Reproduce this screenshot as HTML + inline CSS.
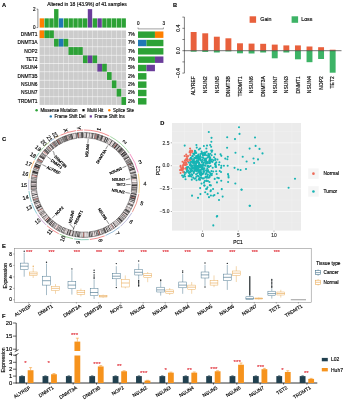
<!DOCTYPE html>
<html lang="en">
<head>
<meta charset="utf-8">
<title>Figure</title>
<style>
html,body{margin:0;padding:0;background:#fff;}
body{width:343px;height:400px;overflow:hidden;}
svg{display:block;font-family:"Liberation Sans",sans-serif;}
</style>
</head>
<body>
<svg width="343" height="400" viewBox="0 0 343 400">
<rect x="0" y="0" width="343" height="400" fill="#ffffff"/>
<text x="2.00" y="7.30" font-size="5.7" text-anchor="start" fill="#000" stroke="#000" stroke-width="0.14" font-weight="bold">A</text>
<text x="173.00" y="7.10" font-size="5.7" text-anchor="start" fill="#000" stroke="#000" stroke-width="0.14" font-weight="bold">B</text>
<text x="2.00" y="140.70" font-size="5.7" text-anchor="start" fill="#000" stroke="#000" stroke-width="0.14" font-weight="bold">C</text>
<text x="160.20" y="125.40" font-size="5.7" text-anchor="start" fill="#000" stroke="#000" stroke-width="0.14" font-weight="bold">D</text>
<text x="2.10" y="247.70" font-size="5.7" text-anchor="start" fill="#000" stroke="#000" stroke-width="0.14" font-weight="bold">E</text>
<text x="1.90" y="318.40" font-size="5.7" text-anchor="start" fill="#000" stroke="#000" stroke-width="0.14" font-weight="bold">F</text>
<g id="panelA">
<text x="87.00" y="5.80" font-size="5.0" text-anchor="middle" fill="#000" stroke="#000" stroke-width="0.14">Altered in 18 (43.9%) of 41 samples</text>
<rect x="39.65" y="18.35" width="4.37" height="9.25" fill="#FF7F00"/>
<rect x="44.46" y="18.35" width="4.37" height="9.25" fill="#2CA236"/>
<rect x="49.28" y="18.35" width="4.37" height="9.25" fill="#2CA236"/>
<rect x="54.09" y="9.10" width="4.37" height="18.50" fill="#2CA236"/>
<rect x="58.91" y="18.35" width="4.37" height="9.25" fill="#1F78B4"/>
<rect x="63.73" y="18.35" width="4.37" height="9.25" fill="#2CA236"/>
<rect x="68.54" y="18.35" width="4.37" height="9.25" fill="#2CA236"/>
<rect x="73.36" y="18.35" width="4.37" height="9.25" fill="#2CA236"/>
<rect x="78.17" y="18.35" width="4.37" height="9.25" fill="#2CA236"/>
<rect x="82.99" y="18.35" width="4.37" height="9.25" fill="#2CA236"/>
<rect x="87.80" y="9.10" width="4.37" height="18.50" fill="#6A3D9A"/>
<rect x="92.62" y="18.35" width="4.37" height="9.25" fill="#2CA236"/>
<rect x="97.43" y="18.35" width="4.37" height="9.25" fill="#6A3D9A"/>
<rect x="102.25" y="18.35" width="4.37" height="9.25" fill="#2CA236"/>
<rect x="107.06" y="18.35" width="4.37" height="9.25" fill="#2CA236"/>
<rect x="111.88" y="18.35" width="4.37" height="9.25" fill="#2CA236"/>
<rect x="116.69" y="18.35" width="4.37" height="9.25" fill="#2CA236"/>
<rect x="121.51" y="18.35" width="4.37" height="9.25" fill="#2CA236"/>
<line x1="37.90" y1="27.60" x2="37.90" y2="9.10" stroke="#000" stroke-width="0.45"/>
<line x1="36.60" y1="27.60" x2="37.90" y2="27.60" stroke="#000" stroke-width="0.45"/>
<line x1="36.60" y1="9.10" x2="37.90" y2="9.10" stroke="#000" stroke-width="0.45"/>
<text x="35.60" y="29.20" font-size="4.6" text-anchor="end" fill="#000" stroke="#000" stroke-width="0.14">0</text>
<text x="35.60" y="10.70" font-size="4.6" text-anchor="end" fill="#000" stroke="#000" stroke-width="0.14">2</text>
<rect x="39.60" y="30.45" width="4.60" height="7.80" fill="#CCCCCC"/>
<rect x="44.41" y="30.45" width="4.60" height="7.80" fill="#CCCCCC"/>
<rect x="49.23" y="30.45" width="4.60" height="7.80" fill="#CCCCCC"/>
<rect x="54.05" y="30.45" width="4.60" height="7.80" fill="#CCCCCC"/>
<rect x="58.86" y="30.45" width="4.60" height="7.80" fill="#CCCCCC"/>
<rect x="63.68" y="30.45" width="4.60" height="7.80" fill="#CCCCCC"/>
<rect x="68.49" y="30.45" width="4.60" height="7.80" fill="#CCCCCC"/>
<rect x="73.31" y="30.45" width="4.60" height="7.80" fill="#CCCCCC"/>
<rect x="78.12" y="30.45" width="4.60" height="7.80" fill="#CCCCCC"/>
<rect x="82.94" y="30.45" width="4.60" height="7.80" fill="#CCCCCC"/>
<rect x="87.75" y="30.45" width="4.60" height="7.80" fill="#CCCCCC"/>
<rect x="92.56" y="30.45" width="4.60" height="7.80" fill="#CCCCCC"/>
<rect x="97.38" y="30.45" width="4.60" height="7.80" fill="#CCCCCC"/>
<rect x="102.19" y="30.45" width="4.60" height="7.80" fill="#CCCCCC"/>
<rect x="107.01" y="30.45" width="4.60" height="7.80" fill="#CCCCCC"/>
<rect x="111.83" y="30.45" width="4.60" height="7.80" fill="#CCCCCC"/>
<rect x="116.64" y="30.45" width="4.60" height="7.80" fill="#CCCCCC"/>
<rect x="121.45" y="30.45" width="4.60" height="7.80" fill="#CCCCCC"/>
<rect x="39.60" y="30.45" width="4.60" height="7.80" fill="#FF7F00"/>
<rect x="44.41" y="30.45" width="4.60" height="7.80" fill="#2CA236"/>
<rect x="49.23" y="30.45" width="4.60" height="7.80" fill="#2CA236"/>
<text x="37.60" y="36.10" font-size="4.9" text-anchor="end" fill="#000" stroke="#000" stroke-width="0.14">DNMT1</text>
<text x="131.40" y="36.10" font-size="4.8" text-anchor="middle" fill="#000" stroke="#000" stroke-width="0.14">7%</text>
<rect x="39.60" y="38.78" width="4.60" height="7.80" fill="#CCCCCC"/>
<rect x="44.41" y="38.78" width="4.60" height="7.80" fill="#CCCCCC"/>
<rect x="49.23" y="38.78" width="4.60" height="7.80" fill="#CCCCCC"/>
<rect x="54.05" y="38.78" width="4.60" height="7.80" fill="#CCCCCC"/>
<rect x="58.86" y="38.78" width="4.60" height="7.80" fill="#CCCCCC"/>
<rect x="63.68" y="38.78" width="4.60" height="7.80" fill="#CCCCCC"/>
<rect x="68.49" y="38.78" width="4.60" height="7.80" fill="#CCCCCC"/>
<rect x="73.31" y="38.78" width="4.60" height="7.80" fill="#CCCCCC"/>
<rect x="78.12" y="38.78" width="4.60" height="7.80" fill="#CCCCCC"/>
<rect x="82.94" y="38.78" width="4.60" height="7.80" fill="#CCCCCC"/>
<rect x="87.75" y="38.78" width="4.60" height="7.80" fill="#CCCCCC"/>
<rect x="92.56" y="38.78" width="4.60" height="7.80" fill="#CCCCCC"/>
<rect x="97.38" y="38.78" width="4.60" height="7.80" fill="#CCCCCC"/>
<rect x="102.19" y="38.78" width="4.60" height="7.80" fill="#CCCCCC"/>
<rect x="107.01" y="38.78" width="4.60" height="7.80" fill="#CCCCCC"/>
<rect x="111.83" y="38.78" width="4.60" height="7.80" fill="#CCCCCC"/>
<rect x="116.64" y="38.78" width="4.60" height="7.80" fill="#CCCCCC"/>
<rect x="121.45" y="38.78" width="4.60" height="7.80" fill="#CCCCCC"/>
<rect x="54.05" y="38.78" width="4.60" height="7.80" fill="#2CA236"/>
<rect x="58.86" y="38.78" width="4.60" height="7.80" fill="#1F78B4"/>
<rect x="63.68" y="38.78" width="4.60" height="7.80" fill="#2CA236"/>
<text x="37.60" y="44.43" font-size="4.9" text-anchor="end" fill="#000" stroke="#000" stroke-width="0.14">DNMT3A</text>
<text x="131.40" y="44.43" font-size="4.8" text-anchor="middle" fill="#000" stroke="#000" stroke-width="0.14">7%</text>
<rect x="39.60" y="47.11" width="4.60" height="7.80" fill="#CCCCCC"/>
<rect x="44.41" y="47.11" width="4.60" height="7.80" fill="#CCCCCC"/>
<rect x="49.23" y="47.11" width="4.60" height="7.80" fill="#CCCCCC"/>
<rect x="54.05" y="47.11" width="4.60" height="7.80" fill="#CCCCCC"/>
<rect x="58.86" y="47.11" width="4.60" height="7.80" fill="#CCCCCC"/>
<rect x="63.68" y="47.11" width="4.60" height="7.80" fill="#CCCCCC"/>
<rect x="68.49" y="47.11" width="4.60" height="7.80" fill="#CCCCCC"/>
<rect x="73.31" y="47.11" width="4.60" height="7.80" fill="#CCCCCC"/>
<rect x="78.12" y="47.11" width="4.60" height="7.80" fill="#CCCCCC"/>
<rect x="82.94" y="47.11" width="4.60" height="7.80" fill="#CCCCCC"/>
<rect x="87.75" y="47.11" width="4.60" height="7.80" fill="#CCCCCC"/>
<rect x="92.56" y="47.11" width="4.60" height="7.80" fill="#CCCCCC"/>
<rect x="97.38" y="47.11" width="4.60" height="7.80" fill="#CCCCCC"/>
<rect x="102.19" y="47.11" width="4.60" height="7.80" fill="#CCCCCC"/>
<rect x="107.01" y="47.11" width="4.60" height="7.80" fill="#CCCCCC"/>
<rect x="111.83" y="47.11" width="4.60" height="7.80" fill="#CCCCCC"/>
<rect x="116.64" y="47.11" width="4.60" height="7.80" fill="#CCCCCC"/>
<rect x="121.45" y="47.11" width="4.60" height="7.80" fill="#CCCCCC"/>
<rect x="68.49" y="47.11" width="4.60" height="7.80" fill="#2CA236"/>
<rect x="73.31" y="47.11" width="4.60" height="7.80" fill="#2CA236"/>
<rect x="78.12" y="47.11" width="4.60" height="7.80" fill="#2CA236"/>
<text x="37.60" y="52.76" font-size="4.9" text-anchor="end" fill="#000" stroke="#000" stroke-width="0.14">NOP2</text>
<text x="131.40" y="52.76" font-size="4.8" text-anchor="middle" fill="#000" stroke="#000" stroke-width="0.14">7%</text>
<rect x="39.60" y="55.44" width="4.60" height="7.80" fill="#CCCCCC"/>
<rect x="44.41" y="55.44" width="4.60" height="7.80" fill="#CCCCCC"/>
<rect x="49.23" y="55.44" width="4.60" height="7.80" fill="#CCCCCC"/>
<rect x="54.05" y="55.44" width="4.60" height="7.80" fill="#CCCCCC"/>
<rect x="58.86" y="55.44" width="4.60" height="7.80" fill="#CCCCCC"/>
<rect x="63.68" y="55.44" width="4.60" height="7.80" fill="#CCCCCC"/>
<rect x="68.49" y="55.44" width="4.60" height="7.80" fill="#CCCCCC"/>
<rect x="73.31" y="55.44" width="4.60" height="7.80" fill="#CCCCCC"/>
<rect x="78.12" y="55.44" width="4.60" height="7.80" fill="#CCCCCC"/>
<rect x="82.94" y="55.44" width="4.60" height="7.80" fill="#CCCCCC"/>
<rect x="87.75" y="55.44" width="4.60" height="7.80" fill="#CCCCCC"/>
<rect x="92.56" y="55.44" width="4.60" height="7.80" fill="#CCCCCC"/>
<rect x="97.38" y="55.44" width="4.60" height="7.80" fill="#CCCCCC"/>
<rect x="102.19" y="55.44" width="4.60" height="7.80" fill="#CCCCCC"/>
<rect x="107.01" y="55.44" width="4.60" height="7.80" fill="#CCCCCC"/>
<rect x="111.83" y="55.44" width="4.60" height="7.80" fill="#CCCCCC"/>
<rect x="116.64" y="55.44" width="4.60" height="7.80" fill="#CCCCCC"/>
<rect x="121.45" y="55.44" width="4.60" height="7.80" fill="#CCCCCC"/>
<rect x="82.94" y="55.44" width="4.60" height="7.80" fill="#2CA236"/>
<rect x="87.75" y="55.44" width="4.60" height="7.80" fill="#6A3D9A"/>
<rect x="92.56" y="55.44" width="4.60" height="7.80" fill="#2CA236"/>
<text x="37.60" y="61.09" font-size="4.9" text-anchor="end" fill="#000" stroke="#000" stroke-width="0.14">TET2</text>
<text x="131.40" y="61.09" font-size="4.8" text-anchor="middle" fill="#000" stroke="#000" stroke-width="0.14">7%</text>
<rect x="39.60" y="63.77" width="4.60" height="7.80" fill="#CCCCCC"/>
<rect x="44.41" y="63.77" width="4.60" height="7.80" fill="#CCCCCC"/>
<rect x="49.23" y="63.77" width="4.60" height="7.80" fill="#CCCCCC"/>
<rect x="54.05" y="63.77" width="4.60" height="7.80" fill="#CCCCCC"/>
<rect x="58.86" y="63.77" width="4.60" height="7.80" fill="#CCCCCC"/>
<rect x="63.68" y="63.77" width="4.60" height="7.80" fill="#CCCCCC"/>
<rect x="68.49" y="63.77" width="4.60" height="7.80" fill="#CCCCCC"/>
<rect x="73.31" y="63.77" width="4.60" height="7.80" fill="#CCCCCC"/>
<rect x="78.12" y="63.77" width="4.60" height="7.80" fill="#CCCCCC"/>
<rect x="82.94" y="63.77" width="4.60" height="7.80" fill="#CCCCCC"/>
<rect x="87.75" y="63.77" width="4.60" height="7.80" fill="#CCCCCC"/>
<rect x="92.56" y="63.77" width="4.60" height="7.80" fill="#CCCCCC"/>
<rect x="97.38" y="63.77" width="4.60" height="7.80" fill="#CCCCCC"/>
<rect x="102.19" y="63.77" width="4.60" height="7.80" fill="#CCCCCC"/>
<rect x="107.01" y="63.77" width="4.60" height="7.80" fill="#CCCCCC"/>
<rect x="111.83" y="63.77" width="4.60" height="7.80" fill="#CCCCCC"/>
<rect x="116.64" y="63.77" width="4.60" height="7.80" fill="#CCCCCC"/>
<rect x="121.45" y="63.77" width="4.60" height="7.80" fill="#CCCCCC"/>
<rect x="97.38" y="63.77" width="4.60" height="7.80" fill="#6A3D9A"/>
<rect x="102.19" y="63.77" width="4.60" height="7.80" fill="#2CA236"/>
<text x="37.60" y="69.42" font-size="4.9" text-anchor="end" fill="#000" stroke="#000" stroke-width="0.14">NSUN4</text>
<text x="131.40" y="69.42" font-size="4.8" text-anchor="middle" fill="#000" stroke="#000" stroke-width="0.14">5%</text>
<rect x="39.60" y="72.10" width="4.60" height="7.80" fill="#CCCCCC"/>
<rect x="44.41" y="72.10" width="4.60" height="7.80" fill="#CCCCCC"/>
<rect x="49.23" y="72.10" width="4.60" height="7.80" fill="#CCCCCC"/>
<rect x="54.05" y="72.10" width="4.60" height="7.80" fill="#CCCCCC"/>
<rect x="58.86" y="72.10" width="4.60" height="7.80" fill="#CCCCCC"/>
<rect x="63.68" y="72.10" width="4.60" height="7.80" fill="#CCCCCC"/>
<rect x="68.49" y="72.10" width="4.60" height="7.80" fill="#CCCCCC"/>
<rect x="73.31" y="72.10" width="4.60" height="7.80" fill="#CCCCCC"/>
<rect x="78.12" y="72.10" width="4.60" height="7.80" fill="#CCCCCC"/>
<rect x="82.94" y="72.10" width="4.60" height="7.80" fill="#CCCCCC"/>
<rect x="87.75" y="72.10" width="4.60" height="7.80" fill="#CCCCCC"/>
<rect x="92.56" y="72.10" width="4.60" height="7.80" fill="#CCCCCC"/>
<rect x="97.38" y="72.10" width="4.60" height="7.80" fill="#CCCCCC"/>
<rect x="102.19" y="72.10" width="4.60" height="7.80" fill="#CCCCCC"/>
<rect x="107.01" y="72.10" width="4.60" height="7.80" fill="#CCCCCC"/>
<rect x="111.83" y="72.10" width="4.60" height="7.80" fill="#CCCCCC"/>
<rect x="116.64" y="72.10" width="4.60" height="7.80" fill="#CCCCCC"/>
<rect x="121.45" y="72.10" width="4.60" height="7.80" fill="#CCCCCC"/>
<rect x="107.01" y="72.10" width="4.60" height="7.80" fill="#2CA236"/>
<text x="37.60" y="77.75" font-size="4.9" text-anchor="end" fill="#000" stroke="#000" stroke-width="0.14">DNMT3B</text>
<text x="131.40" y="77.75" font-size="4.8" text-anchor="middle" fill="#000" stroke="#000" stroke-width="0.14">2%</text>
<rect x="39.60" y="80.43" width="4.60" height="7.80" fill="#CCCCCC"/>
<rect x="44.41" y="80.43" width="4.60" height="7.80" fill="#CCCCCC"/>
<rect x="49.23" y="80.43" width="4.60" height="7.80" fill="#CCCCCC"/>
<rect x="54.05" y="80.43" width="4.60" height="7.80" fill="#CCCCCC"/>
<rect x="58.86" y="80.43" width="4.60" height="7.80" fill="#CCCCCC"/>
<rect x="63.68" y="80.43" width="4.60" height="7.80" fill="#CCCCCC"/>
<rect x="68.49" y="80.43" width="4.60" height="7.80" fill="#CCCCCC"/>
<rect x="73.31" y="80.43" width="4.60" height="7.80" fill="#CCCCCC"/>
<rect x="78.12" y="80.43" width="4.60" height="7.80" fill="#CCCCCC"/>
<rect x="82.94" y="80.43" width="4.60" height="7.80" fill="#CCCCCC"/>
<rect x="87.75" y="80.43" width="4.60" height="7.80" fill="#CCCCCC"/>
<rect x="92.56" y="80.43" width="4.60" height="7.80" fill="#CCCCCC"/>
<rect x="97.38" y="80.43" width="4.60" height="7.80" fill="#CCCCCC"/>
<rect x="102.19" y="80.43" width="4.60" height="7.80" fill="#CCCCCC"/>
<rect x="107.01" y="80.43" width="4.60" height="7.80" fill="#CCCCCC"/>
<rect x="111.83" y="80.43" width="4.60" height="7.80" fill="#CCCCCC"/>
<rect x="116.64" y="80.43" width="4.60" height="7.80" fill="#CCCCCC"/>
<rect x="121.45" y="80.43" width="4.60" height="7.80" fill="#CCCCCC"/>
<rect x="111.83" y="80.43" width="4.60" height="7.80" fill="#2CA236"/>
<text x="37.60" y="86.08" font-size="4.9" text-anchor="end" fill="#000" stroke="#000" stroke-width="0.14">NSUN6</text>
<text x="131.40" y="86.08" font-size="4.8" text-anchor="middle" fill="#000" stroke="#000" stroke-width="0.14">2%</text>
<rect x="39.60" y="88.76" width="4.60" height="7.80" fill="#CCCCCC"/>
<rect x="44.41" y="88.76" width="4.60" height="7.80" fill="#CCCCCC"/>
<rect x="49.23" y="88.76" width="4.60" height="7.80" fill="#CCCCCC"/>
<rect x="54.05" y="88.76" width="4.60" height="7.80" fill="#CCCCCC"/>
<rect x="58.86" y="88.76" width="4.60" height="7.80" fill="#CCCCCC"/>
<rect x="63.68" y="88.76" width="4.60" height="7.80" fill="#CCCCCC"/>
<rect x="68.49" y="88.76" width="4.60" height="7.80" fill="#CCCCCC"/>
<rect x="73.31" y="88.76" width="4.60" height="7.80" fill="#CCCCCC"/>
<rect x="78.12" y="88.76" width="4.60" height="7.80" fill="#CCCCCC"/>
<rect x="82.94" y="88.76" width="4.60" height="7.80" fill="#CCCCCC"/>
<rect x="87.75" y="88.76" width="4.60" height="7.80" fill="#CCCCCC"/>
<rect x="92.56" y="88.76" width="4.60" height="7.80" fill="#CCCCCC"/>
<rect x="97.38" y="88.76" width="4.60" height="7.80" fill="#CCCCCC"/>
<rect x="102.19" y="88.76" width="4.60" height="7.80" fill="#CCCCCC"/>
<rect x="107.01" y="88.76" width="4.60" height="7.80" fill="#CCCCCC"/>
<rect x="111.83" y="88.76" width="4.60" height="7.80" fill="#CCCCCC"/>
<rect x="116.64" y="88.76" width="4.60" height="7.80" fill="#CCCCCC"/>
<rect x="121.45" y="88.76" width="4.60" height="7.80" fill="#CCCCCC"/>
<rect x="116.64" y="88.76" width="4.60" height="7.80" fill="#2CA236"/>
<text x="37.60" y="94.41" font-size="4.9" text-anchor="end" fill="#000" stroke="#000" stroke-width="0.14">NSUN7</text>
<text x="131.40" y="94.41" font-size="4.8" text-anchor="middle" fill="#000" stroke="#000" stroke-width="0.14">2%</text>
<rect x="39.60" y="97.09" width="4.60" height="7.80" fill="#CCCCCC"/>
<rect x="44.41" y="97.09" width="4.60" height="7.80" fill="#CCCCCC"/>
<rect x="49.23" y="97.09" width="4.60" height="7.80" fill="#CCCCCC"/>
<rect x="54.05" y="97.09" width="4.60" height="7.80" fill="#CCCCCC"/>
<rect x="58.86" y="97.09" width="4.60" height="7.80" fill="#CCCCCC"/>
<rect x="63.68" y="97.09" width="4.60" height="7.80" fill="#CCCCCC"/>
<rect x="68.49" y="97.09" width="4.60" height="7.80" fill="#CCCCCC"/>
<rect x="73.31" y="97.09" width="4.60" height="7.80" fill="#CCCCCC"/>
<rect x="78.12" y="97.09" width="4.60" height="7.80" fill="#CCCCCC"/>
<rect x="82.94" y="97.09" width="4.60" height="7.80" fill="#CCCCCC"/>
<rect x="87.75" y="97.09" width="4.60" height="7.80" fill="#CCCCCC"/>
<rect x="92.56" y="97.09" width="4.60" height="7.80" fill="#CCCCCC"/>
<rect x="97.38" y="97.09" width="4.60" height="7.80" fill="#CCCCCC"/>
<rect x="102.19" y="97.09" width="4.60" height="7.80" fill="#CCCCCC"/>
<rect x="107.01" y="97.09" width="4.60" height="7.80" fill="#CCCCCC"/>
<rect x="111.83" y="97.09" width="4.60" height="7.80" fill="#CCCCCC"/>
<rect x="116.64" y="97.09" width="4.60" height="7.80" fill="#CCCCCC"/>
<rect x="121.45" y="97.09" width="4.60" height="7.80" fill="#CCCCCC"/>
<rect x="121.45" y="97.09" width="4.60" height="7.80" fill="#2CA236"/>
<text x="37.60" y="102.74" font-size="4.9" text-anchor="end" fill="#000" stroke="#000" stroke-width="0.14">TRDMT1</text>
<text x="131.40" y="102.74" font-size="4.8" text-anchor="middle" fill="#000" stroke="#000" stroke-width="0.14">2%</text>
<rect x="138.00" y="31.45" width="16.94" height="6.45" fill="#2CA236"/>
<rect x="154.94" y="31.45" width="8.47" height="6.45" fill="#FF7F00"/>
<rect x="138.00" y="39.78" width="8.47" height="6.45" fill="#1F78B4"/>
<rect x="146.47" y="39.78" width="16.94" height="6.45" fill="#2CA236"/>
<rect x="138.00" y="48.11" width="25.41" height="6.45" fill="#2CA236"/>
<rect x="138.00" y="56.44" width="16.94" height="6.45" fill="#2CA236"/>
<rect x="154.94" y="56.44" width="8.47" height="6.45" fill="#6A3D9A"/>
<rect x="138.00" y="64.77" width="8.47" height="6.45" fill="#2CA236"/>
<rect x="146.47" y="64.77" width="8.47" height="6.45" fill="#6A3D9A"/>
<rect x="138.00" y="73.10" width="8.47" height="6.45" fill="#2CA236"/>
<rect x="138.00" y="81.43" width="8.47" height="6.45" fill="#2CA236"/>
<rect x="138.00" y="89.76" width="8.47" height="6.45" fill="#2CA236"/>
<rect x="138.00" y="98.09" width="8.47" height="6.45" fill="#2CA236"/>
<line x1="138.00" y1="28.90" x2="163.41" y2="28.90" stroke="#444" stroke-width="0.5"/>
<line x1="138.00" y1="28.90" x2="138.00" y2="27.50" stroke="#444" stroke-width="0.5"/>
<line x1="163.41" y1="28.90" x2="163.41" y2="27.50" stroke="#444" stroke-width="0.5"/>
<text x="138.40" y="24.60" font-size="4.6" text-anchor="middle" fill="#000" stroke="#000" stroke-width="0.14">0</text>
<text x="163.71" y="24.60" font-size="4.6" text-anchor="middle" fill="#000" stroke="#000" stroke-width="0.14">3</text>
<circle cx="36.60" cy="110.20" r="1.2" fill="#2CA236"/>
<text x="40.40" y="111.80" font-size="4.45" text-anchor="start" fill="#000" stroke="#000" stroke-width="0.14">Missense Mutation</text>
<rect x="82.40" y="109.10" width="2.20" height="2.20" fill="#000"/>
<text x="87.30" y="111.80" font-size="4.45" text-anchor="start" fill="#000" stroke="#000" stroke-width="0.14">Multi Hit</text>
<circle cx="109.30" cy="110.20" r="1.2" fill="#FF7F00"/>
<text x="113.10" y="111.80" font-size="4.45" text-anchor="start" fill="#000" stroke="#000" stroke-width="0.14">Splice Site</text>
<circle cx="50.80" cy="116.40" r="1.2" fill="#1F78B4"/>
<text x="54.60" y="118.00" font-size="4.45" text-anchor="start" fill="#000" stroke="#000" stroke-width="0.14">Frame Shift Del</text>
<rect x="89.70" y="115.30" width="2.20" height="2.20" fill="#6A3D9A"/>
<text x="94.60" y="118.00" font-size="4.45" text-anchor="start" fill="#000" stroke="#000" stroke-width="0.14">Frame Shift Ins</text>
</g>
<g id="panelB">
<rect x="190.70" y="32.00" width="5.90" height="18.70" fill="#E8603C"/>
<rect x="190.70" y="50.70" width="5.90" height="1.00" fill="#3DB366"/>
<text x="195.45" y="76.20" font-size="5.0" text-anchor="end" fill="#000" stroke="#000" stroke-width="0.14" transform="rotate(-90.00 195.45 76.20)">ALYREF</text>
<rect x="202.28" y="33.30" width="5.90" height="17.40" fill="#E8603C"/>
<rect x="202.28" y="50.70" width="5.90" height="1.20" fill="#3DB366"/>
<text x="207.03" y="76.20" font-size="5.0" text-anchor="end" fill="#000" stroke="#000" stroke-width="0.14" transform="rotate(-90.00 207.03 76.20)">NSUN2</text>
<rect x="213.87" y="36.70" width="5.90" height="14.00" fill="#E8603C"/>
<rect x="213.87" y="50.70" width="5.90" height="1.80" fill="#3DB366"/>
<text x="218.62" y="76.20" font-size="5.0" text-anchor="end" fill="#000" stroke="#000" stroke-width="0.14" transform="rotate(-90.00 218.62 76.20)">NSUN5</text>
<rect x="225.45" y="38.30" width="5.90" height="12.40" fill="#E8603C"/>
<rect x="225.45" y="50.70" width="5.90" height="0.70" fill="#3DB366"/>
<text x="230.20" y="76.20" font-size="5.0" text-anchor="end" fill="#000" stroke="#000" stroke-width="0.14" transform="rotate(-90.00 230.20 76.20)">DNMT3B</text>
<rect x="237.04" y="43.30" width="5.90" height="7.40" fill="#E8603C"/>
<rect x="237.04" y="50.70" width="5.90" height="2.60" fill="#3DB366"/>
<text x="241.79" y="76.20" font-size="5.0" text-anchor="end" fill="#000" stroke="#000" stroke-width="0.14" transform="rotate(-90.00 241.79 76.20)">TRDMT1</text>
<rect x="248.62" y="43.60" width="5.90" height="7.10" fill="#E8603C"/>
<rect x="248.62" y="50.70" width="5.90" height="2.80" fill="#3DB366"/>
<text x="253.38" y="76.20" font-size="5.0" text-anchor="end" fill="#000" stroke="#000" stroke-width="0.14" transform="rotate(-90.00 253.38 76.20)">NSUN6</text>
<rect x="260.21" y="43.80" width="5.90" height="6.90" fill="#E8603C"/>
<rect x="260.21" y="50.70" width="5.90" height="1.80" fill="#3DB366"/>
<text x="264.96" y="76.20" font-size="5.0" text-anchor="end" fill="#000" stroke="#000" stroke-width="0.14" transform="rotate(-90.00 264.96 76.20)">DNMT3A</text>
<rect x="271.79" y="44.60" width="5.90" height="6.10" fill="#E8603C"/>
<rect x="271.79" y="50.70" width="5.90" height="7.60" fill="#3DB366"/>
<text x="276.54" y="76.20" font-size="5.0" text-anchor="end" fill="#000" stroke="#000" stroke-width="0.14" transform="rotate(-90.00 276.54 76.20)">NSUN7</text>
<rect x="283.38" y="45.40" width="5.90" height="5.30" fill="#E8603C"/>
<rect x="283.38" y="50.70" width="5.90" height="1.80" fill="#3DB366"/>
<text x="288.13" y="76.20" font-size="5.0" text-anchor="end" fill="#000" stroke="#000" stroke-width="0.14" transform="rotate(-90.00 288.13 76.20)">NSUN3</text>
<rect x="294.97" y="45.40" width="5.90" height="5.30" fill="#E8603C"/>
<rect x="294.97" y="50.70" width="5.90" height="8.60" fill="#3DB366"/>
<text x="299.72" y="76.20" font-size="5.0" text-anchor="end" fill="#000" stroke="#000" stroke-width="0.14" transform="rotate(-90.00 299.72 76.20)">DNMT1</text>
<rect x="306.55" y="46.50" width="5.90" height="4.20" fill="#E8603C"/>
<rect x="306.55" y="50.70" width="5.90" height="11.50" fill="#3DB366"/>
<text x="311.30" y="76.20" font-size="5.0" text-anchor="end" fill="#000" stroke="#000" stroke-width="0.14" transform="rotate(-90.00 311.30 76.20)">NSUN4</text>
<rect x="318.13" y="47.20" width="5.90" height="3.50" fill="#E8603C"/>
<rect x="318.13" y="50.70" width="5.90" height="8.30" fill="#3DB366"/>
<text x="322.88" y="76.20" font-size="5.0" text-anchor="end" fill="#000" stroke="#000" stroke-width="0.14" transform="rotate(-90.00 322.88 76.20)">NOP2</text>
<rect x="329.72" y="49.70" width="5.90" height="1.00" fill="#E8603C"/>
<rect x="329.72" y="50.70" width="5.90" height="22.00" fill="#3DB366"/>
<text x="334.47" y="76.20" font-size="5.0" text-anchor="end" fill="#000" stroke="#000" stroke-width="0.14" transform="rotate(-90.00 334.47 76.20)">TET2</text>
<line x1="184.40" y1="50.70" x2="341.50" y2="50.70" stroke="#3a3a3a" stroke-width="0.7"/>
<line x1="184.40" y1="17.10" x2="184.40" y2="73.10" stroke="#000" stroke-width="0.5"/>
<line x1="182.40" y1="17.10" x2="184.40" y2="17.10" stroke="#000" stroke-width="0.5"/>
<line x1="182.40" y1="28.30" x2="184.40" y2="28.30" stroke="#000" stroke-width="0.5"/>
<line x1="182.40" y1="39.50" x2="184.40" y2="39.50" stroke="#000" stroke-width="0.5"/>
<line x1="182.40" y1="50.70" x2="184.40" y2="50.70" stroke="#000" stroke-width="0.5"/>
<line x1="182.40" y1="61.90" x2="184.40" y2="61.90" stroke="#000" stroke-width="0.5"/>
<line x1="182.40" y1="73.10" x2="184.40" y2="73.10" stroke="#000" stroke-width="0.5"/>
<text x="179.60" y="28.30" font-size="5.0" text-anchor="middle" fill="#000" stroke="#000" stroke-width="0.14" transform="rotate(-90.00 179.60 28.30)">0.4</text>
<text x="179.60" y="50.70" font-size="5.0" text-anchor="middle" fill="#000" stroke="#000" stroke-width="0.14" transform="rotate(-90.00 179.60 50.70)">0.0</text>
<text x="179.60" y="73.10" font-size="5.0" text-anchor="middle" fill="#000" stroke="#000" stroke-width="0.14" transform="rotate(-90.00 179.60 73.10)">−0.4</text>
<rect x="249.60" y="16.30" width="6.50" height="6.50" fill="#E8603C"/>
<text x="260.30" y="21.40" font-size="5.3" text-anchor="start" fill="#000" stroke="#000" stroke-width="0.14">Gain</text>
<rect x="291.60" y="16.30" width="6.50" height="6.50" fill="#3DB366"/>
<text x="301.20" y="21.40" font-size="5.3" text-anchor="start" fill="#000" stroke="#000" stroke-width="0.14">Loss</text>
</g>
<g id="panelC" transform="translate(84.1 184.9) scale(1 0.989) translate(-84.1 -184.5)">
<path d="M84.10 134.05A50.45 50.45 0 0 1 107.08 139.59" fill="none" stroke="#F4ECEC" stroke-width="5.300000000000004"/>
<path d="M84.10 134.05A50.45 50.45 0 0 1 84.43 134.05" fill="none" stroke="#F5E4E6" stroke-width="5.300000000000004"/>
<path d="M84.43 134.05A50.45 50.45 0 0 1 84.93 134.06" fill="none" stroke="#FFFFFF" stroke-width="5.300000000000004"/>
<path d="M84.93 134.06A50.45 50.45 0 0 1 85.37 134.07" fill="none" stroke="#A5A0A0" stroke-width="5.300000000000004"/>
<path d="M85.37 134.07A50.45 50.45 0 0 1 85.57 134.07" fill="none" stroke="#686464" stroke-width="5.300000000000004"/>
<path d="M85.57 134.07A50.45 50.45 0 0 1 85.76 134.08" fill="none" stroke="#A5A0A0" stroke-width="5.300000000000004"/>
<path d="M85.76 134.08A50.45 50.45 0 0 1 85.97 134.08" fill="none" stroke="#FFFFFF" stroke-width="5.300000000000004"/>
<path d="M85.97 134.08A50.45 50.45 0 0 1 86.35 134.10" fill="none" stroke="#000000" stroke-width="5.300000000000004"/>
<path d="M86.35 134.10A50.45 50.45 0 0 1 86.58 134.11" fill="none" stroke="#F5E4E6" stroke-width="5.300000000000004"/>
<path d="M86.58 134.11A50.45 50.45 0 0 1 87.07 134.14" fill="none" stroke="#000000" stroke-width="5.300000000000004"/>
<path d="M87.07 134.14A50.45 50.45 0 0 1 87.53 134.17" fill="none" stroke="#A5A0A0" stroke-width="5.300000000000004"/>
<path d="M87.53 134.17A50.45 50.45 0 0 1 88.18 134.22" fill="none" stroke="#FFFFFF" stroke-width="5.300000000000004"/>
<path d="M88.18 134.22A50.45 50.45 0 0 1 88.78 134.27" fill="none" stroke="#D5D0D0" stroke-width="5.300000000000004"/>
<path d="M88.78 134.27A50.45 50.45 0 0 1 89.02 134.29" fill="none" stroke="#F5E4E6" stroke-width="5.300000000000004"/>
<path d="M89.02 134.29A50.45 50.45 0 0 1 89.35 134.32" fill="none" stroke="#000000" stroke-width="5.300000000000004"/>
<path d="M89.35 134.32A50.45 50.45 0 0 1 89.61 134.35" fill="none" stroke="#686464" stroke-width="5.300000000000004"/>
<path d="M89.61 134.35A50.45 50.45 0 0 1 90.10 134.41" fill="none" stroke="#A5A0A0" stroke-width="5.300000000000004"/>
<path d="M90.10 134.41A50.45 50.45 0 0 1 90.54 134.46" fill="none" stroke="#FFFFFF" stroke-width="5.300000000000004"/>
<path d="M90.54 134.46A50.45 50.45 0 0 1 90.74 134.49" fill="none" stroke="#F5E4E6" stroke-width="5.300000000000004"/>
<path d="M90.74 134.49A50.45 50.45 0 0 1 91.24 134.56" fill="none" stroke="#A5A0A0" stroke-width="5.300000000000004"/>
<path d="M91.24 134.56A50.45 50.45 0 0 1 91.57 134.61" fill="none" stroke="#686464" stroke-width="5.300000000000004"/>
<path d="M91.57 134.61A50.45 50.45 0 0 1 91.96 134.67" fill="none" stroke="#D5D0D0" stroke-width="5.300000000000004"/>
<path d="M91.96 134.67A50.45 50.45 0 0 1 92.52 134.76" fill="none" stroke="#262424" stroke-width="5.300000000000004"/>
<path d="M92.52 134.76A50.45 50.45 0 0 1 92.81 134.81" fill="none" stroke="#686464" stroke-width="5.300000000000004"/>
<path d="M92.81 134.81A50.45 50.45 0 0 1 93.24 134.88" fill="none" stroke="#000000" stroke-width="5.300000000000004"/>
<path d="M93.24 134.88A50.45 50.45 0 0 1 93.76 134.98" fill="none" stroke="#D5D0D0" stroke-width="5.300000000000004"/>
<path d="M93.76 134.98A50.45 50.45 0 0 1 94.41 135.12" fill="none" stroke="#F5E4E6" stroke-width="5.300000000000004"/>
<path d="M94.41 135.12A50.45 50.45 0 0 1 94.78 135.19" fill="none" stroke="#262424" stroke-width="5.300000000000004"/>
<path d="M94.78 135.19A50.45 50.45 0 0 1 95.03 135.25" fill="none" stroke="#686464" stroke-width="5.300000000000004"/>
<path d="M95.03 135.25A50.45 50.45 0 0 1 95.21 135.29" fill="none" stroke="#262424" stroke-width="5.300000000000004"/>
<path d="M95.21 135.29A50.45 50.45 0 0 1 95.75 135.41" fill="none" stroke="#686464" stroke-width="5.300000000000004"/>
<path d="M95.75 135.41A50.45 50.45 0 0 1 96.34 135.56" fill="none" stroke="#C25048" stroke-width="5.300000000000004"/>
<path d="M96.34 135.56A50.45 50.45 0 0 1 96.84 135.69" fill="none" stroke="#686464" stroke-width="5.300000000000004"/>
<path d="M96.84 135.69A50.45 50.45 0 0 1 97.29 135.80" fill="none" stroke="#686464" stroke-width="5.300000000000004"/>
<path d="M97.29 135.80A50.45 50.45 0 0 1 97.86 135.96" fill="none" stroke="#000000" stroke-width="5.300000000000004"/>
<path d="M97.86 135.96A50.45 50.45 0 0 1 98.25 136.08" fill="none" stroke="#262424" stroke-width="5.300000000000004"/>
<path d="M98.25 136.08A50.45 50.45 0 0 1 98.45 136.13" fill="none" stroke="#262424" stroke-width="5.300000000000004"/>
<path d="M98.45 136.13A50.45 50.45 0 0 1 98.92 136.28" fill="none" stroke="#000000" stroke-width="5.300000000000004"/>
<path d="M98.92 136.28A50.45 50.45 0 0 1 99.47 136.45" fill="none" stroke="#D5D0D0" stroke-width="5.300000000000004"/>
<path d="M99.47 136.45A50.45 50.45 0 0 1 99.82 136.56" fill="none" stroke="#262424" stroke-width="5.300000000000004"/>
<path d="M99.82 136.56A50.45 50.45 0 0 1 99.99 136.62" fill="none" stroke="#686464" stroke-width="5.300000000000004"/>
<path d="M99.99 136.62A50.45 50.45 0 0 1 100.24 136.70" fill="none" stroke="#F5E4E6" stroke-width="5.300000000000004"/>
<path d="M100.24 136.70A50.45 50.45 0 0 1 100.43 136.77" fill="none" stroke="#262424" stroke-width="5.300000000000004"/>
<path d="M100.43 136.77A50.45 50.45 0 0 1 100.65 136.84" fill="none" stroke="#D5D0D0" stroke-width="5.300000000000004"/>
<path d="M100.65 136.84A50.45 50.45 0 0 1 101.00 136.96" fill="none" stroke="#000000" stroke-width="5.300000000000004"/>
<path d="M101.00 136.96A50.45 50.45 0 0 1 101.20 137.04" fill="none" stroke="#686464" stroke-width="5.300000000000004"/>
<path d="M101.20 137.04A50.45 50.45 0 0 1 101.62 137.19" fill="none" stroke="#000000" stroke-width="5.300000000000004"/>
<path d="M101.62 137.19A50.45 50.45 0 0 1 102.16 137.39" fill="none" stroke="#000000" stroke-width="5.300000000000004"/>
<path d="M102.16 137.39A50.45 50.45 0 0 1 102.45 137.51" fill="none" stroke="#A5A0A0" stroke-width="5.300000000000004"/>
<path d="M102.45 137.51A50.45 50.45 0 0 1 102.78 137.63" fill="none" stroke="#000000" stroke-width="5.300000000000004"/>
<path d="M102.78 137.63A50.45 50.45 0 0 1 103.38 137.88" fill="none" stroke="#F5E4E6" stroke-width="5.300000000000004"/>
<path d="M103.38 137.88A50.45 50.45 0 0 1 103.62 137.98" fill="none" stroke="#F5E4E6" stroke-width="5.300000000000004"/>
<path d="M103.62 137.98A50.45 50.45 0 0 1 103.88 138.09" fill="none" stroke="#686464" stroke-width="5.300000000000004"/>
<path d="M103.88 138.09A50.45 50.45 0 0 1 104.31 138.28" fill="none" stroke="#D5D0D0" stroke-width="5.300000000000004"/>
<path d="M104.31 138.28A50.45 50.45 0 0 1 104.47 138.35" fill="none" stroke="#A5A0A0" stroke-width="5.300000000000004"/>
<path d="M104.47 138.35A50.45 50.45 0 0 1 104.80 138.49" fill="none" stroke="#686464" stroke-width="5.300000000000004"/>
<path d="M104.80 138.49A50.45 50.45 0 0 1 105.38 138.76" fill="none" stroke="#262424" stroke-width="5.300000000000004"/>
<path d="M105.38 138.76A50.45 50.45 0 0 1 105.77 138.94" fill="none" stroke="#262424" stroke-width="5.300000000000004"/>
<path d="M105.77 138.94A50.45 50.45 0 0 1 106.23 139.16" fill="none" stroke="#FFFFFF" stroke-width="5.300000000000004"/>
<path d="M106.23 139.16A50.45 50.45 0 0 1 106.79 139.44" fill="none" stroke="#262424" stroke-width="5.300000000000004"/>
<path d="M106.79 139.44A50.45 50.45 0 0 1 107.08 139.59" fill="none" stroke="#000000" stroke-width="5.300000000000004"/>
<path d="M84.10 131.40A53.10 53.10 0 0 1 108.29 137.23" fill="none" stroke="#333" stroke-width="0.45"/>
<path d="M84.10 136.70A47.80 47.80 0 0 1 105.87 141.95" fill="none" stroke="#333" stroke-width="0.45"/>
<line x1="84.10" y1="136.70" x2="84.10" y2="131.40" stroke="#555" stroke-width="0.35"/>
<line x1="105.87" y1="141.95" x2="108.29" y2="137.23" stroke="#555" stroke-width="0.35"/>
<path d="M84.10 129.00A55.50 55.50 0 0 1 109.38 135.09" fill="none" stroke="#E41A1C" stroke-width="0.5"/>
<text font-size="5.5" text-anchor="middle" fill="#000" stroke="#000" stroke-width="0.14" transform="translate(98.77 128.22) rotate(-76.45)" y="1.95">1</text>
<path d="M107.84 139.99A50.45 50.45 0 0 1 125.18 155.21" fill="none" stroke="#F4ECEC" stroke-width="5.300000000000004"/>
<path d="M107.84 139.99A50.45 50.45 0 0 1 108.17 140.16" fill="none" stroke="#A5A0A0" stroke-width="5.300000000000004"/>
<path d="M108.17 140.16A50.45 50.45 0 0 1 108.36 140.27" fill="none" stroke="#262424" stroke-width="5.300000000000004"/>
<path d="M108.36 140.27A50.45 50.45 0 0 1 108.54 140.37" fill="none" stroke="#FFFFFF" stroke-width="5.300000000000004"/>
<path d="M108.54 140.37A50.45 50.45 0 0 1 108.78 140.50" fill="none" stroke="#F5E4E6" stroke-width="5.300000000000004"/>
<path d="M108.78 140.50A50.45 50.45 0 0 1 109.08 140.67" fill="none" stroke="#FFFFFF" stroke-width="5.300000000000004"/>
<path d="M109.08 140.67A50.45 50.45 0 0 1 109.23 140.75" fill="none" stroke="#F5E4E6" stroke-width="5.300000000000004"/>
<path d="M109.23 140.75A50.45 50.45 0 0 1 109.42 140.86" fill="none" stroke="#A5A0A0" stroke-width="5.300000000000004"/>
<path d="M109.42 140.86A50.45 50.45 0 0 1 109.58 140.96" fill="none" stroke="#000000" stroke-width="5.300000000000004"/>
<path d="M109.58 140.96A50.45 50.45 0 0 1 109.99 141.20" fill="none" stroke="#F5E4E6" stroke-width="5.300000000000004"/>
<path d="M109.99 141.20A50.45 50.45 0 0 1 110.25 141.35" fill="none" stroke="#A5A0A0" stroke-width="5.300000000000004"/>
<path d="M110.25 141.35A50.45 50.45 0 0 1 110.55 141.54" fill="none" stroke="#F5E4E6" stroke-width="5.300000000000004"/>
<path d="M110.55 141.54A50.45 50.45 0 0 1 111.05 141.85" fill="none" stroke="#000000" stroke-width="5.300000000000004"/>
<path d="M111.05 141.85A50.45 50.45 0 0 1 111.39 142.07" fill="none" stroke="#686464" stroke-width="5.300000000000004"/>
<path d="M111.39 142.07A50.45 50.45 0 0 1 111.58 142.19" fill="none" stroke="#FFFFFF" stroke-width="5.300000000000004"/>
<path d="M111.58 142.19A50.45 50.45 0 0 1 111.86 142.38" fill="none" stroke="#D5D0D0" stroke-width="5.300000000000004"/>
<path d="M111.86 142.38A50.45 50.45 0 0 1 112.35 142.70" fill="none" stroke="#F5E4E6" stroke-width="5.300000000000004"/>
<path d="M112.35 142.70A50.45 50.45 0 0 1 112.50 142.80" fill="none" stroke="#000000" stroke-width="5.300000000000004"/>
<path d="M112.50 142.80A50.45 50.45 0 0 1 112.86 143.05" fill="none" stroke="#F5E4E6" stroke-width="5.300000000000004"/>
<path d="M112.86 143.05A50.45 50.45 0 0 1 113.22 143.30" fill="none" stroke="#FFFFFF" stroke-width="5.300000000000004"/>
<path d="M113.22 143.30A50.45 50.45 0 0 1 113.58 143.56" fill="none" stroke="#000000" stroke-width="5.300000000000004"/>
<path d="M113.58 143.56A50.45 50.45 0 0 1 114.06 143.91" fill="none" stroke="#262424" stroke-width="5.300000000000004"/>
<path d="M114.06 143.91A50.45 50.45 0 0 1 114.31 144.09" fill="none" stroke="#A5A0A0" stroke-width="5.300000000000004"/>
<path d="M114.31 144.09A50.45 50.45 0 0 1 114.51 144.25" fill="none" stroke="#262424" stroke-width="5.300000000000004"/>
<path d="M114.51 144.25A50.45 50.45 0 0 1 114.86 144.51" fill="none" stroke="#262424" stroke-width="5.300000000000004"/>
<path d="M114.86 144.51A50.45 50.45 0 0 1 115.12 144.72" fill="none" stroke="#F5E4E6" stroke-width="5.300000000000004"/>
<path d="M115.12 144.72A50.45 50.45 0 0 1 115.58 145.07" fill="none" stroke="#C25048" stroke-width="5.300000000000004"/>
<path d="M115.58 145.07A50.45 50.45 0 0 1 116.04 145.45" fill="none" stroke="#000000" stroke-width="5.300000000000004"/>
<path d="M116.04 145.45A50.45 50.45 0 0 1 116.49 145.82" fill="none" stroke="#262424" stroke-width="5.300000000000004"/>
<path d="M116.49 145.82A50.45 50.45 0 0 1 116.70 146.00" fill="none" stroke="#686464" stroke-width="5.300000000000004"/>
<path d="M116.70 146.00A50.45 50.45 0 0 1 116.97 146.23" fill="none" stroke="#FFFFFF" stroke-width="5.300000000000004"/>
<path d="M116.97 146.23A50.45 50.45 0 0 1 117.11 146.35" fill="none" stroke="#D5D0D0" stroke-width="5.300000000000004"/>
<path d="M117.11 146.35A50.45 50.45 0 0 1 117.34 146.55" fill="none" stroke="#262424" stroke-width="5.300000000000004"/>
<path d="M117.34 146.55A50.45 50.45 0 0 1 117.82 146.98" fill="none" stroke="#A5A0A0" stroke-width="5.300000000000004"/>
<path d="M117.82 146.98A50.45 50.45 0 0 1 118.30 147.41" fill="none" stroke="#000000" stroke-width="5.300000000000004"/>
<path d="M118.30 147.41A50.45 50.45 0 0 1 118.77 147.85" fill="none" stroke="#A5A0A0" stroke-width="5.300000000000004"/>
<path d="M118.77 147.85A50.45 50.45 0 0 1 118.97 148.04" fill="none" stroke="#F5E4E6" stroke-width="5.300000000000004"/>
<path d="M118.97 148.04A50.45 50.45 0 0 1 119.17 148.23" fill="none" stroke="#F5E4E6" stroke-width="5.300000000000004"/>
<path d="M119.17 148.23A50.45 50.45 0 0 1 119.51 148.57" fill="none" stroke="#000000" stroke-width="5.300000000000004"/>
<path d="M119.51 148.57A50.45 50.45 0 0 1 119.93 148.99" fill="none" stroke="#686464" stroke-width="5.300000000000004"/>
<path d="M119.93 148.99A50.45 50.45 0 0 1 120.28 149.34" fill="none" stroke="#000000" stroke-width="5.300000000000004"/>
<path d="M120.28 149.34A50.45 50.45 0 0 1 120.43 149.49" fill="none" stroke="#262424" stroke-width="5.300000000000004"/>
<path d="M120.43 149.49A50.45 50.45 0 0 1 120.86 149.95" fill="none" stroke="#262424" stroke-width="5.300000000000004"/>
<path d="M120.86 149.95A50.45 50.45 0 0 1 121.23 150.35" fill="none" stroke="#686464" stroke-width="5.300000000000004"/>
<path d="M121.23 150.35A50.45 50.45 0 0 1 121.41 150.54" fill="none" stroke="#262424" stroke-width="5.300000000000004"/>
<path d="M121.41 150.54A50.45 50.45 0 0 1 121.63 150.79" fill="none" stroke="#000000" stroke-width="5.300000000000004"/>
<path d="M121.63 150.79A50.45 50.45 0 0 1 122.07 151.28" fill="none" stroke="#A5A0A0" stroke-width="5.300000000000004"/>
<path d="M122.07 151.28A50.45 50.45 0 0 1 122.31 151.56" fill="none" stroke="#000000" stroke-width="5.300000000000004"/>
<path d="M122.31 151.56A50.45 50.45 0 0 1 122.66 151.97" fill="none" stroke="#F5E4E6" stroke-width="5.300000000000004"/>
<path d="M122.66 151.97A50.45 50.45 0 0 1 122.81 152.15" fill="none" stroke="#F5E4E6" stroke-width="5.300000000000004"/>
<path d="M122.81 152.15A50.45 50.45 0 0 1 123.21 152.63" fill="none" stroke="#000000" stroke-width="5.300000000000004"/>
<path d="M123.21 152.63A50.45 50.45 0 0 1 123.36 152.82" fill="none" stroke="#000000" stroke-width="5.300000000000004"/>
<path d="M123.36 152.82A50.45 50.45 0 0 1 123.77 153.34" fill="none" stroke="#262424" stroke-width="5.300000000000004"/>
<path d="M123.77 153.34A50.45 50.45 0 0 1 123.99 153.61" fill="none" stroke="#686464" stroke-width="5.300000000000004"/>
<path d="M123.99 153.61A50.45 50.45 0 0 1 124.13 153.80" fill="none" stroke="#FFFFFF" stroke-width="5.300000000000004"/>
<path d="M124.13 153.80A50.45 50.45 0 0 1 124.53 154.32" fill="none" stroke="#262424" stroke-width="5.300000000000004"/>
<path d="M124.53 154.32A50.45 50.45 0 0 1 124.79 154.67" fill="none" stroke="#000000" stroke-width="5.300000000000004"/>
<path d="M124.79 154.67A50.45 50.45 0 0 1 125.01 154.98" fill="none" stroke="#000000" stroke-width="5.300000000000004"/>
<path d="M125.01 154.98A50.45 50.45 0 0 1 125.18 155.21" fill="none" stroke="#F5E4E6" stroke-width="5.300000000000004"/>
<path d="M109.09 137.65A53.10 53.10 0 0 1 127.34 153.67" fill="none" stroke="#333" stroke-width="0.45"/>
<path d="M106.59 142.32A47.80 47.80 0 0 1 123.02 156.75" fill="none" stroke="#333" stroke-width="0.45"/>
<line x1="106.59" y1="142.32" x2="109.09" y2="137.65" stroke="#555" stroke-width="0.35"/>
<line x1="123.02" y1="156.75" x2="127.34" y2="153.67" stroke="#555" stroke-width="0.35"/>
<path d="M110.22 135.53A55.50 55.50 0 0 1 129.29 152.28" fill="none" stroke="#4DAF4A" stroke-width="0.5"/>
<text font-size="5.5" text-anchor="middle" fill="#000" stroke="#000" stroke-width="0.14" transform="translate(124.52 141.05) rotate(-48.71)" y="1.95">2</text>
<path d="M125.67 155.92A50.45 50.45 0 0 1 133.26 173.16" fill="none" stroke="#F4ECEC" stroke-width="5.300000000000004"/>
<path d="M125.67 155.92A50.45 50.45 0 0 1 125.84 156.16" fill="none" stroke="#D5D0D0" stroke-width="5.300000000000004"/>
<path d="M125.84 156.16A50.45 50.45 0 0 1 126.00 156.40" fill="none" stroke="#686464" stroke-width="5.300000000000004"/>
<path d="M126.00 156.40A50.45 50.45 0 0 1 126.17 156.66" fill="none" stroke="#A5A0A0" stroke-width="5.300000000000004"/>
<path d="M126.17 156.66A50.45 50.45 0 0 1 126.30 156.85" fill="none" stroke="#000000" stroke-width="5.300000000000004"/>
<path d="M126.30 156.85A50.45 50.45 0 0 1 126.49 157.15" fill="none" stroke="#686464" stroke-width="5.300000000000004"/>
<path d="M126.49 157.15A50.45 50.45 0 0 1 126.74 157.54" fill="none" stroke="#000000" stroke-width="5.300000000000004"/>
<path d="M126.74 157.54A50.45 50.45 0 0 1 126.94 157.86" fill="none" stroke="#000000" stroke-width="5.300000000000004"/>
<path d="M126.94 157.86A50.45 50.45 0 0 1 127.16 158.22" fill="none" stroke="#686464" stroke-width="5.300000000000004"/>
<path d="M127.16 158.22A50.45 50.45 0 0 1 127.39 158.59" fill="none" stroke="#FFFFFF" stroke-width="5.300000000000004"/>
<path d="M127.39 158.59A50.45 50.45 0 0 1 127.59 158.93" fill="none" stroke="#F5E4E6" stroke-width="5.300000000000004"/>
<path d="M127.59 158.93A50.45 50.45 0 0 1 127.68 159.08" fill="none" stroke="#000000" stroke-width="5.300000000000004"/>
<path d="M127.68 159.08A50.45 50.45 0 0 1 127.80 159.30" fill="none" stroke="#686464" stroke-width="5.300000000000004"/>
<path d="M127.80 159.30A50.45 50.45 0 0 1 128.07 159.76" fill="none" stroke="#686464" stroke-width="5.300000000000004"/>
<path d="M128.07 159.76A50.45 50.45 0 0 1 128.23 160.05" fill="none" stroke="#686464" stroke-width="5.300000000000004"/>
<path d="M128.23 160.05A50.45 50.45 0 0 1 128.45 160.45" fill="none" stroke="#262424" stroke-width="5.300000000000004"/>
<path d="M128.45 160.45A50.45 50.45 0 0 1 128.55 160.65" fill="none" stroke="#686464" stroke-width="5.300000000000004"/>
<path d="M128.55 160.65A50.45 50.45 0 0 1 128.69 160.91" fill="none" stroke="#D5D0D0" stroke-width="5.300000000000004"/>
<path d="M128.69 160.91A50.45 50.45 0 0 1 128.95 161.40" fill="none" stroke="#686464" stroke-width="5.300000000000004"/>
<path d="M128.95 161.40A50.45 50.45 0 0 1 129.16 161.80" fill="none" stroke="#262424" stroke-width="5.300000000000004"/>
<path d="M129.16 161.80A50.45 50.45 0 0 1 129.43 162.36" fill="none" stroke="#A5A0A0" stroke-width="5.300000000000004"/>
<path d="M129.43 162.36A50.45 50.45 0 0 1 129.64 162.79" fill="none" stroke="#686464" stroke-width="5.300000000000004"/>
<path d="M129.64 162.79A50.45 50.45 0 0 1 129.82 163.18" fill="none" stroke="#262424" stroke-width="5.300000000000004"/>
<path d="M129.82 163.18A50.45 50.45 0 0 1 129.99 163.54" fill="none" stroke="#C25048" stroke-width="5.300000000000004"/>
<path d="M129.99 163.54A50.45 50.45 0 0 1 130.16 163.92" fill="none" stroke="#000000" stroke-width="5.300000000000004"/>
<path d="M130.16 163.92A50.45 50.45 0 0 1 130.37 164.39" fill="none" stroke="#000000" stroke-width="5.300000000000004"/>
<path d="M130.37 164.39A50.45 50.45 0 0 1 130.62 164.98" fill="none" stroke="#D5D0D0" stroke-width="5.300000000000004"/>
<path d="M130.62 164.98A50.45 50.45 0 0 1 130.79 165.40" fill="none" stroke="#000000" stroke-width="5.300000000000004"/>
<path d="M130.79 165.40A50.45 50.45 0 0 1 131.01 165.95" fill="none" stroke="#F5E4E6" stroke-width="5.300000000000004"/>
<path d="M131.01 165.95A50.45 50.45 0 0 1 131.10 166.16" fill="none" stroke="#A5A0A0" stroke-width="5.300000000000004"/>
<path d="M131.10 166.16A50.45 50.45 0 0 1 131.17 166.36" fill="none" stroke="#F5E4E6" stroke-width="5.300000000000004"/>
<path d="M131.17 166.36A50.45 50.45 0 0 1 131.25 166.55" fill="none" stroke="#262424" stroke-width="5.300000000000004"/>
<path d="M131.25 166.55A50.45 50.45 0 0 1 131.45 167.08" fill="none" stroke="#000000" stroke-width="5.300000000000004"/>
<path d="M131.45 167.08A50.45 50.45 0 0 1 131.53 167.31" fill="none" stroke="#262424" stroke-width="5.300000000000004"/>
<path d="M131.53 167.31A50.45 50.45 0 0 1 131.70 167.78" fill="none" stroke="#F5E4E6" stroke-width="5.300000000000004"/>
<path d="M131.70 167.78A50.45 50.45 0 0 1 131.90 168.36" fill="none" stroke="#000000" stroke-width="5.300000000000004"/>
<path d="M131.90 168.36A50.45 50.45 0 0 1 131.99 168.63" fill="none" stroke="#000000" stroke-width="5.300000000000004"/>
<path d="M131.99 168.63A50.45 50.45 0 0 1 132.10 168.98" fill="none" stroke="#686464" stroke-width="5.300000000000004"/>
<path d="M132.10 168.98A50.45 50.45 0 0 1 132.30 169.62" fill="none" stroke="#000000" stroke-width="5.300000000000004"/>
<path d="M132.30 169.62A50.45 50.45 0 0 1 132.38 169.86" fill="none" stroke="#A5A0A0" stroke-width="5.300000000000004"/>
<path d="M132.38 169.86A50.45 50.45 0 0 1 132.50 170.27" fill="none" stroke="#A5A0A0" stroke-width="5.300000000000004"/>
<path d="M132.50 170.27A50.45 50.45 0 0 1 132.58 170.53" fill="none" stroke="#D5D0D0" stroke-width="5.300000000000004"/>
<path d="M132.58 170.53A50.45 50.45 0 0 1 132.72 171.04" fill="none" stroke="#FFFFFF" stroke-width="5.300000000000004"/>
<path d="M132.72 171.04A50.45 50.45 0 0 1 132.84 171.47" fill="none" stroke="#A5A0A0" stroke-width="5.300000000000004"/>
<path d="M132.84 171.47A50.45 50.45 0 0 1 132.89 171.65" fill="none" stroke="#D5D0D0" stroke-width="5.300000000000004"/>
<path d="M132.89 171.65A50.45 50.45 0 0 1 133.01 172.11" fill="none" stroke="#686464" stroke-width="5.300000000000004"/>
<path d="M133.01 172.11A50.45 50.45 0 0 1 133.06 172.31" fill="none" stroke="#000000" stroke-width="5.300000000000004"/>
<path d="M133.06 172.31A50.45 50.45 0 0 1 133.19 172.86" fill="none" stroke="#000000" stroke-width="5.300000000000004"/>
<path d="M133.19 172.86A50.45 50.45 0 0 1 133.24 173.08" fill="none" stroke="#D5D0D0" stroke-width="5.300000000000004"/>
<path d="M133.24 173.08A50.45 50.45 0 0 1 133.26 173.16" fill="none" stroke="#262424" stroke-width="5.300000000000004"/>
<path d="M127.86 154.42A53.10 53.10 0 0 1 135.84 172.57" fill="none" stroke="#333" stroke-width="0.45"/>
<path d="M123.49 157.42A47.80 47.80 0 0 1 130.68 173.76" fill="none" stroke="#333" stroke-width="0.45"/>
<line x1="123.49" y1="157.42" x2="127.86" y2="154.42" stroke="#555" stroke-width="0.35"/>
<line x1="130.68" y1="173.76" x2="135.84" y2="172.57" stroke="#555" stroke-width="0.35"/>
<path d="M129.83 153.06A55.50 55.50 0 0 1 138.18 172.03" fill="none" stroke="#E7298A" stroke-width="0.5"/>
<text font-size="5.5" text-anchor="middle" fill="#000" stroke="#000" stroke-width="0.14" transform="translate(139.98 161.30) rotate(-23.75)" y="1.95">3</text>
<path d="M133.45 174.01A50.45 50.45 0 0 1 133.96 192.19" fill="none" stroke="#F4ECEC" stroke-width="5.300000000000004"/>
<path d="M133.45 174.01A50.45 50.45 0 0 1 133.51 174.31" fill="none" stroke="#F5E4E6" stroke-width="5.300000000000004"/>
<path d="M133.51 174.31A50.45 50.45 0 0 1 133.59 174.68" fill="none" stroke="#000000" stroke-width="5.300000000000004"/>
<path d="M133.59 174.68A50.45 50.45 0 0 1 133.69 175.25" fill="none" stroke="#D5D0D0" stroke-width="5.300000000000004"/>
<path d="M133.69 175.25A50.45 50.45 0 0 1 133.74 175.49" fill="none" stroke="#000000" stroke-width="5.300000000000004"/>
<path d="M133.74 175.49A50.45 50.45 0 0 1 133.82 175.94" fill="none" stroke="#262424" stroke-width="5.300000000000004"/>
<path d="M133.82 175.94A50.45 50.45 0 0 1 133.86 176.16" fill="none" stroke="#FFFFFF" stroke-width="5.300000000000004"/>
<path d="M133.86 176.16A50.45 50.45 0 0 1 133.94 176.66" fill="none" stroke="#A5A0A0" stroke-width="5.300000000000004"/>
<path d="M133.94 176.66A50.45 50.45 0 0 1 133.97 176.87" fill="none" stroke="#000000" stroke-width="5.300000000000004"/>
<path d="M133.97 176.87A50.45 50.45 0 0 1 134.04 177.35" fill="none" stroke="#000000" stroke-width="5.300000000000004"/>
<path d="M134.04 177.35A50.45 50.45 0 0 1 134.07 177.56" fill="none" stroke="#000000" stroke-width="5.300000000000004"/>
<path d="M134.07 177.56A50.45 50.45 0 0 1 134.10 177.77" fill="none" stroke="#000000" stroke-width="5.300000000000004"/>
<path d="M134.10 177.77A50.45 50.45 0 0 1 134.15 178.16" fill="none" stroke="#A5A0A0" stroke-width="5.300000000000004"/>
<path d="M134.15 178.16A50.45 50.45 0 0 1 134.20 178.61" fill="none" stroke="#000000" stroke-width="5.300000000000004"/>
<path d="M134.20 178.61A50.45 50.45 0 0 1 134.24 178.91" fill="none" stroke="#C25048" stroke-width="5.300000000000004"/>
<path d="M134.24 178.91A50.45 50.45 0 0 1 134.29 179.34" fill="none" stroke="#F5E4E6" stroke-width="5.300000000000004"/>
<path d="M134.29 179.34A50.45 50.45 0 0 1 134.31 179.57" fill="none" stroke="#F5E4E6" stroke-width="5.300000000000004"/>
<path d="M134.31 179.57A50.45 50.45 0 0 1 134.33 179.76" fill="none" stroke="#F5E4E6" stroke-width="5.300000000000004"/>
<path d="M134.33 179.76A50.45 50.45 0 0 1 134.36 180.09" fill="none" stroke="#D5D0D0" stroke-width="5.300000000000004"/>
<path d="M134.36 180.09A50.45 50.45 0 0 1 134.40 180.64" fill="none" stroke="#D5D0D0" stroke-width="5.300000000000004"/>
<path d="M134.40 180.64A50.45 50.45 0 0 1 134.43 181.06" fill="none" stroke="#F5E4E6" stroke-width="5.300000000000004"/>
<path d="M134.43 181.06A50.45 50.45 0 0 1 134.45 181.40" fill="none" stroke="#FFFFFF" stroke-width="5.300000000000004"/>
<path d="M134.45 181.40A50.45 50.45 0 0 1 134.47 181.70" fill="none" stroke="#FFFFFF" stroke-width="5.300000000000004"/>
<path d="M134.47 181.70A50.45 50.45 0 0 1 134.50 182.24" fill="none" stroke="#686464" stroke-width="5.300000000000004"/>
<path d="M134.50 182.24A50.45 50.45 0 0 1 134.51 182.50" fill="none" stroke="#686464" stroke-width="5.300000000000004"/>
<path d="M134.51 182.50A50.45 50.45 0 0 1 134.53 183.14" fill="none" stroke="#F5E4E6" stroke-width="5.300000000000004"/>
<path d="M134.53 183.14A50.45 50.45 0 0 1 134.54 183.72" fill="none" stroke="#A5A0A0" stroke-width="5.300000000000004"/>
<path d="M134.54 183.72A50.45 50.45 0 0 1 134.55 184.14" fill="none" stroke="#000000" stroke-width="5.300000000000004"/>
<path d="M134.55 184.14A50.45 50.45 0 0 1 134.55 184.51" fill="none" stroke="#686464" stroke-width="5.300000000000004"/>
<path d="M134.55 184.51A50.45 50.45 0 0 1 134.55 185.02" fill="none" stroke="#000000" stroke-width="5.300000000000004"/>
<path d="M134.55 185.02A50.45 50.45 0 0 1 134.54 185.36" fill="none" stroke="#000000" stroke-width="5.300000000000004"/>
<path d="M134.54 185.36A50.45 50.45 0 0 1 134.53 185.89" fill="none" stroke="#262424" stroke-width="5.300000000000004"/>
<path d="M134.53 185.89A50.45 50.45 0 0 1 134.52 186.26" fill="none" stroke="#A5A0A0" stroke-width="5.300000000000004"/>
<path d="M134.52 186.26A50.45 50.45 0 0 1 134.51 186.46" fill="none" stroke="#F5E4E6" stroke-width="5.300000000000004"/>
<path d="M134.51 186.46A50.45 50.45 0 0 1 134.50 186.67" fill="none" stroke="#262424" stroke-width="5.300000000000004"/>
<path d="M134.50 186.67A50.45 50.45 0 0 1 134.49 186.97" fill="none" stroke="#F5E4E6" stroke-width="5.300000000000004"/>
<path d="M134.49 186.97A50.45 50.45 0 0 1 134.48 187.18" fill="none" stroke="#000000" stroke-width="5.300000000000004"/>
<path d="M134.48 187.18A50.45 50.45 0 0 1 134.44 187.79" fill="none" stroke="#262424" stroke-width="5.300000000000004"/>
<path d="M134.44 187.79A50.45 50.45 0 0 1 134.42 188.10" fill="none" stroke="#D5D0D0" stroke-width="5.300000000000004"/>
<path d="M134.42 188.10A50.45 50.45 0 0 1 134.40 188.42" fill="none" stroke="#686464" stroke-width="5.300000000000004"/>
<path d="M134.40 188.42A50.45 50.45 0 0 1 134.38 188.67" fill="none" stroke="#A5A0A0" stroke-width="5.300000000000004"/>
<path d="M134.38 188.67A50.45 50.45 0 0 1 134.35 188.97" fill="none" stroke="#000000" stroke-width="5.300000000000004"/>
<path d="M134.35 188.97A50.45 50.45 0 0 1 134.29 189.62" fill="none" stroke="#686464" stroke-width="5.300000000000004"/>
<path d="M134.29 189.62A50.45 50.45 0 0 1 134.26 189.91" fill="none" stroke="#000000" stroke-width="5.300000000000004"/>
<path d="M134.26 189.91A50.45 50.45 0 0 1 134.22 190.24" fill="none" stroke="#A5A0A0" stroke-width="5.300000000000004"/>
<path d="M134.22 190.24A50.45 50.45 0 0 1 134.20 190.41" fill="none" stroke="#A5A0A0" stroke-width="5.300000000000004"/>
<path d="M134.20 190.41A50.45 50.45 0 0 1 134.15 190.81" fill="none" stroke="#686464" stroke-width="5.300000000000004"/>
<path d="M134.15 190.81A50.45 50.45 0 0 1 134.12 191.08" fill="none" stroke="#686464" stroke-width="5.300000000000004"/>
<path d="M134.12 191.08A50.45 50.45 0 0 1 134.10 191.26" fill="none" stroke="#D5D0D0" stroke-width="5.300000000000004"/>
<path d="M134.10 191.26A50.45 50.45 0 0 1 134.07 191.47" fill="none" stroke="#A5A0A0" stroke-width="5.300000000000004"/>
<path d="M134.07 191.47A50.45 50.45 0 0 1 134.04 191.66" fill="none" stroke="#FFFFFF" stroke-width="5.300000000000004"/>
<path d="M134.04 191.66A50.45 50.45 0 0 1 133.99 191.98" fill="none" stroke="#F5E4E6" stroke-width="5.300000000000004"/>
<path d="M133.99 191.98A50.45 50.45 0 0 1 133.96 192.19" fill="none" stroke="#686464" stroke-width="5.300000000000004"/>
<path d="M136.04 173.45A53.10 53.10 0 0 1 136.58 192.60" fill="none" stroke="#333" stroke-width="0.45"/>
<path d="M130.85 174.56A47.80 47.80 0 0 1 131.34 191.79" fill="none" stroke="#333" stroke-width="0.45"/>
<line x1="130.85" y1="174.56" x2="136.04" y2="173.45" stroke="#555" stroke-width="0.35"/>
<line x1="131.34" y1="191.79" x2="136.58" y2="192.60" stroke="#555" stroke-width="0.35"/>
<path d="M138.39 172.95A55.50 55.50 0 0 1 138.95 192.96" fill="none" stroke="#F2B01E" stroke-width="0.5"/>
<text font-size="5.5" text-anchor="middle" fill="#000" stroke="#000" stroke-width="0.14" transform="translate(145.08 183.06) rotate(-1.62)" y="1.95">4</text>
<path d="M133.82 193.04A50.45 50.45 0 0 1 128.04 209.28" fill="none" stroke="#F4ECEC" stroke-width="5.300000000000004"/>
<path d="M133.82 193.04A50.45 50.45 0 0 1 133.73 193.58" fill="none" stroke="#262424" stroke-width="5.300000000000004"/>
<path d="M133.73 193.58A50.45 50.45 0 0 1 133.63 194.10" fill="none" stroke="#000000" stroke-width="5.300000000000004"/>
<path d="M133.63 194.10A50.45 50.45 0 0 1 133.56 194.46" fill="none" stroke="#D5D0D0" stroke-width="5.300000000000004"/>
<path d="M133.56 194.46A50.45 50.45 0 0 1 133.42 195.11" fill="none" stroke="#F5E4E6" stroke-width="5.300000000000004"/>
<path d="M133.42 195.11A50.45 50.45 0 0 1 133.31 195.63" fill="none" stroke="#262424" stroke-width="5.300000000000004"/>
<path d="M133.31 195.63A50.45 50.45 0 0 1 133.26 195.82" fill="none" stroke="#000000" stroke-width="5.300000000000004"/>
<path d="M133.26 195.82A50.45 50.45 0 0 1 133.12 196.42" fill="none" stroke="#262424" stroke-width="5.300000000000004"/>
<path d="M133.12 196.42A50.45 50.45 0 0 1 132.99 196.94" fill="none" stroke="#000000" stroke-width="5.300000000000004"/>
<path d="M132.99 196.94A50.45 50.45 0 0 1 132.93 197.17" fill="none" stroke="#686464" stroke-width="5.300000000000004"/>
<path d="M132.93 197.17A50.45 50.45 0 0 1 132.82 197.58" fill="none" stroke="#C25048" stroke-width="5.300000000000004"/>
<path d="M132.82 197.58A50.45 50.45 0 0 1 132.67 198.14" fill="none" stroke="#000000" stroke-width="5.300000000000004"/>
<path d="M132.67 198.14A50.45 50.45 0 0 1 132.55 198.58" fill="none" stroke="#000000" stroke-width="5.300000000000004"/>
<path d="M132.55 198.58A50.45 50.45 0 0 1 132.40 199.07" fill="none" stroke="#262424" stroke-width="5.300000000000004"/>
<path d="M132.40 199.07A50.45 50.45 0 0 1 132.32 199.35" fill="none" stroke="#FFFFFF" stroke-width="5.300000000000004"/>
<path d="M132.32 199.35A50.45 50.45 0 0 1 132.25 199.57" fill="none" stroke="#A5A0A0" stroke-width="5.300000000000004"/>
<path d="M132.25 199.57A50.45 50.45 0 0 1 132.18 199.79" fill="none" stroke="#000000" stroke-width="5.300000000000004"/>
<path d="M132.18 199.79A50.45 50.45 0 0 1 132.04 200.22" fill="none" stroke="#262424" stroke-width="5.300000000000004"/>
<path d="M132.04 200.22A50.45 50.45 0 0 1 131.89 200.68" fill="none" stroke="#262424" stroke-width="5.300000000000004"/>
<path d="M131.89 200.68A50.45 50.45 0 0 1 131.75 201.07" fill="none" stroke="#FFFFFF" stroke-width="5.300000000000004"/>
<path d="M131.75 201.07A50.45 50.45 0 0 1 131.56 201.61" fill="none" stroke="#262424" stroke-width="5.300000000000004"/>
<path d="M131.56 201.61A50.45 50.45 0 0 1 131.42 202.00" fill="none" stroke="#686464" stroke-width="5.300000000000004"/>
<path d="M131.42 202.00A50.45 50.45 0 0 1 131.24 202.47" fill="none" stroke="#FFFFFF" stroke-width="5.300000000000004"/>
<path d="M131.24 202.47A50.45 50.45 0 0 1 131.05 202.97" fill="none" stroke="#D5D0D0" stroke-width="5.300000000000004"/>
<path d="M131.05 202.97A50.45 50.45 0 0 1 130.97 203.17" fill="none" stroke="#D5D0D0" stroke-width="5.300000000000004"/>
<path d="M130.97 203.17A50.45 50.45 0 0 1 130.77 203.67" fill="none" stroke="#F5E4E6" stroke-width="5.300000000000004"/>
<path d="M130.77 203.67A50.45 50.45 0 0 1 130.56 204.16" fill="none" stroke="#000000" stroke-width="5.300000000000004"/>
<path d="M130.56 204.16A50.45 50.45 0 0 1 130.40 204.55" fill="none" stroke="#A5A0A0" stroke-width="5.300000000000004"/>
<path d="M130.40 204.55A50.45 50.45 0 0 1 130.23 204.92" fill="none" stroke="#262424" stroke-width="5.300000000000004"/>
<path d="M130.23 204.92A50.45 50.45 0 0 1 130.00 205.43" fill="none" stroke="#262424" stroke-width="5.300000000000004"/>
<path d="M130.00 205.43A50.45 50.45 0 0 1 129.80 205.88" fill="none" stroke="#FFFFFF" stroke-width="5.300000000000004"/>
<path d="M129.80 205.88A50.45 50.45 0 0 1 129.69 206.10" fill="none" stroke="#D5D0D0" stroke-width="5.300000000000004"/>
<path d="M129.69 206.10A50.45 50.45 0 0 1 129.46 206.59" fill="none" stroke="#D5D0D0" stroke-width="5.300000000000004"/>
<path d="M129.46 206.59A50.45 50.45 0 0 1 129.26 207.00" fill="none" stroke="#FFFFFF" stroke-width="5.300000000000004"/>
<path d="M129.26 207.00A50.45 50.45 0 0 1 129.17 207.18" fill="none" stroke="#D5D0D0" stroke-width="5.300000000000004"/>
<path d="M129.17 207.18A50.45 50.45 0 0 1 128.94 207.63" fill="none" stroke="#262424" stroke-width="5.300000000000004"/>
<path d="M128.94 207.63A50.45 50.45 0 0 1 128.70 208.08" fill="none" stroke="#D5D0D0" stroke-width="5.300000000000004"/>
<path d="M128.70 208.08A50.45 50.45 0 0 1 128.50 208.46" fill="none" stroke="#686464" stroke-width="5.300000000000004"/>
<path d="M128.50 208.46A50.45 50.45 0 0 1 128.30 208.81" fill="none" stroke="#F5E4E6" stroke-width="5.300000000000004"/>
<path d="M128.30 208.81A50.45 50.45 0 0 1 128.04 209.28" fill="none" stroke="#F5E4E6" stroke-width="5.300000000000004"/>
<path d="M136.43 193.49A53.10 53.10 0 0 1 130.35 210.58" fill="none" stroke="#333" stroke-width="0.45"/>
<path d="M131.21 192.60A47.80 47.80 0 0 1 125.74 207.98" fill="none" stroke="#333" stroke-width="0.45"/>
<line x1="131.21" y1="192.60" x2="136.43" y2="193.49" stroke="#555" stroke-width="0.35"/>
<line x1="125.74" y1="207.98" x2="130.35" y2="210.58" stroke="#555" stroke-width="0.35"/>
<path d="M138.80 193.90A55.50 55.50 0 0 1 132.44 211.76" fill="none" stroke="#D7301F" stroke-width="0.5"/>
<text font-size="5.5" text-anchor="middle" fill="#000" stroke="#000" stroke-width="0.14" transform="translate(141.94 203.23) rotate(18.60)" y="1.95">5</text>
<path d="M127.62 210.03A50.45 50.45 0 0 1 117.20 222.57" fill="none" stroke="#F4ECEC" stroke-width="5.300000000000004"/>
<path d="M127.62 210.03A50.45 50.45 0 0 1 127.28 210.59" fill="none" stroke="#000000" stroke-width="5.300000000000004"/>
<path d="M127.28 210.59A50.45 50.45 0 0 1 127.18 210.75" fill="none" stroke="#686464" stroke-width="5.300000000000004"/>
<path d="M127.18 210.75A50.45 50.45 0 0 1 126.88 211.24" fill="none" stroke="#000000" stroke-width="5.300000000000004"/>
<path d="M126.88 211.24A50.45 50.45 0 0 1 126.67 211.58" fill="none" stroke="#D5D0D0" stroke-width="5.300000000000004"/>
<path d="M126.67 211.58A50.45 50.45 0 0 1 126.52 211.81" fill="none" stroke="#000000" stroke-width="5.300000000000004"/>
<path d="M126.52 211.81A50.45 50.45 0 0 1 126.37 212.04" fill="none" stroke="#686464" stroke-width="5.300000000000004"/>
<path d="M126.37 212.04A50.45 50.45 0 0 1 126.24 212.25" fill="none" stroke="#686464" stroke-width="5.300000000000004"/>
<path d="M126.24 212.25A50.45 50.45 0 0 1 125.88 212.78" fill="none" stroke="#F5E4E6" stroke-width="5.300000000000004"/>
<path d="M125.88 212.78A50.45 50.45 0 0 1 125.55 213.26" fill="none" stroke="#686464" stroke-width="5.300000000000004"/>
<path d="M125.55 213.26A50.45 50.45 0 0 1 125.20 213.76" fill="none" stroke="#262424" stroke-width="5.300000000000004"/>
<path d="M125.20 213.76A50.45 50.45 0 0 1 125.03 214.00" fill="none" stroke="#000000" stroke-width="5.300000000000004"/>
<path d="M125.03 214.00A50.45 50.45 0 0 1 124.78 214.33" fill="none" stroke="#FFFFFF" stroke-width="5.300000000000004"/>
<path d="M124.78 214.33A50.45 50.45 0 0 1 124.68 214.47" fill="none" stroke="#686464" stroke-width="5.300000000000004"/>
<path d="M124.68 214.47A50.45 50.45 0 0 1 124.44 214.79" fill="none" stroke="#D5D0D0" stroke-width="5.300000000000004"/>
<path d="M124.44 214.79A50.45 50.45 0 0 1 124.30 214.98" fill="none" stroke="#C25048" stroke-width="5.300000000000004"/>
<path d="M124.30 214.98A50.45 50.45 0 0 1 124.10 215.25" fill="none" stroke="#000000" stroke-width="5.300000000000004"/>
<path d="M124.10 215.25A50.45 50.45 0 0 1 123.99 215.38" fill="none" stroke="#262424" stroke-width="5.300000000000004"/>
<path d="M123.99 215.38A50.45 50.45 0 0 1 123.63 215.85" fill="none" stroke="#F5E4E6" stroke-width="5.300000000000004"/>
<path d="M123.63 215.85A50.45 50.45 0 0 1 123.23 216.34" fill="none" stroke="#262424" stroke-width="5.300000000000004"/>
<path d="M123.23 216.34A50.45 50.45 0 0 1 122.84 216.82" fill="none" stroke="#D5D0D0" stroke-width="5.300000000000004"/>
<path d="M122.84 216.82A50.45 50.45 0 0 1 122.61 217.10" fill="none" stroke="#A5A0A0" stroke-width="5.300000000000004"/>
<path d="M122.61 217.10A50.45 50.45 0 0 1 122.17 217.60" fill="none" stroke="#686464" stroke-width="5.300000000000004"/>
<path d="M122.17 217.60A50.45 50.45 0 0 1 121.94 217.87" fill="none" stroke="#A5A0A0" stroke-width="5.300000000000004"/>
<path d="M121.94 217.87A50.45 50.45 0 0 1 121.73 218.10" fill="none" stroke="#FFFFFF" stroke-width="5.300000000000004"/>
<path d="M121.73 218.10A50.45 50.45 0 0 1 121.58 218.27" fill="none" stroke="#000000" stroke-width="5.300000000000004"/>
<path d="M121.58 218.27A50.45 50.45 0 0 1 121.37 218.50" fill="none" stroke="#000000" stroke-width="5.300000000000004"/>
<path d="M121.37 218.50A50.45 50.45 0 0 1 121.17 218.72" fill="none" stroke="#D5D0D0" stroke-width="5.300000000000004"/>
<path d="M121.17 218.72A50.45 50.45 0 0 1 120.88 219.03" fill="none" stroke="#F5E4E6" stroke-width="5.300000000000004"/>
<path d="M120.88 219.03A50.45 50.45 0 0 1 120.64 219.29" fill="none" stroke="#000000" stroke-width="5.300000000000004"/>
<path d="M120.64 219.29A50.45 50.45 0 0 1 120.21 219.73" fill="none" stroke="#000000" stroke-width="5.300000000000004"/>
<path d="M120.21 219.73A50.45 50.45 0 0 1 119.87 220.08" fill="none" stroke="#000000" stroke-width="5.300000000000004"/>
<path d="M119.87 220.08A50.45 50.45 0 0 1 119.42 220.53" fill="none" stroke="#686464" stroke-width="5.300000000000004"/>
<path d="M119.42 220.53A50.45 50.45 0 0 1 119.04 220.90" fill="none" stroke="#FFFFFF" stroke-width="5.300000000000004"/>
<path d="M119.04 220.90A50.45 50.45 0 0 1 118.65 221.27" fill="none" stroke="#686464" stroke-width="5.300000000000004"/>
<path d="M118.65 221.27A50.45 50.45 0 0 1 118.25 221.64" fill="none" stroke="#262424" stroke-width="5.300000000000004"/>
<path d="M118.25 221.64A50.45 50.45 0 0 1 118.01 221.85" fill="none" stroke="#FFFFFF" stroke-width="5.300000000000004"/>
<path d="M118.01 221.85A50.45 50.45 0 0 1 117.54 222.27" fill="none" stroke="#F5E4E6" stroke-width="5.300000000000004"/>
<path d="M117.54 222.27A50.45 50.45 0 0 1 117.24 222.54" fill="none" stroke="#A5A0A0" stroke-width="5.300000000000004"/>
<path d="M117.24 222.54A50.45 50.45 0 0 1 117.20 222.57" fill="none" stroke="#262424" stroke-width="5.300000000000004"/>
<path d="M129.90 211.37A53.10 53.10 0 0 1 118.94 224.57" fill="none" stroke="#333" stroke-width="0.45"/>
<path d="M125.33 208.69A47.80 47.80 0 0 1 115.46 220.57" fill="none" stroke="#333" stroke-width="0.45"/>
<line x1="125.33" y1="208.69" x2="129.90" y2="211.37" stroke="#555" stroke-width="0.35"/>
<line x1="115.46" y1="220.57" x2="118.94" y2="224.57" stroke="#555" stroke-width="0.35"/>
<path d="M131.97 212.58A55.50 55.50 0 0 1 120.51 226.39" fill="none" stroke="#7570B3" stroke-width="0.5"/>
<text font-size="5.5" text-anchor="middle" fill="#000" stroke="#000" stroke-width="0.14" transform="translate(131.15 221.81) rotate(39.70)" y="1.95">6</text>
<path d="M116.54 223.13A50.45 50.45 0 0 1 103.59 231.03" fill="none" stroke="#F4ECEC" stroke-width="5.300000000000004"/>
<path d="M116.54 223.13A50.45 50.45 0 0 1 116.04 223.55" fill="none" stroke="#D5D0D0" stroke-width="5.300000000000004"/>
<path d="M116.04 223.55A50.45 50.45 0 0 1 115.65 223.87" fill="none" stroke="#D5D0D0" stroke-width="5.300000000000004"/>
<path d="M115.65 223.87A50.45 50.45 0 0 1 115.30 224.15" fill="none" stroke="#A5A0A0" stroke-width="5.300000000000004"/>
<path d="M115.30 224.15A50.45 50.45 0 0 1 115.10 224.30" fill="none" stroke="#F5E4E6" stroke-width="5.300000000000004"/>
<path d="M115.10 224.30A50.45 50.45 0 0 1 114.88 224.47" fill="none" stroke="#000000" stroke-width="5.300000000000004"/>
<path d="M114.88 224.47A50.45 50.45 0 0 1 114.54 224.73" fill="none" stroke="#F5E4E6" stroke-width="5.300000000000004"/>
<path d="M114.54 224.73A50.45 50.45 0 0 1 114.05 225.10" fill="none" stroke="#000000" stroke-width="5.300000000000004"/>
<path d="M114.05 225.10A50.45 50.45 0 0 1 113.73 225.34" fill="none" stroke="#F5E4E6" stroke-width="5.300000000000004"/>
<path d="M113.73 225.34A50.45 50.45 0 0 1 113.51 225.49" fill="none" stroke="#FFFFFF" stroke-width="5.300000000000004"/>
<path d="M113.51 225.49A50.45 50.45 0 0 1 113.23 225.69" fill="none" stroke="#FFFFFF" stroke-width="5.300000000000004"/>
<path d="M113.23 225.69A50.45 50.45 0 0 1 112.99 225.86" fill="none" stroke="#D5D0D0" stroke-width="5.300000000000004"/>
<path d="M112.99 225.86A50.45 50.45 0 0 1 112.62 226.12" fill="none" stroke="#000000" stroke-width="5.300000000000004"/>
<path d="M112.62 226.12A50.45 50.45 0 0 1 112.16 226.42" fill="none" stroke="#A5A0A0" stroke-width="5.300000000000004"/>
<path d="M112.16 226.42A50.45 50.45 0 0 1 111.85 226.63" fill="none" stroke="#C25048" stroke-width="5.300000000000004"/>
<path d="M111.85 226.63A50.45 50.45 0 0 1 111.55 226.83" fill="none" stroke="#A5A0A0" stroke-width="5.300000000000004"/>
<path d="M111.55 226.83A50.45 50.45 0 0 1 111.38 226.94" fill="none" stroke="#D5D0D0" stroke-width="5.300000000000004"/>
<path d="M111.38 226.94A50.45 50.45 0 0 1 110.82 227.29" fill="none" stroke="#F5E4E6" stroke-width="5.300000000000004"/>
<path d="M110.82 227.29A50.45 50.45 0 0 1 110.47 227.51" fill="none" stroke="#262424" stroke-width="5.300000000000004"/>
<path d="M110.47 227.51A50.45 50.45 0 0 1 109.95 227.82" fill="none" stroke="#F5E4E6" stroke-width="5.300000000000004"/>
<path d="M109.95 227.82A50.45 50.45 0 0 1 109.69 227.98" fill="none" stroke="#D5D0D0" stroke-width="5.300000000000004"/>
<path d="M109.69 227.98A50.45 50.45 0 0 1 109.37 228.17" fill="none" stroke="#A5A0A0" stroke-width="5.300000000000004"/>
<path d="M109.37 228.17A50.45 50.45 0 0 1 108.80 228.49" fill="none" stroke="#000000" stroke-width="5.300000000000004"/>
<path d="M108.80 228.49A50.45 50.45 0 0 1 108.27 228.78" fill="none" stroke="#FFFFFF" stroke-width="5.300000000000004"/>
<path d="M108.27 228.78A50.45 50.45 0 0 1 108.11 228.87" fill="none" stroke="#262424" stroke-width="5.300000000000004"/>
<path d="M108.11 228.87A50.45 50.45 0 0 1 107.56 229.16" fill="none" stroke="#686464" stroke-width="5.300000000000004"/>
<path d="M107.56 229.16A50.45 50.45 0 0 1 107.15 229.38" fill="none" stroke="#FFFFFF" stroke-width="5.300000000000004"/>
<path d="M107.15 229.38A50.45 50.45 0 0 1 106.82 229.54" fill="none" stroke="#000000" stroke-width="5.300000000000004"/>
<path d="M106.82 229.54A50.45 50.45 0 0 1 106.30 229.80" fill="none" stroke="#000000" stroke-width="5.300000000000004"/>
<path d="M106.30 229.80A50.45 50.45 0 0 1 105.71 230.09" fill="none" stroke="#D5D0D0" stroke-width="5.300000000000004"/>
<path d="M105.71 230.09A50.45 50.45 0 0 1 105.50 230.18" fill="none" stroke="#F5E4E6" stroke-width="5.300000000000004"/>
<path d="M105.50 230.18A50.45 50.45 0 0 1 105.11 230.37" fill="none" stroke="#262424" stroke-width="5.300000000000004"/>
<path d="M105.11 230.37A50.45 50.45 0 0 1 104.53 230.63" fill="none" stroke="#262424" stroke-width="5.300000000000004"/>
<path d="M104.53 230.63A50.45 50.45 0 0 1 104.07 230.83" fill="none" stroke="#262424" stroke-width="5.300000000000004"/>
<path d="M104.07 230.83A50.45 50.45 0 0 1 103.71 230.98" fill="none" stroke="#686464" stroke-width="5.300000000000004"/>
<path d="M103.71 230.98A50.45 50.45 0 0 1 103.59 231.03" fill="none" stroke="#262424" stroke-width="5.300000000000004"/>
<path d="M118.25 225.16A53.10 53.10 0 0 1 104.61 233.48" fill="none" stroke="#333" stroke-width="0.45"/>
<path d="M114.84 221.10A47.80 47.80 0 0 1 102.56 228.59" fill="none" stroke="#333" stroke-width="0.45"/>
<line x1="114.84" y1="221.10" x2="118.25" y2="225.16" stroke="#555" stroke-width="0.35"/>
<line x1="102.56" y1="228.59" x2="104.61" y2="233.48" stroke="#555" stroke-width="0.35"/>
<path d="M119.79 227.00A55.50 55.50 0 0 1 105.54 235.69" fill="none" stroke="#377EB8" stroke-width="0.5"/>
<text font-size="5.5" text-anchor="middle" fill="#000" stroke="#000" stroke-width="0.14" transform="translate(117.37 233.54) rotate(57.20)" y="1.95">7</text>
<path d="M102.79 231.36A50.45 50.45 0 0 1 89.23 234.69" fill="none" stroke="#F4ECEC" stroke-width="5.300000000000004"/>
<path d="M102.79 231.36A50.45 50.45 0 0 1 102.52 231.47" fill="none" stroke="#000000" stroke-width="5.300000000000004"/>
<path d="M102.52 231.47A50.45 50.45 0 0 1 102.06 231.64" fill="none" stroke="#D5D0D0" stroke-width="5.300000000000004"/>
<path d="M102.06 231.64A50.45 50.45 0 0 1 101.84 231.73" fill="none" stroke="#D5D0D0" stroke-width="5.300000000000004"/>
<path d="M101.84 231.73A50.45 50.45 0 0 1 101.38 231.90" fill="none" stroke="#262424" stroke-width="5.300000000000004"/>
<path d="M101.38 231.90A50.45 50.45 0 0 1 101.17 231.97" fill="none" stroke="#FFFFFF" stroke-width="5.300000000000004"/>
<path d="M101.17 231.97A50.45 50.45 0 0 1 100.76 232.12" fill="none" stroke="#686464" stroke-width="5.300000000000004"/>
<path d="M100.76 232.12A50.45 50.45 0 0 1 100.41 232.24" fill="none" stroke="#F5E4E6" stroke-width="5.300000000000004"/>
<path d="M100.41 232.24A50.45 50.45 0 0 1 99.97 232.39" fill="none" stroke="#FFFFFF" stroke-width="5.300000000000004"/>
<path d="M99.97 232.39A50.45 50.45 0 0 1 99.66 232.49" fill="none" stroke="#686464" stroke-width="5.300000000000004"/>
<path d="M99.66 232.49A50.45 50.45 0 0 1 99.04 232.69" fill="none" stroke="#262424" stroke-width="5.300000000000004"/>
<path d="M99.04 232.69A50.45 50.45 0 0 1 98.46 232.86" fill="none" stroke="#C25048" stroke-width="5.300000000000004"/>
<path d="M98.46 232.86A50.45 50.45 0 0 1 98.18 232.95" fill="none" stroke="#D5D0D0" stroke-width="5.300000000000004"/>
<path d="M98.18 232.95A50.45 50.45 0 0 1 97.55 233.12" fill="none" stroke="#262424" stroke-width="5.300000000000004"/>
<path d="M97.55 233.12A50.45 50.45 0 0 1 97.24 233.21" fill="none" stroke="#FFFFFF" stroke-width="5.300000000000004"/>
<path d="M97.24 233.21A50.45 50.45 0 0 1 96.83 233.32" fill="none" stroke="#262424" stroke-width="5.300000000000004"/>
<path d="M96.83 233.32A50.45 50.45 0 0 1 96.46 233.41" fill="none" stroke="#D5D0D0" stroke-width="5.300000000000004"/>
<path d="M96.46 233.41A50.45 50.45 0 0 1 95.97 233.53" fill="none" stroke="#000000" stroke-width="5.300000000000004"/>
<path d="M95.97 233.53A50.45 50.45 0 0 1 95.70 233.60" fill="none" stroke="#FFFFFF" stroke-width="5.300000000000004"/>
<path d="M95.70 233.60A50.45 50.45 0 0 1 95.37 233.68" fill="none" stroke="#A5A0A0" stroke-width="5.300000000000004"/>
<path d="M95.37 233.68A50.45 50.45 0 0 1 94.87 233.79" fill="none" stroke="#F5E4E6" stroke-width="5.300000000000004"/>
<path d="M94.87 233.79A50.45 50.45 0 0 1 94.31 233.91" fill="none" stroke="#262424" stroke-width="5.300000000000004"/>
<path d="M94.31 233.91A50.45 50.45 0 0 1 93.89 233.99" fill="none" stroke="#F5E4E6" stroke-width="5.300000000000004"/>
<path d="M93.89 233.99A50.45 50.45 0 0 1 93.25 234.11" fill="none" stroke="#D5D0D0" stroke-width="5.300000000000004"/>
<path d="M93.25 234.11A50.45 50.45 0 0 1 92.68 234.22" fill="none" stroke="#F5E4E6" stroke-width="5.300000000000004"/>
<path d="M92.68 234.22A50.45 50.45 0 0 1 92.40 234.26" fill="none" stroke="#262424" stroke-width="5.300000000000004"/>
<path d="M92.40 234.26A50.45 50.45 0 0 1 92.09 234.31" fill="none" stroke="#000000" stroke-width="5.300000000000004"/>
<path d="M92.09 234.31A50.45 50.45 0 0 1 91.67 234.38" fill="none" stroke="#F5E4E6" stroke-width="5.300000000000004"/>
<path d="M91.67 234.38A50.45 50.45 0 0 1 91.39 234.42" fill="none" stroke="#A5A0A0" stroke-width="5.300000000000004"/>
<path d="M91.39 234.42A50.45 50.45 0 0 1 90.89 234.49" fill="none" stroke="#000000" stroke-width="5.300000000000004"/>
<path d="M90.89 234.49A50.45 50.45 0 0 1 90.65 234.52" fill="none" stroke="#A5A0A0" stroke-width="5.300000000000004"/>
<path d="M90.65 234.52A50.45 50.45 0 0 1 90.37 234.56" fill="none" stroke="#000000" stroke-width="5.300000000000004"/>
<path d="M90.37 234.56A50.45 50.45 0 0 1 90.13 234.59" fill="none" stroke="#FFFFFF" stroke-width="5.300000000000004"/>
<path d="M90.13 234.59A50.45 50.45 0 0 1 89.93 234.61" fill="none" stroke="#A5A0A0" stroke-width="5.300000000000004"/>
<path d="M89.93 234.61A50.45 50.45 0 0 1 89.32 234.68" fill="none" stroke="#000000" stroke-width="5.300000000000004"/>
<path d="M89.32 234.68A50.45 50.45 0 0 1 89.23 234.69" fill="none" stroke="#000000" stroke-width="5.300000000000004"/>
<path d="M103.77 233.82A53.10 53.10 0 0 1 89.50 237.32" fill="none" stroke="#333" stroke-width="0.45"/>
<path d="M101.81 228.90A47.80 47.80 0 0 1 88.96 232.05" fill="none" stroke="#333" stroke-width="0.45"/>
<line x1="101.81" y1="228.90" x2="103.77" y2="233.82" stroke="#555" stroke-width="0.35"/>
<line x1="88.96" y1="232.05" x2="89.50" y2="237.32" stroke="#555" stroke-width="0.35"/>
<path d="M104.66 236.05A55.50 55.50 0 0 1 89.74 239.71" fill="none" stroke="#E41A1C" stroke-width="0.5"/>
<text font-size="5.5" text-anchor="middle" fill="#000" stroke="#000" stroke-width="0.14" transform="translate(100.67 240.71) rotate(74.60)" y="1.95">8</text>
<path d="M88.37 234.77A50.45 50.45 0 0 1 74.91 234.11" fill="none" stroke="#F4ECEC" stroke-width="5.300000000000004"/>
<path d="M88.37 234.77A50.45 50.45 0 0 1 87.74 234.82" fill="none" stroke="#D5D0D0" stroke-width="5.300000000000004"/>
<path d="M87.74 234.82A50.45 50.45 0 0 1 87.47 234.84" fill="none" stroke="#000000" stroke-width="5.300000000000004"/>
<path d="M87.47 234.84A50.45 50.45 0 0 1 86.93 234.87" fill="none" stroke="#FFFFFF" stroke-width="5.300000000000004"/>
<path d="M86.93 234.87A50.45 50.45 0 0 1 86.43 234.90" fill="none" stroke="#A5A0A0" stroke-width="5.300000000000004"/>
<path d="M86.43 234.90A50.45 50.45 0 0 1 86.07 234.91" fill="none" stroke="#D5D0D0" stroke-width="5.300000000000004"/>
<path d="M86.07 234.91A50.45 50.45 0 0 1 85.81 234.92" fill="none" stroke="#FFFFFF" stroke-width="5.300000000000004"/>
<path d="M85.81 234.92A50.45 50.45 0 0 1 85.50 234.93" fill="none" stroke="#A5A0A0" stroke-width="5.300000000000004"/>
<path d="M85.50 234.93A50.45 50.45 0 0 1 84.85 234.94" fill="none" stroke="#F5E4E6" stroke-width="5.300000000000004"/>
<path d="M84.85 234.94A50.45 50.45 0 0 1 84.20 234.95" fill="none" stroke="#F5E4E6" stroke-width="5.300000000000004"/>
<path d="M84.20 234.95A50.45 50.45 0 0 1 83.85 234.95" fill="none" stroke="#000000" stroke-width="5.300000000000004"/>
<path d="M83.85 234.95A50.45 50.45 0 0 1 83.27 234.94" fill="none" stroke="#C25048" stroke-width="5.300000000000004"/>
<path d="M83.27 234.94A50.45 50.45 0 0 1 83.07 234.94" fill="none" stroke="#686464" stroke-width="5.300000000000004"/>
<path d="M83.07 234.94A50.45 50.45 0 0 1 82.72 234.93" fill="none" stroke="#000000" stroke-width="5.300000000000004"/>
<path d="M82.72 234.93A50.45 50.45 0 0 1 82.45 234.92" fill="none" stroke="#A5A0A0" stroke-width="5.300000000000004"/>
<path d="M82.45 234.92A50.45 50.45 0 0 1 81.83 234.90" fill="none" stroke="#FFFFFF" stroke-width="5.300000000000004"/>
<path d="M81.83 234.90A50.45 50.45 0 0 1 81.45 234.88" fill="none" stroke="#000000" stroke-width="5.300000000000004"/>
<path d="M81.45 234.88A50.45 50.45 0 0 1 80.90 234.85" fill="none" stroke="#FFFFFF" stroke-width="5.300000000000004"/>
<path d="M80.90 234.85A50.45 50.45 0 0 1 80.71 234.84" fill="none" stroke="#FFFFFF" stroke-width="5.300000000000004"/>
<path d="M80.71 234.84A50.45 50.45 0 0 1 80.08 234.79" fill="none" stroke="#D5D0D0" stroke-width="5.300000000000004"/>
<path d="M80.08 234.79A50.45 50.45 0 0 1 79.54 234.74" fill="none" stroke="#000000" stroke-width="5.300000000000004"/>
<path d="M79.54 234.74A50.45 50.45 0 0 1 79.20 234.71" fill="none" stroke="#D5D0D0" stroke-width="5.300000000000004"/>
<path d="M79.20 234.71A50.45 50.45 0 0 1 78.56 234.64" fill="none" stroke="#262424" stroke-width="5.300000000000004"/>
<path d="M78.56 234.64A50.45 50.45 0 0 1 78.25 234.61" fill="none" stroke="#262424" stroke-width="5.300000000000004"/>
<path d="M78.25 234.61A50.45 50.45 0 0 1 77.93 234.57" fill="none" stroke="#D5D0D0" stroke-width="5.300000000000004"/>
<path d="M77.93 234.57A50.45 50.45 0 0 1 77.75 234.55" fill="none" stroke="#262424" stroke-width="5.300000000000004"/>
<path d="M77.75 234.55A50.45 50.45 0 0 1 77.13 234.47" fill="none" stroke="#262424" stroke-width="5.300000000000004"/>
<path d="M77.13 234.47A50.45 50.45 0 0 1 76.50 234.37" fill="none" stroke="#FFFFFF" stroke-width="5.300000000000004"/>
<path d="M76.50 234.37A50.45 50.45 0 0 1 76.21 234.33" fill="none" stroke="#686464" stroke-width="5.300000000000004"/>
<path d="M76.21 234.33A50.45 50.45 0 0 1 75.57 234.22" fill="none" stroke="#000000" stroke-width="5.300000000000004"/>
<path d="M75.57 234.22A50.45 50.45 0 0 1 75.21 234.16" fill="none" stroke="#D5D0D0" stroke-width="5.300000000000004"/>
<path d="M75.21 234.16A50.45 50.45 0 0 1 74.91 234.11" fill="none" stroke="#686464" stroke-width="5.300000000000004"/>
<path d="M88.60 237.41A53.10 53.10 0 0 1 74.43 236.71" fill="none" stroke="#333" stroke-width="0.45"/>
<path d="M88.15 232.13A47.80 47.80 0 0 1 75.39 231.50" fill="none" stroke="#333" stroke-width="0.45"/>
<line x1="88.15" y1="232.13" x2="88.60" y2="237.41" stroke="#555" stroke-width="0.35"/>
<line x1="75.39" y1="231.50" x2="74.43" y2="236.71" stroke="#555" stroke-width="0.35"/>
<path d="M88.80 239.80A55.50 55.50 0 0 1 73.99 239.07" fill="none" stroke="#1B9E77" stroke-width="0.5"/>
<text font-size="5.5" text-anchor="middle" fill="#000" stroke="#000" stroke-width="0.14" transform="translate(78.07 242.46) rotate(-83.80)" y="1.95">9</text>
<path d="M74.07 233.94A50.45 50.45 0 0 1 61.82 229.76" fill="none" stroke="#F4ECEC" stroke-width="5.300000000000004"/>
<path d="M74.07 233.94A50.45 50.45 0 0 1 73.44 233.81" fill="none" stroke="#F5E4E6" stroke-width="5.300000000000004"/>
<path d="M73.44 233.81A50.45 50.45 0 0 1 72.89 233.69" fill="none" stroke="#262424" stroke-width="5.300000000000004"/>
<path d="M72.89 233.69A50.45 50.45 0 0 1 72.32 233.56" fill="none" stroke="#262424" stroke-width="5.300000000000004"/>
<path d="M72.32 233.56A50.45 50.45 0 0 1 71.86 233.44" fill="none" stroke="#D5D0D0" stroke-width="5.300000000000004"/>
<path d="M71.86 233.44A50.45 50.45 0 0 1 71.54 233.36" fill="none" stroke="#A5A0A0" stroke-width="5.300000000000004"/>
<path d="M71.54 233.36A50.45 50.45 0 0 1 71.00 233.22" fill="none" stroke="#FFFFFF" stroke-width="5.300000000000004"/>
<path d="M71.00 233.22A50.45 50.45 0 0 1 70.73 233.15" fill="none" stroke="#262424" stroke-width="5.300000000000004"/>
<path d="M70.73 233.15A50.45 50.45 0 0 1 70.45 233.07" fill="none" stroke="#FFFFFF" stroke-width="5.300000000000004"/>
<path d="M70.45 233.07A50.45 50.45 0 0 1 70.27 233.02" fill="none" stroke="#C25048" stroke-width="5.300000000000004"/>
<path d="M70.27 233.02A50.45 50.45 0 0 1 69.95 232.92" fill="none" stroke="#000000" stroke-width="5.300000000000004"/>
<path d="M69.95 232.92A50.45 50.45 0 0 1 69.36 232.75" fill="none" stroke="#000000" stroke-width="5.300000000000004"/>
<path d="M69.36 232.75A50.45 50.45 0 0 1 69.07 232.66" fill="none" stroke="#FFFFFF" stroke-width="5.300000000000004"/>
<path d="M69.07 232.66A50.45 50.45 0 0 1 68.86 232.59" fill="none" stroke="#686464" stroke-width="5.300000000000004"/>
<path d="M68.86 232.59A50.45 50.45 0 0 1 68.36 232.43" fill="none" stroke="#A5A0A0" stroke-width="5.300000000000004"/>
<path d="M68.36 232.43A50.45 50.45 0 0 1 68.08 232.34" fill="none" stroke="#A5A0A0" stroke-width="5.300000000000004"/>
<path d="M68.08 232.34A50.45 50.45 0 0 1 67.63 232.19" fill="none" stroke="#262424" stroke-width="5.300000000000004"/>
<path d="M67.63 232.19A50.45 50.45 0 0 1 67.12 232.01" fill="none" stroke="#000000" stroke-width="5.300000000000004"/>
<path d="M67.12 232.01A50.45 50.45 0 0 1 66.64 231.83" fill="none" stroke="#F5E4E6" stroke-width="5.300000000000004"/>
<path d="M66.64 231.83A50.45 50.45 0 0 1 66.09 231.63" fill="none" stroke="#D5D0D0" stroke-width="5.300000000000004"/>
<path d="M66.09 231.63A50.45 50.45 0 0 1 65.67 231.46" fill="none" stroke="#A5A0A0" stroke-width="5.300000000000004"/>
<path d="M65.67 231.46A50.45 50.45 0 0 1 65.16 231.26" fill="none" stroke="#F5E4E6" stroke-width="5.300000000000004"/>
<path d="M65.16 231.26A50.45 50.45 0 0 1 64.89 231.15" fill="none" stroke="#D5D0D0" stroke-width="5.300000000000004"/>
<path d="M64.89 231.15A50.45 50.45 0 0 1 64.66 231.05" fill="none" stroke="#000000" stroke-width="5.300000000000004"/>
<path d="M64.66 231.05A50.45 50.45 0 0 1 64.24 230.88" fill="none" stroke="#D5D0D0" stroke-width="5.300000000000004"/>
<path d="M64.24 230.88A50.45 50.45 0 0 1 63.90 230.73" fill="none" stroke="#000000" stroke-width="5.300000000000004"/>
<path d="M63.90 230.73A50.45 50.45 0 0 1 63.51 230.56" fill="none" stroke="#F5E4E6" stroke-width="5.300000000000004"/>
<path d="M63.51 230.56A50.45 50.45 0 0 1 62.99 230.32" fill="none" stroke="#262424" stroke-width="5.300000000000004"/>
<path d="M62.99 230.32A50.45 50.45 0 0 1 62.38 230.04" fill="none" stroke="#FFFFFF" stroke-width="5.300000000000004"/>
<path d="M62.38 230.04A50.45 50.45 0 0 1 62.02 229.86" fill="none" stroke="#000000" stroke-width="5.300000000000004"/>
<path d="M62.02 229.86A50.45 50.45 0 0 1 61.82 229.76" fill="none" stroke="#000000" stroke-width="5.300000000000004"/>
<path d="M73.54 236.54A53.10 53.10 0 0 1 60.65 232.14" fill="none" stroke="#333" stroke-width="0.45"/>
<path d="M74.59 231.34A47.80 47.80 0 0 1 62.99 227.39" fill="none" stroke="#333" stroke-width="0.45"/>
<line x1="74.59" y1="231.34" x2="73.54" y2="236.54" stroke="#555" stroke-width="0.35"/>
<line x1="62.99" y1="227.39" x2="60.65" y2="232.14" stroke="#555" stroke-width="0.35"/>
<path d="M73.06 238.89A55.50 55.50 0 0 1 59.59 234.30" fill="none" stroke="#33A02C" stroke-width="0.5"/>
<text font-size="5.5" text-anchor="middle" fill="#000" stroke="#000" stroke-width="0.14" transform="translate(62.72 238.87) rotate(-68.80)" y="1.95">10</text>
<path d="M61.05 229.38A50.45 50.45 0 0 1 50.43 222.07" fill="none" stroke="#F4ECEC" stroke-width="5.300000000000004"/>
<path d="M61.05 229.38A50.45 50.45 0 0 1 60.88 229.29" fill="none" stroke="#D5D0D0" stroke-width="5.300000000000004"/>
<path d="M60.88 229.29A50.45 50.45 0 0 1 60.68 229.18" fill="none" stroke="#F5E4E6" stroke-width="5.300000000000004"/>
<path d="M60.68 229.18A50.45 50.45 0 0 1 60.10 228.87" fill="none" stroke="#686464" stroke-width="5.300000000000004"/>
<path d="M60.10 228.87A50.45 50.45 0 0 1 59.54 228.57" fill="none" stroke="#A5A0A0" stroke-width="5.300000000000004"/>
<path d="M59.54 228.57A50.45 50.45 0 0 1 59.01 228.27" fill="none" stroke="#686464" stroke-width="5.300000000000004"/>
<path d="M59.01 228.27A50.45 50.45 0 0 1 58.75 228.12" fill="none" stroke="#262424" stroke-width="5.300000000000004"/>
<path d="M58.75 228.12A50.45 50.45 0 0 1 58.20 227.79" fill="none" stroke="#F5E4E6" stroke-width="5.300000000000004"/>
<path d="M58.20 227.79A50.45 50.45 0 0 1 57.80 227.55" fill="none" stroke="#262424" stroke-width="5.300000000000004"/>
<path d="M57.80 227.55A50.45 50.45 0 0 1 57.56 227.40" fill="none" stroke="#A5A0A0" stroke-width="5.300000000000004"/>
<path d="M57.56 227.40A50.45 50.45 0 0 1 57.35 227.28" fill="none" stroke="#F5E4E6" stroke-width="5.300000000000004"/>
<path d="M57.35 227.28A50.45 50.45 0 0 1 57.10 227.12" fill="none" stroke="#262424" stroke-width="5.300000000000004"/>
<path d="M57.10 227.12A50.45 50.45 0 0 1 56.68 226.85" fill="none" stroke="#F5E4E6" stroke-width="5.300000000000004"/>
<path d="M56.68 226.85A50.45 50.45 0 0 1 56.53 226.75" fill="none" stroke="#C25048" stroke-width="5.300000000000004"/>
<path d="M56.53 226.75A50.45 50.45 0 0 1 56.11 226.47" fill="none" stroke="#F5E4E6" stroke-width="5.300000000000004"/>
<path d="M56.11 226.47A50.45 50.45 0 0 1 55.83 226.29" fill="none" stroke="#F5E4E6" stroke-width="5.300000000000004"/>
<path d="M55.83 226.29A50.45 50.45 0 0 1 55.37 225.97" fill="none" stroke="#686464" stroke-width="5.300000000000004"/>
<path d="M55.37 225.97A50.45 50.45 0 0 1 55.20 225.85" fill="none" stroke="#FFFFFF" stroke-width="5.300000000000004"/>
<path d="M55.20 225.85A50.45 50.45 0 0 1 54.90 225.64" fill="none" stroke="#686464" stroke-width="5.300000000000004"/>
<path d="M54.90 225.64A50.45 50.45 0 0 1 54.50 225.35" fill="none" stroke="#FFFFFF" stroke-width="5.300000000000004"/>
<path d="M54.50 225.35A50.45 50.45 0 0 1 54.29 225.20" fill="none" stroke="#262424" stroke-width="5.300000000000004"/>
<path d="M54.29 225.20A50.45 50.45 0 0 1 53.99 224.98" fill="none" stroke="#D5D0D0" stroke-width="5.300000000000004"/>
<path d="M53.99 224.98A50.45 50.45 0 0 1 53.73 224.78" fill="none" stroke="#000000" stroke-width="5.300000000000004"/>
<path d="M53.73 224.78A50.45 50.45 0 0 1 53.47 224.59" fill="none" stroke="#686464" stroke-width="5.300000000000004"/>
<path d="M53.47 224.59A50.45 50.45 0 0 1 53.19 224.37" fill="none" stroke="#A5A0A0" stroke-width="5.300000000000004"/>
<path d="M53.19 224.37A50.45 50.45 0 0 1 52.72 224.00" fill="none" stroke="#000000" stroke-width="5.300000000000004"/>
<path d="M52.72 224.00A50.45 50.45 0 0 1 52.44 223.78" fill="none" stroke="#F5E4E6" stroke-width="5.300000000000004"/>
<path d="M52.44 223.78A50.45 50.45 0 0 1 52.03 223.44" fill="none" stroke="#F5E4E6" stroke-width="5.300000000000004"/>
<path d="M52.03 223.44A50.45 50.45 0 0 1 51.89 223.33" fill="none" stroke="#000000" stroke-width="5.300000000000004"/>
<path d="M51.89 223.33A50.45 50.45 0 0 1 51.60 223.09" fill="none" stroke="#000000" stroke-width="5.300000000000004"/>
<path d="M51.60 223.09A50.45 50.45 0 0 1 51.31 222.84" fill="none" stroke="#000000" stroke-width="5.300000000000004"/>
<path d="M51.31 222.84A50.45 50.45 0 0 1 51.01 222.58" fill="none" stroke="#F5E4E6" stroke-width="5.300000000000004"/>
<path d="M51.01 222.58A50.45 50.45 0 0 1 50.87 222.46" fill="none" stroke="#686464" stroke-width="5.300000000000004"/>
<path d="M50.87 222.46A50.45 50.45 0 0 1 50.50 222.14" fill="none" stroke="#000000" stroke-width="5.300000000000004"/>
<path d="M50.50 222.14A50.45 50.45 0 0 1 50.43 222.07" fill="none" stroke="#262424" stroke-width="5.300000000000004"/>
<path d="M59.84 231.73A53.10 53.10 0 0 1 48.67 224.05" fill="none" stroke="#333" stroke-width="0.45"/>
<path d="M62.26 227.02A47.80 47.80 0 0 1 52.20 220.10" fill="none" stroke="#333" stroke-width="0.45"/>
<line x1="62.26" y1="227.02" x2="59.84" y2="231.73" stroke="#555" stroke-width="0.35"/>
<line x1="52.20" y1="220.10" x2="48.67" y2="224.05" stroke="#555" stroke-width="0.35"/>
<path d="M58.75 233.87A55.50 55.50 0 0 1 47.06 225.84" fill="none" stroke="#E41A1C" stroke-width="0.5"/>
<text font-size="5.5" text-anchor="middle" fill="#000" stroke="#000" stroke-width="0.14" transform="translate(49.47 232.00) rotate(-54.50)" y="1.95">11</text>
<path d="M49.80 221.49A50.45 50.45 0 0 1 41.60 211.69" fill="none" stroke="#F4ECEC" stroke-width="5.300000000000004"/>
<path d="M49.80 221.49A50.45 50.45 0 0 1 49.54 221.25" fill="none" stroke="#686464" stroke-width="5.300000000000004"/>
<path d="M49.54 221.25A50.45 50.45 0 0 1 49.36 221.08" fill="none" stroke="#D5D0D0" stroke-width="5.300000000000004"/>
<path d="M49.36 221.08A50.45 50.45 0 0 1 49.05 220.78" fill="none" stroke="#000000" stroke-width="5.300000000000004"/>
<path d="M49.05 220.78A50.45 50.45 0 0 1 48.88 220.63" fill="none" stroke="#686464" stroke-width="5.300000000000004"/>
<path d="M48.88 220.63A50.45 50.45 0 0 1 48.48 220.22" fill="none" stroke="#000000" stroke-width="5.300000000000004"/>
<path d="M48.48 220.22A50.45 50.45 0 0 1 48.29 220.03" fill="none" stroke="#F5E4E6" stroke-width="5.300000000000004"/>
<path d="M48.29 220.03A50.45 50.45 0 0 1 47.84 219.57" fill="none" stroke="#000000" stroke-width="5.300000000000004"/>
<path d="M47.84 219.57A50.45 50.45 0 0 1 47.55 219.28" fill="none" stroke="#FFFFFF" stroke-width="5.300000000000004"/>
<path d="M47.55 219.28A50.45 50.45 0 0 1 47.12 218.81" fill="none" stroke="#C25048" stroke-width="5.300000000000004"/>
<path d="M47.12 218.81A50.45 50.45 0 0 1 46.70 218.36" fill="none" stroke="#262424" stroke-width="5.300000000000004"/>
<path d="M46.70 218.36A50.45 50.45 0 0 1 46.31 217.92" fill="none" stroke="#F5E4E6" stroke-width="5.300000000000004"/>
<path d="M46.31 217.92A50.45 50.45 0 0 1 45.94 217.50" fill="none" stroke="#F5E4E6" stroke-width="5.300000000000004"/>
<path d="M45.94 217.50A50.45 50.45 0 0 1 45.69 217.21" fill="none" stroke="#000000" stroke-width="5.300000000000004"/>
<path d="M45.69 217.21A50.45 50.45 0 0 1 45.32 216.77" fill="none" stroke="#F5E4E6" stroke-width="5.300000000000004"/>
<path d="M45.32 216.77A50.45 50.45 0 0 1 45.14 216.55" fill="none" stroke="#A5A0A0" stroke-width="5.300000000000004"/>
<path d="M45.14 216.55A50.45 50.45 0 0 1 44.87 216.22" fill="none" stroke="#A5A0A0" stroke-width="5.300000000000004"/>
<path d="M44.87 216.22A50.45 50.45 0 0 1 44.72 216.03" fill="none" stroke="#D5D0D0" stroke-width="5.300000000000004"/>
<path d="M44.72 216.03A50.45 50.45 0 0 1 44.39 215.62" fill="none" stroke="#000000" stroke-width="5.300000000000004"/>
<path d="M44.39 215.62A50.45 50.45 0 0 1 44.27 215.46" fill="none" stroke="#686464" stroke-width="5.300000000000004"/>
<path d="M44.27 215.46A50.45 50.45 0 0 1 43.94 215.03" fill="none" stroke="#FFFFFF" stroke-width="5.300000000000004"/>
<path d="M43.94 215.03A50.45 50.45 0 0 1 43.58 214.56" fill="none" stroke="#F5E4E6" stroke-width="5.300000000000004"/>
<path d="M43.58 214.56A50.45 50.45 0 0 1 43.30 214.18" fill="none" stroke="#686464" stroke-width="5.300000000000004"/>
<path d="M43.30 214.18A50.45 50.45 0 0 1 43.02 213.79" fill="none" stroke="#D5D0D0" stroke-width="5.300000000000004"/>
<path d="M43.02 213.79A50.45 50.45 0 0 1 42.80 213.47" fill="none" stroke="#686464" stroke-width="5.300000000000004"/>
<path d="M42.80 213.47A50.45 50.45 0 0 1 42.58 213.16" fill="none" stroke="#262424" stroke-width="5.300000000000004"/>
<path d="M42.58 213.16A50.45 50.45 0 0 1 42.36 212.83" fill="none" stroke="#A5A0A0" stroke-width="5.300000000000004"/>
<path d="M42.36 212.83A50.45 50.45 0 0 1 42.25 212.68" fill="none" stroke="#262424" stroke-width="5.300000000000004"/>
<path d="M42.25 212.68A50.45 50.45 0 0 1 42.02 212.33" fill="none" stroke="#F5E4E6" stroke-width="5.300000000000004"/>
<path d="M42.02 212.33A50.45 50.45 0 0 1 41.72 211.87" fill="none" stroke="#262424" stroke-width="5.300000000000004"/>
<path d="M41.72 211.87A50.45 50.45 0 0 1 41.60 211.69" fill="none" stroke="#F5E4E6" stroke-width="5.300000000000004"/>
<path d="M48.00 223.44A53.10 53.10 0 0 1 39.37 213.12" fill="none" stroke="#333" stroke-width="0.45"/>
<path d="M51.60 219.55A47.80 47.80 0 0 1 43.84 210.26" fill="none" stroke="#333" stroke-width="0.45"/>
<line x1="51.60" y1="219.55" x2="48.00" y2="223.44" stroke="#555" stroke-width="0.35"/>
<line x1="43.84" y1="210.26" x2="39.37" y2="213.12" stroke="#555" stroke-width="0.35"/>
<path d="M46.36 225.20A55.50 55.50 0 0 1 37.35 214.41" fill="none" stroke="#984EA3" stroke-width="0.5"/>
<text font-size="5.5" text-anchor="middle" fill="#000" stroke="#000" stroke-width="0.14" transform="translate(37.58 221.26) rotate(-39.00)" y="1.95">12</text>
<path d="M41.15 210.96A50.45 50.45 0 0 1 36.43 201.02" fill="none" stroke="#F4ECEC" stroke-width="5.300000000000004"/>
<path d="M41.15 210.96A50.45 50.45 0 0 1 40.93 210.61" fill="none" stroke="#F5E4E6" stroke-width="5.300000000000004"/>
<path d="M40.93 210.61A50.45 50.45 0 0 1 40.81 210.41" fill="none" stroke="#A5A0A0" stroke-width="5.300000000000004"/>
<path d="M40.81 210.41A50.45 50.45 0 0 1 40.70 210.22" fill="none" stroke="#A5A0A0" stroke-width="5.300000000000004"/>
<path d="M40.70 210.22A50.45 50.45 0 0 1 40.48 209.85" fill="none" stroke="#FFFFFF" stroke-width="5.300000000000004"/>
<path d="M40.48 209.85A50.45 50.45 0 0 1 40.24 209.43" fill="none" stroke="#C25048" stroke-width="5.300000000000004"/>
<path d="M40.24 209.43A50.45 50.45 0 0 1 39.98 208.96" fill="none" stroke="#262424" stroke-width="5.300000000000004"/>
<path d="M39.98 208.96A50.45 50.45 0 0 1 39.77 208.59" fill="none" stroke="#FFFFFF" stroke-width="5.300000000000004"/>
<path d="M39.77 208.59A50.45 50.45 0 0 1 39.57 208.21" fill="none" stroke="#A5A0A0" stroke-width="5.300000000000004"/>
<path d="M39.57 208.21A50.45 50.45 0 0 1 39.27 207.64" fill="none" stroke="#F5E4E6" stroke-width="5.300000000000004"/>
<path d="M39.27 207.64A50.45 50.45 0 0 1 39.00 207.11" fill="none" stroke="#000000" stroke-width="5.300000000000004"/>
<path d="M39.00 207.11A50.45 50.45 0 0 1 38.76 206.63" fill="none" stroke="#000000" stroke-width="5.300000000000004"/>
<path d="M38.76 206.63A50.45 50.45 0 0 1 38.64 206.39" fill="none" stroke="#000000" stroke-width="5.300000000000004"/>
<path d="M38.64 206.39A50.45 50.45 0 0 1 38.47 206.01" fill="none" stroke="#000000" stroke-width="5.300000000000004"/>
<path d="M38.47 206.01A50.45 50.45 0 0 1 38.20 205.44" fill="none" stroke="#F5E4E6" stroke-width="5.300000000000004"/>
<path d="M38.20 205.44A50.45 50.45 0 0 1 37.97 204.93" fill="none" stroke="#000000" stroke-width="5.300000000000004"/>
<path d="M37.97 204.93A50.45 50.45 0 0 1 37.89 204.74" fill="none" stroke="#A5A0A0" stroke-width="5.300000000000004"/>
<path d="M37.89 204.74A50.45 50.45 0 0 1 37.67 204.23" fill="none" stroke="#F5E4E6" stroke-width="5.300000000000004"/>
<path d="M37.67 204.23A50.45 50.45 0 0 1 37.43 203.66" fill="none" stroke="#D5D0D0" stroke-width="5.300000000000004"/>
<path d="M37.43 203.66A50.45 50.45 0 0 1 37.21 203.13" fill="none" stroke="#F5E4E6" stroke-width="5.300000000000004"/>
<path d="M37.21 203.13A50.45 50.45 0 0 1 37.06 202.73" fill="none" stroke="#000000" stroke-width="5.300000000000004"/>
<path d="M37.06 202.73A50.45 50.45 0 0 1 36.96 202.48" fill="none" stroke="#D5D0D0" stroke-width="5.300000000000004"/>
<path d="M36.96 202.48A50.45 50.45 0 0 1 36.81 202.08" fill="none" stroke="#D5D0D0" stroke-width="5.300000000000004"/>
<path d="M36.81 202.08A50.45 50.45 0 0 1 36.75 201.90" fill="none" stroke="#F5E4E6" stroke-width="5.300000000000004"/>
<path d="M36.75 201.90A50.45 50.45 0 0 1 36.66 201.66" fill="none" stroke="#000000" stroke-width="5.300000000000004"/>
<path d="M36.66 201.66A50.45 50.45 0 0 1 36.49 201.18" fill="none" stroke="#000000" stroke-width="5.300000000000004"/>
<path d="M36.49 201.18A50.45 50.45 0 0 1 36.43 201.02" fill="none" stroke="#262424" stroke-width="5.300000000000004"/>
<path d="M38.89 212.35A53.10 53.10 0 0 1 33.93 201.89" fill="none" stroke="#333" stroke-width="0.45"/>
<path d="M43.40 209.57A47.80 47.80 0 0 1 38.94 200.15" fill="none" stroke="#333" stroke-width="0.45"/>
<line x1="43.40" y1="209.57" x2="38.89" y2="212.35" stroke="#555" stroke-width="0.35"/>
<line x1="38.94" y1="200.15" x2="33.93" y2="201.89" stroke="#555" stroke-width="0.35"/>
<path d="M36.85 213.61A55.50 55.50 0 0 1 31.66 202.67" fill="none" stroke="#1F9EB4" stroke-width="0.5"/>
<text font-size="5.5" text-anchor="middle" fill="#000" stroke="#000" stroke-width="0.14" transform="translate(28.99 207.59) rotate(-23.20)" y="1.95">13</text>
<path d="M36.16 200.20A50.45 50.45 0 0 1 33.97 190.18" fill="none" stroke="#F4ECEC" stroke-width="5.300000000000004"/>
<path d="M36.16 200.20A50.45 50.45 0 0 1 36.09 199.98" fill="none" stroke="#686464" stroke-width="5.300000000000004"/>
<path d="M36.09 199.98A50.45 50.45 0 0 1 35.94 199.52" fill="none" stroke="#A5A0A0" stroke-width="5.300000000000004"/>
<path d="M35.94 199.52A50.45 50.45 0 0 1 35.76 198.94" fill="none" stroke="#686464" stroke-width="5.300000000000004"/>
<path d="M35.76 198.94A50.45 50.45 0 0 1 35.63 198.50" fill="none" stroke="#C25048" stroke-width="5.300000000000004"/>
<path d="M35.63 198.50A50.45 50.45 0 0 1 35.57 198.28" fill="none" stroke="#000000" stroke-width="5.300000000000004"/>
<path d="M35.57 198.28A50.45 50.45 0 0 1 35.44 197.81" fill="none" stroke="#A5A0A0" stroke-width="5.300000000000004"/>
<path d="M35.44 197.81A50.45 50.45 0 0 1 35.29 197.26" fill="none" stroke="#D5D0D0" stroke-width="5.300000000000004"/>
<path d="M35.29 197.26A50.45 50.45 0 0 1 35.13 196.62" fill="none" stroke="#686464" stroke-width="5.300000000000004"/>
<path d="M35.13 196.62A50.45 50.45 0 0 1 35.04 196.28" fill="none" stroke="#262424" stroke-width="5.300000000000004"/>
<path d="M35.04 196.28A50.45 50.45 0 0 1 34.95 195.89" fill="none" stroke="#F5E4E6" stroke-width="5.300000000000004"/>
<path d="M34.95 195.89A50.45 50.45 0 0 1 34.83 195.36" fill="none" stroke="#FFFFFF" stroke-width="5.300000000000004"/>
<path d="M34.83 195.36A50.45 50.45 0 0 1 34.71 194.80" fill="none" stroke="#D5D0D0" stroke-width="5.300000000000004"/>
<path d="M34.71 194.80A50.45 50.45 0 0 1 34.61 194.32" fill="none" stroke="#000000" stroke-width="5.300000000000004"/>
<path d="M34.61 194.32A50.45 50.45 0 0 1 34.53 193.86" fill="none" stroke="#262424" stroke-width="5.300000000000004"/>
<path d="M34.53 193.86A50.45 50.45 0 0 1 34.47 193.54" fill="none" stroke="#FFFFFF" stroke-width="5.300000000000004"/>
<path d="M34.47 193.54A50.45 50.45 0 0 1 34.43 193.35" fill="none" stroke="#F5E4E6" stroke-width="5.300000000000004"/>
<path d="M34.43 193.35A50.45 50.45 0 0 1 34.35 192.88" fill="none" stroke="#A5A0A0" stroke-width="5.300000000000004"/>
<path d="M34.35 192.88A50.45 50.45 0 0 1 34.28 192.46" fill="none" stroke="#000000" stroke-width="5.300000000000004"/>
<path d="M34.28 192.46A50.45 50.45 0 0 1 34.24 192.22" fill="none" stroke="#F5E4E6" stroke-width="5.300000000000004"/>
<path d="M34.24 192.22A50.45 50.45 0 0 1 34.17 191.73" fill="none" stroke="#FFFFFF" stroke-width="5.300000000000004"/>
<path d="M34.17 191.73A50.45 50.45 0 0 1 34.15 191.56" fill="none" stroke="#A5A0A0" stroke-width="5.300000000000004"/>
<path d="M34.15 191.56A50.45 50.45 0 0 1 34.12 191.34" fill="none" stroke="#A5A0A0" stroke-width="5.300000000000004"/>
<path d="M34.12 191.34A50.45 50.45 0 0 1 34.08 191.06" fill="none" stroke="#686464" stroke-width="5.300000000000004"/>
<path d="M34.08 191.06A50.45 50.45 0 0 1 34.02 190.59" fill="none" stroke="#F5E4E6" stroke-width="5.300000000000004"/>
<path d="M34.02 190.59A50.45 50.45 0 0 1 33.97 190.18" fill="none" stroke="#686464" stroke-width="5.300000000000004"/>
<path d="M33.64 201.03A53.10 53.10 0 0 1 31.34 190.48" fill="none" stroke="#333" stroke-width="0.45"/>
<path d="M38.67 199.38A47.80 47.80 0 0 1 36.60 189.88" fill="none" stroke="#333" stroke-width="0.45"/>
<line x1="38.67" y1="199.38" x2="33.64" y2="201.03" stroke="#555" stroke-width="0.35"/>
<line x1="36.60" y1="189.88" x2="31.34" y2="190.48" stroke="#555" stroke-width="0.35"/>
<path d="M31.36 201.77A55.50 55.50 0 0 1 28.95 190.75" fill="none" stroke="#1B9E9E" stroke-width="0.5"/>
<text font-size="5.5" text-anchor="middle" fill="#000" stroke="#000" stroke-width="0.14" transform="translate(25.49 197.08) rotate(-12.30)" y="1.95">14</text>
<path d="M33.88 189.32A50.45 50.45 0 0 1 33.90 179.53" fill="none" stroke="#F4ECEC" stroke-width="5.300000000000004"/>
<path d="M33.88 189.32A50.45 50.45 0 0 1 33.86 189.09" fill="none" stroke="#000000" stroke-width="5.300000000000004"/>
<path d="M33.86 189.09A50.45 50.45 0 0 1 33.83 188.79" fill="none" stroke="#F5E4E6" stroke-width="5.300000000000004"/>
<path d="M33.83 188.79A50.45 50.45 0 0 1 33.81 188.57" fill="none" stroke="#262424" stroke-width="5.300000000000004"/>
<path d="M33.81 188.57A50.45 50.45 0 0 1 33.77 187.97" fill="none" stroke="#262424" stroke-width="5.300000000000004"/>
<path d="M33.77 187.97A50.45 50.45 0 0 1 33.75 187.60" fill="none" stroke="#D5D0D0" stroke-width="5.300000000000004"/>
<path d="M33.75 187.60A50.45 50.45 0 0 1 33.73 187.42" fill="none" stroke="#C25048" stroke-width="5.300000000000004"/>
<path d="M33.73 187.42A50.45 50.45 0 0 1 33.71 186.97" fill="none" stroke="#A5A0A0" stroke-width="5.300000000000004"/>
<path d="M33.71 186.97A50.45 50.45 0 0 1 33.69 186.48" fill="none" stroke="#A5A0A0" stroke-width="5.300000000000004"/>
<path d="M33.69 186.48A50.45 50.45 0 0 1 33.67 185.84" fill="none" stroke="#262424" stroke-width="5.300000000000004"/>
<path d="M33.67 185.84A50.45 50.45 0 0 1 33.66 185.54" fill="none" stroke="#000000" stroke-width="5.300000000000004"/>
<path d="M33.66 185.54A50.45 50.45 0 0 1 33.66 185.35" fill="none" stroke="#686464" stroke-width="5.300000000000004"/>
<path d="M33.66 185.35A50.45 50.45 0 0 1 33.65 184.97" fill="none" stroke="#F5E4E6" stroke-width="5.300000000000004"/>
<path d="M33.65 184.97A50.45 50.45 0 0 1 33.65 184.77" fill="none" stroke="#262424" stroke-width="5.300000000000004"/>
<path d="M33.65 184.77A50.45 50.45 0 0 1 33.65 184.59" fill="none" stroke="#686464" stroke-width="5.300000000000004"/>
<path d="M33.65 184.59A50.45 50.45 0 0 1 33.65 183.95" fill="none" stroke="#F5E4E6" stroke-width="5.300000000000004"/>
<path d="M33.65 183.95A50.45 50.45 0 0 1 33.66 183.68" fill="none" stroke="#262424" stroke-width="5.300000000000004"/>
<path d="M33.66 183.68A50.45 50.45 0 0 1 33.67 183.26" fill="none" stroke="#262424" stroke-width="5.300000000000004"/>
<path d="M33.67 183.26A50.45 50.45 0 0 1 33.68 182.68" fill="none" stroke="#F5E4E6" stroke-width="5.300000000000004"/>
<path d="M33.68 182.68A50.45 50.45 0 0 1 33.70 182.35" fill="none" stroke="#D5D0D0" stroke-width="5.300000000000004"/>
<path d="M33.70 182.35A50.45 50.45 0 0 1 33.70 182.16" fill="none" stroke="#000000" stroke-width="5.300000000000004"/>
<path d="M33.70 182.16A50.45 50.45 0 0 1 33.73 181.60" fill="none" stroke="#262424" stroke-width="5.300000000000004"/>
<path d="M33.73 181.60A50.45 50.45 0 0 1 33.74 181.42" fill="none" stroke="#000000" stroke-width="5.300000000000004"/>
<path d="M33.74 181.42A50.45 50.45 0 0 1 33.78 180.88" fill="none" stroke="#686464" stroke-width="5.300000000000004"/>
<path d="M33.78 180.88A50.45 50.45 0 0 1 33.82 180.34" fill="none" stroke="#686464" stroke-width="5.300000000000004"/>
<path d="M33.82 180.34A50.45 50.45 0 0 1 33.85 180.06" fill="none" stroke="#F5E4E6" stroke-width="5.300000000000004"/>
<path d="M33.85 180.06A50.45 50.45 0 0 1 33.87 179.77" fill="none" stroke="#FFFFFF" stroke-width="5.300000000000004"/>
<path d="M33.87 179.77A50.45 50.45 0 0 1 33.90 179.53" fill="none" stroke="#262424" stroke-width="5.300000000000004"/>
<path d="M31.24 189.58A53.10 53.10 0 0 1 31.26 179.26" fill="none" stroke="#333" stroke-width="0.45"/>
<path d="M36.52 189.07A47.80 47.80 0 0 1 36.53 179.79" fill="none" stroke="#333" stroke-width="0.45"/>
<line x1="36.52" y1="189.07" x2="31.24" y2="189.58" stroke="#555" stroke-width="0.35"/>
<line x1="36.53" y1="179.79" x2="31.26" y2="179.26" stroke="#555" stroke-width="0.35"/>
<path d="M28.85 189.81A55.50 55.50 0 0 1 28.87 179.03" fill="none" stroke="#9E9AC8" stroke-width="0.5"/>
<text font-size="5.5" text-anchor="middle" fill="#000" stroke="#000" stroke-width="0.14" transform="translate(24.10 184.61) rotate(0.09)" y="1.95">15</text>
<path d="M33.99 178.67A50.45 50.45 0 0 1 35.72 170.21" fill="none" stroke="#F4ECEC" stroke-width="5.300000000000004"/>
<path d="M33.99 178.67A50.45 50.45 0 0 1 34.05 178.15" fill="none" stroke="#000000" stroke-width="5.300000000000004"/>
<path d="M34.05 178.15A50.45 50.45 0 0 1 34.12 177.63" fill="none" stroke="#D5D0D0" stroke-width="5.300000000000004"/>
<path d="M34.12 177.63A50.45 50.45 0 0 1 34.18 177.19" fill="none" stroke="#A5A0A0" stroke-width="5.300000000000004"/>
<path d="M34.18 177.19A50.45 50.45 0 0 1 34.27 176.63" fill="none" stroke="#686464" stroke-width="5.300000000000004"/>
<path d="M34.27 176.63A50.45 50.45 0 0 1 34.32 176.33" fill="none" stroke="#262424" stroke-width="5.300000000000004"/>
<path d="M34.32 176.33A50.45 50.45 0 0 1 34.43 175.69" fill="none" stroke="#F5E4E6" stroke-width="5.300000000000004"/>
<path d="M34.43 175.69A50.45 50.45 0 0 1 34.54 175.09" fill="none" stroke="#C25048" stroke-width="5.300000000000004"/>
<path d="M34.54 175.09A50.45 50.45 0 0 1 34.59 174.79" fill="none" stroke="#F5E4E6" stroke-width="5.300000000000004"/>
<path d="M34.59 174.79A50.45 50.45 0 0 1 34.70 174.26" fill="none" stroke="#000000" stroke-width="5.300000000000004"/>
<path d="M34.70 174.26A50.45 50.45 0 0 1 34.81 173.73" fill="none" stroke="#D5D0D0" stroke-width="5.300000000000004"/>
<path d="M34.81 173.73A50.45 50.45 0 0 1 34.95 173.13" fill="none" stroke="#D5D0D0" stroke-width="5.300000000000004"/>
<path d="M34.95 173.13A50.45 50.45 0 0 1 35.01 172.85" fill="none" stroke="#000000" stroke-width="5.300000000000004"/>
<path d="M35.01 172.85A50.45 50.45 0 0 1 35.13 172.37" fill="none" stroke="#262424" stroke-width="5.300000000000004"/>
<path d="M35.13 172.37A50.45 50.45 0 0 1 35.25 171.89" fill="none" stroke="#000000" stroke-width="5.300000000000004"/>
<path d="M35.25 171.89A50.45 50.45 0 0 1 35.36 171.49" fill="none" stroke="#000000" stroke-width="5.300000000000004"/>
<path d="M35.36 171.49A50.45 50.45 0 0 1 35.49 170.99" fill="none" stroke="#000000" stroke-width="5.300000000000004"/>
<path d="M35.49 170.99A50.45 50.45 0 0 1 35.60 170.62" fill="none" stroke="#262424" stroke-width="5.300000000000004"/>
<path d="M35.60 170.62A50.45 50.45 0 0 1 35.72 170.21" fill="none" stroke="#D5D0D0" stroke-width="5.300000000000004"/>
<path d="M31.36 178.36A53.10 53.10 0 0 1 33.18 169.46" fill="none" stroke="#333" stroke-width="0.45"/>
<path d="M36.62 178.98A47.80 47.80 0 0 1 38.26 170.96" fill="none" stroke="#333" stroke-width="0.45"/>
<line x1="36.62" y1="178.98" x2="31.36" y2="178.36" stroke="#555" stroke-width="0.35"/>
<line x1="38.26" y1="170.96" x2="33.18" y2="169.46" stroke="#555" stroke-width="0.35"/>
<path d="M28.97 178.09A55.50 55.50 0 0 1 30.87 168.78" fill="none" stroke="#E6C229" stroke-width="0.5"/>
<text font-size="5.5" text-anchor="middle" fill="#000" stroke="#000" stroke-width="0.14" transform="translate(25.32 173.07) rotate(11.55)" y="1.95">16</text>
<path d="M35.97 169.38A50.45 50.45 0 0 1 38.86 162.18" fill="none" stroke="#F4ECEC" stroke-width="5.300000000000004"/>
<path d="M35.97 169.38A50.45 50.45 0 0 1 36.05 169.12" fill="none" stroke="#262424" stroke-width="5.300000000000004"/>
<path d="M36.05 169.12A50.45 50.45 0 0 1 36.12 168.92" fill="none" stroke="#000000" stroke-width="5.300000000000004"/>
<path d="M36.12 168.92A50.45 50.45 0 0 1 36.19 168.68" fill="none" stroke="#FFFFFF" stroke-width="5.300000000000004"/>
<path d="M36.19 168.68A50.45 50.45 0 0 1 36.26 168.47" fill="none" stroke="#000000" stroke-width="5.300000000000004"/>
<path d="M36.26 168.47A50.45 50.45 0 0 1 36.37 168.14" fill="none" stroke="#F5E4E6" stroke-width="5.300000000000004"/>
<path d="M36.37 168.14A50.45 50.45 0 0 1 36.44 167.97" fill="none" stroke="#FFFFFF" stroke-width="5.300000000000004"/>
<path d="M36.44 167.97A50.45 50.45 0 0 1 36.61 167.48" fill="none" stroke="#262424" stroke-width="5.300000000000004"/>
<path d="M36.61 167.48A50.45 50.45 0 0 1 36.79 166.99" fill="none" stroke="#C25048" stroke-width="5.300000000000004"/>
<path d="M36.79 166.99A50.45 50.45 0 0 1 36.86 166.80" fill="none" stroke="#686464" stroke-width="5.300000000000004"/>
<path d="M36.86 166.80A50.45 50.45 0 0 1 36.98 166.47" fill="none" stroke="#000000" stroke-width="5.300000000000004"/>
<path d="M36.98 166.47A50.45 50.45 0 0 1 37.19 165.93" fill="none" stroke="#000000" stroke-width="5.300000000000004"/>
<path d="M37.19 165.93A50.45 50.45 0 0 1 37.27 165.74" fill="none" stroke="#000000" stroke-width="5.300000000000004"/>
<path d="M37.27 165.74A50.45 50.45 0 0 1 37.51 165.16" fill="none" stroke="#000000" stroke-width="5.300000000000004"/>
<path d="M37.51 165.16A50.45 50.45 0 0 1 37.59 164.95" fill="none" stroke="#F5E4E6" stroke-width="5.300000000000004"/>
<path d="M37.59 164.95A50.45 50.45 0 0 1 37.68 164.74" fill="none" stroke="#FFFFFF" stroke-width="5.300000000000004"/>
<path d="M37.68 164.74A50.45 50.45 0 0 1 37.92 164.19" fill="none" stroke="#000000" stroke-width="5.300000000000004"/>
<path d="M37.92 164.19A50.45 50.45 0 0 1 38.12 163.75" fill="none" stroke="#000000" stroke-width="5.300000000000004"/>
<path d="M38.12 163.75A50.45 50.45 0 0 1 38.32 163.31" fill="none" stroke="#D5D0D0" stroke-width="5.300000000000004"/>
<path d="M38.32 163.31A50.45 50.45 0 0 1 38.41 163.10" fill="none" stroke="#FFFFFF" stroke-width="5.300000000000004"/>
<path d="M38.41 163.10A50.45 50.45 0 0 1 38.65 162.61" fill="none" stroke="#F5E4E6" stroke-width="5.300000000000004"/>
<path d="M38.65 162.61A50.45 50.45 0 0 1 38.79 162.31" fill="none" stroke="#A5A0A0" stroke-width="5.300000000000004"/>
<path d="M38.79 162.31A50.45 50.45 0 0 1 38.86 162.18" fill="none" stroke="#D5D0D0" stroke-width="5.300000000000004"/>
<path d="M33.44 168.59A53.10 53.10 0 0 1 36.48 161.00" fill="none" stroke="#333" stroke-width="0.45"/>
<path d="M38.50 170.18A47.80 47.80 0 0 1 41.23 163.35" fill="none" stroke="#333" stroke-width="0.45"/>
<line x1="38.50" y1="170.18" x2="33.44" y2="168.59" stroke="#555" stroke-width="0.35"/>
<line x1="41.23" y1="163.35" x2="36.48" y2="161.00" stroke="#555" stroke-width="0.35"/>
<path d="M31.15 167.87A55.50 55.50 0 0 1 34.33 159.94" fill="none" stroke="#FF7F00" stroke-width="0.5"/>
<text font-size="5.5" text-anchor="middle" fill="#000" stroke="#000" stroke-width="0.14" transform="translate(28.45 163.08) rotate(21.85)" y="1.95">17</text>
<path d="M39.25 161.41A50.45 50.45 0 0 1 43.15 155.04" fill="none" stroke="#F4ECEC" stroke-width="5.300000000000004"/>
<path d="M39.25 161.41A50.45 50.45 0 0 1 39.39 161.13" fill="none" stroke="#262424" stroke-width="5.300000000000004"/>
<path d="M39.39 161.13A50.45 50.45 0 0 1 39.56 160.81" fill="none" stroke="#D5D0D0" stroke-width="5.300000000000004"/>
<path d="M39.56 160.81A50.45 50.45 0 0 1 39.87 160.24" fill="none" stroke="#686464" stroke-width="5.300000000000004"/>
<path d="M39.87 160.24A50.45 50.45 0 0 1 40.16 159.72" fill="none" stroke="#C25048" stroke-width="5.300000000000004"/>
<path d="M40.16 159.72A50.45 50.45 0 0 1 40.25 159.56" fill="none" stroke="#A5A0A0" stroke-width="5.300000000000004"/>
<path d="M40.25 159.56A50.45 50.45 0 0 1 40.44 159.22" fill="none" stroke="#262424" stroke-width="5.300000000000004"/>
<path d="M40.44 159.22A50.45 50.45 0 0 1 40.62 158.92" fill="none" stroke="#262424" stroke-width="5.300000000000004"/>
<path d="M40.62 158.92A50.45 50.45 0 0 1 40.84 158.54" fill="none" stroke="#F5E4E6" stroke-width="5.300000000000004"/>
<path d="M40.84 158.54A50.45 50.45 0 0 1 41.15 158.03" fill="none" stroke="#FFFFFF" stroke-width="5.300000000000004"/>
<path d="M41.15 158.03A50.45 50.45 0 0 1 41.46 157.54" fill="none" stroke="#F5E4E6" stroke-width="5.300000000000004"/>
<path d="M41.46 157.54A50.45 50.45 0 0 1 41.55 157.39" fill="none" stroke="#F5E4E6" stroke-width="5.300000000000004"/>
<path d="M41.55 157.39A50.45 50.45 0 0 1 41.85 156.93" fill="none" stroke="#000000" stroke-width="5.300000000000004"/>
<path d="M41.85 156.93A50.45 50.45 0 0 1 41.95 156.78" fill="none" stroke="#686464" stroke-width="5.300000000000004"/>
<path d="M41.95 156.78A50.45 50.45 0 0 1 42.18 156.43" fill="none" stroke="#000000" stroke-width="5.300000000000004"/>
<path d="M42.18 156.43A50.45 50.45 0 0 1 42.33 156.21" fill="none" stroke="#686464" stroke-width="5.300000000000004"/>
<path d="M42.33 156.21A50.45 50.45 0 0 1 42.52 155.93" fill="none" stroke="#000000" stroke-width="5.300000000000004"/>
<path d="M42.52 155.93A50.45 50.45 0 0 1 42.69 155.68" fill="none" stroke="#000000" stroke-width="5.300000000000004"/>
<path d="M42.69 155.68A50.45 50.45 0 0 1 42.87 155.42" fill="none" stroke="#F5E4E6" stroke-width="5.300000000000004"/>
<path d="M42.87 155.42A50.45 50.45 0 0 1 43.15 155.04" fill="none" stroke="#686464" stroke-width="5.300000000000004"/>
<path d="M36.89 160.19A53.10 53.10 0 0 1 40.99 153.49" fill="none" stroke="#333" stroke-width="0.45"/>
<path d="M41.60 162.62A47.80 47.80 0 0 1 45.30 156.59" fill="none" stroke="#333" stroke-width="0.45"/>
<line x1="41.60" y1="162.62" x2="36.89" y2="160.19" stroke="#555" stroke-width="0.35"/>
<line x1="45.30" y1="156.59" x2="40.99" y2="153.49" stroke="#555" stroke-width="0.35"/>
<path d="M34.76 159.09A55.50 55.50 0 0 1 39.05 152.09" fill="none" stroke="#1B9E77" stroke-width="0.5"/>
<text font-size="5.5" text-anchor="middle" fill="#000" stroke="#000" stroke-width="0.14" transform="translate(33.01 154.35) rotate(31.49)" y="1.95">18</text>
<path d="M43.66 154.34A50.45 50.45 0 0 1 47.29 150.01" fill="none" stroke="#F4ECEC" stroke-width="5.300000000000004"/>
<path d="M43.66 154.34A50.45 50.45 0 0 1 43.79 154.16" fill="none" stroke="#262424" stroke-width="5.300000000000004"/>
<path d="M43.79 154.16A50.45 50.45 0 0 1 43.92 153.99" fill="none" stroke="#262424" stroke-width="5.300000000000004"/>
<path d="M43.92 153.99A50.45 50.45 0 0 1 44.24 153.58" fill="none" stroke="#262424" stroke-width="5.300000000000004"/>
<path d="M44.24 153.58A50.45 50.45 0 0 1 44.53 153.20" fill="none" stroke="#A5A0A0" stroke-width="5.300000000000004"/>
<path d="M44.53 153.20A50.45 50.45 0 0 1 44.77 152.91" fill="none" stroke="#A5A0A0" stroke-width="5.300000000000004"/>
<path d="M44.77 152.91A50.45 50.45 0 0 1 45.15 152.43" fill="none" stroke="#FFFFFF" stroke-width="5.300000000000004"/>
<path d="M45.15 152.43A50.45 50.45 0 0 1 45.55 151.96" fill="none" stroke="#C25048" stroke-width="5.300000000000004"/>
<path d="M45.55 151.96A50.45 50.45 0 0 1 45.73 151.75" fill="none" stroke="#D5D0D0" stroke-width="5.300000000000004"/>
<path d="M45.73 151.75A50.45 50.45 0 0 1 46.13 151.28" fill="none" stroke="#686464" stroke-width="5.300000000000004"/>
<path d="M46.13 151.28A50.45 50.45 0 0 1 46.37 151.01" fill="none" stroke="#000000" stroke-width="5.300000000000004"/>
<path d="M46.37 151.01A50.45 50.45 0 0 1 46.56 150.79" fill="none" stroke="#686464" stroke-width="5.300000000000004"/>
<path d="M46.56 150.79A50.45 50.45 0 0 1 46.86 150.47" fill="none" stroke="#262424" stroke-width="5.300000000000004"/>
<path d="M46.86 150.47A50.45 50.45 0 0 1 47.23 150.07" fill="none" stroke="#262424" stroke-width="5.300000000000004"/>
<path d="M47.23 150.07A50.45 50.45 0 0 1 47.29 150.01" fill="none" stroke="#D5D0D0" stroke-width="5.300000000000004"/>
<path d="M41.53 152.76A53.10 53.10 0 0 1 45.35 148.19" fill="none" stroke="#333" stroke-width="0.45"/>
<path d="M45.78 155.93A47.80 47.80 0 0 1 49.22 151.82" fill="none" stroke="#333" stroke-width="0.45"/>
<line x1="45.78" y1="155.93" x2="41.53" y2="152.76" stroke="#555" stroke-width="0.35"/>
<line x1="49.22" y1="151.82" x2="45.35" y2="148.19" stroke="#555" stroke-width="0.35"/>
<path d="M39.61 151.32A55.50 55.50 0 0 1 43.60 146.55" fill="none" stroke="#4DAF4A" stroke-width="0.5"/>
<text font-size="5.5" text-anchor="middle" fill="#000" stroke="#000" stroke-width="0.14" transform="translate(38.20 147.41) rotate(39.92)" y="1.95">19</text>
<path d="M47.88 149.38A50.45 50.45 0 0 1 52.33 145.31" fill="none" stroke="#F4ECEC" stroke-width="5.300000000000004"/>
<path d="M47.88 149.38A50.45 50.45 0 0 1 48.05 149.20" fill="none" stroke="#000000" stroke-width="5.300000000000004"/>
<path d="M48.05 149.20A50.45 50.45 0 0 1 48.41 148.85" fill="none" stroke="#262424" stroke-width="5.300000000000004"/>
<path d="M48.41 148.85A50.45 50.45 0 0 1 48.59 148.66" fill="none" stroke="#A5A0A0" stroke-width="5.300000000000004"/>
<path d="M48.59 148.66A50.45 50.45 0 0 1 48.99 148.27" fill="none" stroke="#686464" stroke-width="5.300000000000004"/>
<path d="M48.99 148.27A50.45 50.45 0 0 1 49.16 148.11" fill="none" stroke="#686464" stroke-width="5.300000000000004"/>
<path d="M49.16 148.11A50.45 50.45 0 0 1 49.60 147.69" fill="none" stroke="#F5E4E6" stroke-width="5.300000000000004"/>
<path d="M49.60 147.69A50.45 50.45 0 0 1 49.80 147.51" fill="none" stroke="#C25048" stroke-width="5.300000000000004"/>
<path d="M49.80 147.51A50.45 50.45 0 0 1 50.18 147.15" fill="none" stroke="#000000" stroke-width="5.300000000000004"/>
<path d="M50.18 147.15A50.45 50.45 0 0 1 50.37 146.99" fill="none" stroke="#F5E4E6" stroke-width="5.300000000000004"/>
<path d="M50.37 146.99A50.45 50.45 0 0 1 50.59 146.79" fill="none" stroke="#D5D0D0" stroke-width="5.300000000000004"/>
<path d="M50.59 146.79A50.45 50.45 0 0 1 50.91 146.50" fill="none" stroke="#F5E4E6" stroke-width="5.300000000000004"/>
<path d="M50.91 146.50A50.45 50.45 0 0 1 51.16 146.28" fill="none" stroke="#F5E4E6" stroke-width="5.300000000000004"/>
<path d="M51.16 146.28A50.45 50.45 0 0 1 51.66 145.86" fill="none" stroke="#262424" stroke-width="5.300000000000004"/>
<path d="M51.66 145.86A50.45 50.45 0 0 1 51.84 145.72" fill="none" stroke="#000000" stroke-width="5.300000000000004"/>
<path d="M51.84 145.72A50.45 50.45 0 0 1 52.01 145.57" fill="none" stroke="#A5A0A0" stroke-width="5.300000000000004"/>
<path d="M52.01 145.57A50.45 50.45 0 0 1 52.33 145.31" fill="none" stroke="#000000" stroke-width="5.300000000000004"/>
<path d="M45.98 147.54A53.10 53.10 0 0 1 50.66 143.25" fill="none" stroke="#333" stroke-width="0.45"/>
<path d="M49.78 151.23A47.80 47.80 0 0 1 54.00 147.37" fill="none" stroke="#333" stroke-width="0.45"/>
<line x1="49.78" y1="151.23" x2="45.98" y2="147.54" stroke="#555" stroke-width="0.35"/>
<line x1="54.00" y1="147.37" x2="50.66" y2="143.25" stroke="#555" stroke-width="0.35"/>
<path d="M44.25 145.87A55.50 55.50 0 0 1 49.15 141.39" fill="none" stroke="#66A61E" stroke-width="0.5"/>
<text font-size="5.5" text-anchor="middle" fill="#000" stroke="#000" stroke-width="0.14" transform="translate(43.76 141.84) rotate(47.54)" y="1.95">20</text>
<path d="M53.00 144.77A50.45 50.45 0 0 1 56.75 142.10" fill="none" stroke="#F4ECEC" stroke-width="5.300000000000004"/>
<path d="M53.00 144.77A50.45 50.45 0 0 1 53.43 144.45" fill="none" stroke="#A5A0A0" stroke-width="5.300000000000004"/>
<path d="M53.43 144.45A50.45 50.45 0 0 1 53.64 144.28" fill="none" stroke="#262424" stroke-width="5.300000000000004"/>
<path d="M53.64 144.28A50.45 50.45 0 0 1 53.82 144.15" fill="none" stroke="#F5E4E6" stroke-width="5.300000000000004"/>
<path d="M53.82 144.15A50.45 50.45 0 0 1 54.11 143.93" fill="none" stroke="#C25048" stroke-width="5.300000000000004"/>
<path d="M54.11 143.93A50.45 50.45 0 0 1 54.41 143.71" fill="none" stroke="#262424" stroke-width="5.300000000000004"/>
<path d="M54.41 143.71A50.45 50.45 0 0 1 54.83 143.41" fill="none" stroke="#686464" stroke-width="5.300000000000004"/>
<path d="M54.83 143.41A50.45 50.45 0 0 1 55.23 143.13" fill="none" stroke="#686464" stroke-width="5.300000000000004"/>
<path d="M55.23 143.13A50.45 50.45 0 0 1 55.43 142.99" fill="none" stroke="#262424" stroke-width="5.300000000000004"/>
<path d="M55.43 142.99A50.45 50.45 0 0 1 55.74 142.78" fill="none" stroke="#262424" stroke-width="5.300000000000004"/>
<path d="M55.74 142.78A50.45 50.45 0 0 1 56.26 142.43" fill="none" stroke="#A5A0A0" stroke-width="5.300000000000004"/>
<path d="M56.26 142.43A50.45 50.45 0 0 1 56.64 142.18" fill="none" stroke="#262424" stroke-width="5.300000000000004"/>
<path d="M56.64 142.18A50.45 50.45 0 0 1 56.75 142.10" fill="none" stroke="#F5E4E6" stroke-width="5.300000000000004"/>
<path d="M51.37 142.69A53.10 53.10 0 0 1 55.32 139.88" fill="none" stroke="#333" stroke-width="0.45"/>
<path d="M54.64 146.86A47.80 47.80 0 0 1 58.19 144.33" fill="none" stroke="#333" stroke-width="0.45"/>
<line x1="54.64" y1="146.86" x2="51.37" y2="142.69" stroke="#555" stroke-width="0.35"/>
<line x1="58.19" y1="144.33" x2="55.32" y2="139.88" stroke="#555" stroke-width="0.35"/>
<path d="M49.89 140.80A55.50 55.50 0 0 1 54.02 137.86" fill="none" stroke="#377EB8" stroke-width="0.5"/>
<text font-size="5.5" text-anchor="middle" fill="#000" stroke="#000" stroke-width="0.14" transform="translate(49.52 137.36) rotate(54.56)" y="1.95">21</text>
<path d="M57.48 141.64A50.45 50.45 0 0 1 61.77 139.26" fill="none" stroke="#F4ECEC" stroke-width="5.300000000000004"/>
<path d="M57.48 141.64A50.45 50.45 0 0 1 57.94 141.37" fill="none" stroke="#000000" stroke-width="5.300000000000004"/>
<path d="M57.94 141.37A50.45 50.45 0 0 1 58.41 141.08" fill="none" stroke="#262424" stroke-width="5.300000000000004"/>
<path d="M58.41 141.08A50.45 50.45 0 0 1 58.93 140.78" fill="none" stroke="#C25048" stroke-width="5.300000000000004"/>
<path d="M58.93 140.78A50.45 50.45 0 0 1 59.36 140.53" fill="none" stroke="#686464" stroke-width="5.300000000000004"/>
<path d="M59.36 140.53A50.45 50.45 0 0 1 59.64 140.37" fill="none" stroke="#262424" stroke-width="5.300000000000004"/>
<path d="M59.64 140.37A50.45 50.45 0 0 1 59.84 140.27" fill="none" stroke="#A5A0A0" stroke-width="5.300000000000004"/>
<path d="M59.84 140.27A50.45 50.45 0 0 1 60.33 140.00" fill="none" stroke="#262424" stroke-width="5.300000000000004"/>
<path d="M60.33 140.00A50.45 50.45 0 0 1 60.76 139.77" fill="none" stroke="#D5D0D0" stroke-width="5.300000000000004"/>
<path d="M60.76 139.77A50.45 50.45 0 0 1 61.10 139.60" fill="none" stroke="#686464" stroke-width="5.300000000000004"/>
<path d="M61.10 139.60A50.45 50.45 0 0 1 61.53 139.38" fill="none" stroke="#A5A0A0" stroke-width="5.300000000000004"/>
<path d="M61.53 139.38A50.45 50.45 0 0 1 61.77 139.26" fill="none" stroke="#000000" stroke-width="5.300000000000004"/>
<path d="M56.08 139.39A53.10 53.10 0 0 1 60.60 136.88" fill="none" stroke="#333" stroke-width="0.45"/>
<path d="M58.88 143.89A47.80 47.80 0 0 1 62.95 141.64" fill="none" stroke="#333" stroke-width="0.45"/>
<line x1="58.88" y1="143.89" x2="56.08" y2="139.39" stroke="#555" stroke-width="0.35"/>
<line x1="62.95" y1="141.64" x2="60.60" y2="136.88" stroke="#555" stroke-width="0.35"/>
<path d="M54.82 137.35A55.50 55.50 0 0 1 59.54 134.73" fill="none" stroke="#A6761D" stroke-width="0.5"/>
<text font-size="5.5" text-anchor="middle" fill="#000" stroke="#000" stroke-width="0.14" transform="translate(55.22 133.91) rotate(60.94)" y="1.95">22</text>
<path d="M62.55 138.89A50.45 50.45 0 0 1 76.72 134.59" fill="none" stroke="#F4ECEC" stroke-width="5.300000000000004"/>
<path d="M62.55 138.89A50.45 50.45 0 0 1 62.79 138.77" fill="none" stroke="#262424" stroke-width="5.300000000000004"/>
<path d="M62.79 138.77A50.45 50.45 0 0 1 63.30 138.54" fill="none" stroke="#A5A0A0" stroke-width="5.300000000000004"/>
<path d="M63.30 138.54A50.45 50.45 0 0 1 63.67 138.37" fill="none" stroke="#000000" stroke-width="5.300000000000004"/>
<path d="M63.67 138.37A50.45 50.45 0 0 1 63.85 138.29" fill="none" stroke="#686464" stroke-width="5.300000000000004"/>
<path d="M63.85 138.29A50.45 50.45 0 0 1 64.08 138.19" fill="none" stroke="#262424" stroke-width="5.300000000000004"/>
<path d="M64.08 138.19A50.45 50.45 0 0 1 64.67 137.94" fill="none" stroke="#686464" stroke-width="5.300000000000004"/>
<path d="M64.67 137.94A50.45 50.45 0 0 1 64.88 137.86" fill="none" stroke="#686464" stroke-width="5.300000000000004"/>
<path d="M64.88 137.86A50.45 50.45 0 0 1 65.29 137.69" fill="none" stroke="#262424" stroke-width="5.300000000000004"/>
<path d="M65.29 137.69A50.45 50.45 0 0 1 65.68 137.53" fill="none" stroke="#262424" stroke-width="5.300000000000004"/>
<path d="M65.68 137.53A50.45 50.45 0 0 1 66.23 137.32" fill="none" stroke="#686464" stroke-width="5.300000000000004"/>
<path d="M66.23 137.32A50.45 50.45 0 0 1 66.58 137.19" fill="none" stroke="#000000" stroke-width="5.300000000000004"/>
<path d="M66.58 137.19A50.45 50.45 0 0 1 66.84 137.09" fill="none" stroke="#262424" stroke-width="5.300000000000004"/>
<path d="M66.84 137.09A50.45 50.45 0 0 1 67.19 136.97" fill="none" stroke="#262424" stroke-width="5.300000000000004"/>
<path d="M67.19 136.97A50.45 50.45 0 0 1 67.41 136.89" fill="none" stroke="#000000" stroke-width="5.300000000000004"/>
<path d="M67.41 136.89A50.45 50.45 0 0 1 67.74 136.78" fill="none" stroke="#FFFFFF" stroke-width="5.300000000000004"/>
<path d="M67.74 136.78A50.45 50.45 0 0 1 68.03 136.68" fill="none" stroke="#C25048" stroke-width="5.300000000000004"/>
<path d="M68.03 136.68A50.45 50.45 0 0 1 68.20 136.62" fill="none" stroke="#A5A0A0" stroke-width="5.300000000000004"/>
<path d="M68.20 136.62A50.45 50.45 0 0 1 68.56 136.50" fill="none" stroke="#262424" stroke-width="5.300000000000004"/>
<path d="M68.56 136.50A50.45 50.45 0 0 1 68.89 136.40" fill="none" stroke="#D5D0D0" stroke-width="5.300000000000004"/>
<path d="M68.89 136.40A50.45 50.45 0 0 1 69.16 136.31" fill="none" stroke="#262424" stroke-width="5.300000000000004"/>
<path d="M69.16 136.31A50.45 50.45 0 0 1 69.78 136.13" fill="none" stroke="#686464" stroke-width="5.300000000000004"/>
<path d="M69.78 136.13A50.45 50.45 0 0 1 70.05 136.05" fill="none" stroke="#000000" stroke-width="5.300000000000004"/>
<path d="M70.05 136.05A50.45 50.45 0 0 1 70.40 135.95" fill="none" stroke="#F5E4E6" stroke-width="5.300000000000004"/>
<path d="M70.40 135.95A50.45 50.45 0 0 1 70.63 135.88" fill="none" stroke="#262424" stroke-width="5.300000000000004"/>
<path d="M70.63 135.88A50.45 50.45 0 0 1 71.18 135.73" fill="none" stroke="#262424" stroke-width="5.300000000000004"/>
<path d="M71.18 135.73A50.45 50.45 0 0 1 71.57 135.63" fill="none" stroke="#686464" stroke-width="5.300000000000004"/>
<path d="M71.57 135.63A50.45 50.45 0 0 1 71.85 135.56" fill="none" stroke="#000000" stroke-width="5.300000000000004"/>
<path d="M71.85 135.56A50.45 50.45 0 0 1 72.19 135.48" fill="none" stroke="#262424" stroke-width="5.300000000000004"/>
<path d="M72.19 135.48A50.45 50.45 0 0 1 72.75 135.34" fill="none" stroke="#000000" stroke-width="5.300000000000004"/>
<path d="M72.75 135.34A50.45 50.45 0 0 1 73.15 135.25" fill="none" stroke="#D5D0D0" stroke-width="5.300000000000004"/>
<path d="M73.15 135.25A50.45 50.45 0 0 1 73.58 135.16" fill="none" stroke="#F5E4E6" stroke-width="5.300000000000004"/>
<path d="M73.58 135.16A50.45 50.45 0 0 1 74.16 135.04" fill="none" stroke="#A5A0A0" stroke-width="5.300000000000004"/>
<path d="M74.16 135.04A50.45 50.45 0 0 1 74.74 134.93" fill="none" stroke="#D5D0D0" stroke-width="5.300000000000004"/>
<path d="M74.74 134.93A50.45 50.45 0 0 1 75.10 134.86" fill="none" stroke="#D5D0D0" stroke-width="5.300000000000004"/>
<path d="M75.10 134.86A50.45 50.45 0 0 1 75.48 134.79" fill="none" stroke="#F5E4E6" stroke-width="5.300000000000004"/>
<path d="M75.48 134.79A50.45 50.45 0 0 1 75.65 134.76" fill="none" stroke="#262424" stroke-width="5.300000000000004"/>
<path d="M75.65 134.76A50.45 50.45 0 0 1 75.95 134.71" fill="none" stroke="#D5D0D0" stroke-width="5.300000000000004"/>
<path d="M75.95 134.71A50.45 50.45 0 0 1 76.27 134.66" fill="none" stroke="#686464" stroke-width="5.300000000000004"/>
<path d="M76.27 134.66A50.45 50.45 0 0 1 76.65 134.60" fill="none" stroke="#262424" stroke-width="5.300000000000004"/>
<path d="M76.65 134.60A50.45 50.45 0 0 1 76.72 134.59" fill="none" stroke="#A5A0A0" stroke-width="5.300000000000004"/>
<path d="M61.42 136.49A53.10 53.10 0 0 1 76.33 131.97" fill="none" stroke="#333" stroke-width="0.45"/>
<path d="M63.68 141.28A47.80 47.80 0 0 1 77.11 137.21" fill="none" stroke="#333" stroke-width="0.45"/>
<line x1="63.68" y1="141.28" x2="61.42" y2="136.49" stroke="#555" stroke-width="0.35"/>
<line x1="77.11" y1="137.21" x2="76.33" y2="131.97" stroke="#555" stroke-width="0.35"/>
<path d="M60.39 134.32A55.50 55.50 0 0 1 75.98 129.60" fill="none" stroke="#E41A1C" stroke-width="0.5"/>
<text font-size="5.5" text-anchor="middle" fill="#000" stroke="#000" stroke-width="0.14" transform="translate(65.90 129.44) rotate(72.00)" y="1.95">X</text>
<path d="M77.57 134.47A50.45 50.45 0 0 1 83.24 134.06" fill="none" stroke="#F4ECEC" stroke-width="5.300000000000004"/>
<path d="M77.57 134.47A50.45 50.45 0 0 1 78.20 134.40" fill="none" stroke="#000000" stroke-width="5.300000000000004"/>
<path d="M78.20 134.40A50.45 50.45 0 0 1 78.40 134.37" fill="none" stroke="#000000" stroke-width="5.300000000000004"/>
<path d="M78.40 134.37A50.45 50.45 0 0 1 79.02 134.31" fill="none" stroke="#C25048" stroke-width="5.300000000000004"/>
<path d="M79.02 134.31A50.45 50.45 0 0 1 79.26 134.28" fill="none" stroke="#000000" stroke-width="5.300000000000004"/>
<path d="M79.26 134.28A50.45 50.45 0 0 1 79.75 134.24" fill="none" stroke="#FFFFFF" stroke-width="5.300000000000004"/>
<path d="M79.75 134.24A50.45 50.45 0 0 1 79.93 134.22" fill="none" stroke="#000000" stroke-width="5.300000000000004"/>
<path d="M79.93 134.22A50.45 50.45 0 0 1 80.42 134.18" fill="none" stroke="#D5D0D0" stroke-width="5.300000000000004"/>
<path d="M80.42 134.18A50.45 50.45 0 0 1 80.65 134.17" fill="none" stroke="#F5E4E6" stroke-width="5.300000000000004"/>
<path d="M80.65 134.17A50.45 50.45 0 0 1 80.93 134.15" fill="none" stroke="#262424" stroke-width="5.300000000000004"/>
<path d="M80.93 134.15A50.45 50.45 0 0 1 81.28 134.13" fill="none" stroke="#F5E4E6" stroke-width="5.300000000000004"/>
<path d="M81.28 134.13A50.45 50.45 0 0 1 81.90 134.10" fill="none" stroke="#262424" stroke-width="5.300000000000004"/>
<path d="M81.90 134.10A50.45 50.45 0 0 1 82.16 134.09" fill="none" stroke="#000000" stroke-width="5.300000000000004"/>
<path d="M82.16 134.09A50.45 50.45 0 0 1 82.63 134.07" fill="none" stroke="#262424" stroke-width="5.300000000000004"/>
<path d="M82.63 134.07A50.45 50.45 0 0 1 83.13 134.06" fill="none" stroke="#000000" stroke-width="5.300000000000004"/>
<path d="M83.13 134.06A50.45 50.45 0 0 1 83.24 134.06" fill="none" stroke="#000000" stroke-width="5.300000000000004"/>
<path d="M77.23 131.85A53.10 53.10 0 0 1 83.19 131.41" fill="none" stroke="#333" stroke-width="0.45"/>
<path d="M77.92 137.10A47.80 47.80 0 0 1 83.28 136.71" fill="none" stroke="#333" stroke-width="0.45"/>
<line x1="77.92" y1="137.10" x2="77.23" y2="131.85" stroke="#555" stroke-width="0.35"/>
<line x1="83.28" y1="136.71" x2="83.19" y2="131.41" stroke="#555" stroke-width="0.35"/>
<path d="M76.92 129.47A55.50 55.50 0 0 1 83.15 129.01" fill="none" stroke="#E41A1C" stroke-width="0.5"/>
<text font-size="5.5" text-anchor="middle" fill="#000" stroke="#000" stroke-width="0.14" transform="translate(78.91 126.86) rotate(84.60)" y="1.95">Y</text>
<polyline points="88.22,138.18 88.09,139.68 87.82,142.67" fill="none" stroke="#000" stroke-width="0.45"/>
<text font-size="3.9" text-anchor="end" fill="#000" stroke="#000" stroke-width="0.2" transform="translate(87.76 143.36) rotate(-84.91)" y="1.4">NSUN4</text>
<polyline points="107.94,144.58 107.17,145.87 105.63,148.44" fill="none" stroke="#000" stroke-width="0.45"/>
<text font-size="3.9" text-anchor="end" fill="#000" stroke="#000" stroke-width="0.2" transform="translate(105.28 149.04) rotate(-59.15)" y="1.4">DNMT3A</text>
<polyline points="126.48,165.35 125.11,165.97 122.37,167.21" fill="none" stroke="#000" stroke-width="0.45"/>
<text font-size="3.9" text-anchor="end" fill="#000" stroke="#000" stroke-width="0.2" transform="translate(121.74 167.50) rotate(-24.31)" y="1.4">NSUN3</text>
<polyline points="130.19,178.37 128.71,178.57 125.79,179.38" fill="none" stroke="#000" stroke-width="0.45"/>
<text font-size="3.9" text-anchor="end" fill="#000" stroke="#000" stroke-width="0.2" transform="translate(125.09 179.47) rotate(0.00)" y="1.4">NSUN7</text>
<polyline points="130.60,184.12 129.10,184.13 126.10,184.21" fill="none" stroke="#000" stroke-width="0.45"/>
<text font-size="3.9" text-anchor="end" fill="#000" stroke="#000" stroke-width="0.2" transform="translate(125.40 184.21) rotate(0.00)" y="1.4">TET2</text>
<polyline points="129.83,192.95 128.35,192.68 125.40,192.13" fill="none" stroke="#000" stroke-width="0.45"/>
<text font-size="3.9" text-anchor="end" fill="#000" stroke="#000" stroke-width="0.2" transform="translate(124.71 192.00) rotate(10.47)" y="1.4">NSUN2</text>
<polyline points="108.82,223.88 108.03,222.61 106.43,220.07" fill="none" stroke="#000" stroke-width="0.45"/>
<text font-size="3.9" text-anchor="end" fill="#000" stroke="#000" stroke-width="0.2" transform="translate(106.06 219.48) rotate(57.88)" y="1.4">NSUN5</text>
<polyline points="73.37,229.74 73.72,228.29 74.94,225.49" fill="none" stroke="#000" stroke-width="0.45"/>
<text font-size="3.9" text-anchor="start" fill="#000" stroke="#000" stroke-width="0.2" transform="translate(75.09 224.81) rotate(-66.00)" y="1.4">TRDMT1</text>
<polyline points="73.23,229.71 73.58,228.25 69.60,223.92" fill="none" stroke="#000" stroke-width="0.45"/>
<text font-size="3.9" text-anchor="start" fill="#000" stroke="#000" stroke-width="0.2" transform="translate(69.84 223.26) rotate(-76.00)" y="1.4">NSUN6</text>
<polyline points="52.05,218.19 53.09,217.11 55.16,214.93" fill="none" stroke="#000" stroke-width="0.45"/>
<text font-size="3.9" text-anchor="start" fill="#000" stroke="#000" stroke-width="0.2" transform="translate(55.64 214.43) rotate(-46.44)" y="1.4">NOP2</text>
<polyline points="42.35,164.03 43.69,164.69 46.39,166.01" fill="none" stroke="#000" stroke-width="0.45"/>
<text font-size="3.9" text-anchor="start" fill="#000" stroke="#000" stroke-width="0.2" transform="translate(47.02 166.32) rotate(26.11)" y="1.4">ALYREF</text>
<polyline points="47.37,155.99 48.55,156.90 50.92,158.74" fill="none" stroke="#000" stroke-width="0.45"/>
<text font-size="3.9" text-anchor="start" fill="#000" stroke="#000" stroke-width="0.2" transform="translate(51.48 159.17) rotate(37.82)" y="1.4">DNMT1</text>
<polyline points="52.70,150.20 53.71,151.31 54.40,154.80" fill="none" stroke="#000" stroke-width="0.45"/>
<text font-size="3.9" text-anchor="start" fill="#000" stroke="#000" stroke-width="0.2" transform="translate(54.90 155.30) rotate(45.00)" y="1.4">DNMT3B</text>
</g>
<g id="panelD">
<rect x="172.00" y="123.00" width="129.00" height="107.60" fill="#EBEBEB"/>
<line x1="184.62" y1="123.00" x2="184.62" y2="230.60" stroke="#F5F5F5" stroke-width="0.3"/>
<line x1="220.38" y1="123.00" x2="220.38" y2="230.60" stroke="#F5F5F5" stroke-width="0.3"/>
<line x1="256.12" y1="123.00" x2="256.12" y2="230.60" stroke="#F5F5F5" stroke-width="0.3"/>
<line x1="291.88" y1="123.00" x2="291.88" y2="230.60" stroke="#F5F5F5" stroke-width="0.3"/>
<line x1="172.00" y1="131.35" x2="301.00" y2="131.35" stroke="#F5F5F5" stroke-width="0.3"/>
<line x1="172.00" y1="154.25" x2="301.00" y2="154.25" stroke="#F5F5F5" stroke-width="0.3"/>
<line x1="172.00" y1="177.15" x2="301.00" y2="177.15" stroke="#F5F5F5" stroke-width="0.3"/>
<line x1="172.00" y1="200.05" x2="301.00" y2="200.05" stroke="#F5F5F5" stroke-width="0.3"/>
<line x1="172.00" y1="222.95" x2="301.00" y2="222.95" stroke="#F5F5F5" stroke-width="0.3"/>
<line x1="202.50" y1="123.00" x2="202.50" y2="230.60" stroke="#FFFFFF" stroke-width="0.55"/>
<line x1="202.50" y1="230.60" x2="202.50" y2="231.80" stroke="#333" stroke-width="0.4"/>
<text x="202.50" y="237.00" font-size="4.9" text-anchor="middle" fill="#303030" stroke="#303030" stroke-width="0.14">0</text>
<line x1="238.25" y1="123.00" x2="238.25" y2="230.60" stroke="#FFFFFF" stroke-width="0.55"/>
<line x1="238.25" y1="230.60" x2="238.25" y2="231.80" stroke="#333" stroke-width="0.4"/>
<text x="238.25" y="237.00" font-size="4.9" text-anchor="middle" fill="#303030" stroke="#303030" stroke-width="0.14">5</text>
<line x1="274.00" y1="123.00" x2="274.00" y2="230.60" stroke="#FFFFFF" stroke-width="0.55"/>
<line x1="274.00" y1="230.60" x2="274.00" y2="231.80" stroke="#333" stroke-width="0.4"/>
<text x="274.00" y="237.00" font-size="4.9" text-anchor="middle" fill="#303030" stroke="#303030" stroke-width="0.14">10</text>
<line x1="172.00" y1="142.80" x2="301.00" y2="142.80" stroke="#FFFFFF" stroke-width="0.55"/>
<line x1="170.80" y1="142.80" x2="172.00" y2="142.80" stroke="#333" stroke-width="0.4"/>
<text x="169.40" y="144.50" font-size="4.9" text-anchor="end" fill="#303030" stroke="#303030" stroke-width="0.14">2.5</text>
<line x1="172.00" y1="165.70" x2="301.00" y2="165.70" stroke="#FFFFFF" stroke-width="0.55"/>
<line x1="170.80" y1="165.70" x2="172.00" y2="165.70" stroke="#333" stroke-width="0.4"/>
<text x="169.40" y="167.40" font-size="4.9" text-anchor="end" fill="#303030" stroke="#303030" stroke-width="0.14">0.0</text>
<line x1="172.00" y1="188.60" x2="301.00" y2="188.60" stroke="#FFFFFF" stroke-width="0.55"/>
<line x1="170.80" y1="188.60" x2="172.00" y2="188.60" stroke="#333" stroke-width="0.4"/>
<text x="169.40" y="190.30" font-size="4.9" text-anchor="end" fill="#303030" stroke="#303030" stroke-width="0.14">−2.5</text>
<line x1="172.00" y1="211.50" x2="301.00" y2="211.50" stroke="#FFFFFF" stroke-width="0.55"/>
<line x1="170.80" y1="211.50" x2="172.00" y2="211.50" stroke="#333" stroke-width="0.4"/>
<text x="169.40" y="213.20" font-size="4.9" text-anchor="end" fill="#303030" stroke="#303030" stroke-width="0.14">−5.0</text>
<text x="238.00" y="244.00" font-size="4.8" text-anchor="middle" fill="#000" stroke="#000" stroke-width="0.14">PC1</text>
<text x="160.20" y="170.50" font-size="4.8" text-anchor="middle" fill="#000" stroke="#000" stroke-width="0.14" transform="rotate(-90.00 160.20 170.50)">PC2</text>
<circle cx="186.77" cy="168.20" r="1.05" fill="#16B4B4"/>
<circle cx="205.86" cy="160.18" r="1.05" fill="#16B4B4"/>
<circle cx="201.41" cy="174.68" r="1.05" fill="#16B4B4"/>
<circle cx="203.37" cy="169.07" r="1.05" fill="#16B4B4"/>
<circle cx="210.49" cy="173.64" r="1.05" fill="#16B4B4"/>
<circle cx="196.42" cy="162.33" r="1.05" fill="#16B4B4"/>
<circle cx="219.41" cy="162.20" r="1.05" fill="#16B4B4"/>
<circle cx="193.54" cy="161.30" r="1.05" fill="#16B4B4"/>
<circle cx="207.80" cy="165.84" r="1.05" fill="#16B4B4"/>
<circle cx="202.50" cy="166.94" r="1.05" fill="#16B4B4"/>
<circle cx="197.41" cy="167.02" r="1.05" fill="#16B4B4"/>
<circle cx="188.27" cy="166.98" r="1.05" fill="#16B4B4"/>
<circle cx="203.01" cy="155.69" r="1.05" fill="#16B4B4"/>
<circle cx="192.33" cy="156.32" r="1.05" fill="#16B4B4"/>
<circle cx="192.03" cy="195.63" r="1.05" fill="#16B4B4"/>
<circle cx="204.54" cy="152.89" r="1.05" fill="#16B4B4"/>
<circle cx="194.82" cy="170.76" r="1.05" fill="#16B4B4"/>
<circle cx="196.50" cy="168.13" r="1.05" fill="#16B4B4"/>
<circle cx="198.19" cy="155.74" r="1.05" fill="#16B4B4"/>
<circle cx="202.15" cy="157.49" r="1.05" fill="#16B4B4"/>
<circle cx="213.40" cy="160.25" r="1.05" fill="#16B4B4"/>
<circle cx="203.20" cy="164.82" r="1.05" fill="#16B4B4"/>
<circle cx="205.49" cy="159.38" r="1.05" fill="#16B4B4"/>
<circle cx="205.89" cy="163.68" r="1.05" fill="#16B4B4"/>
<circle cx="208.16" cy="170.42" r="1.05" fill="#16B4B4"/>
<circle cx="198.52" cy="157.78" r="1.05" fill="#16B4B4"/>
<circle cx="203.90" cy="169.01" r="1.05" fill="#16B4B4"/>
<circle cx="211.42" cy="161.41" r="1.05" fill="#16B4B4"/>
<circle cx="202.07" cy="169.37" r="1.05" fill="#16B4B4"/>
<circle cx="199.73" cy="166.68" r="1.05" fill="#16B4B4"/>
<circle cx="198.87" cy="159.41" r="1.05" fill="#16B4B4"/>
<circle cx="202.38" cy="178.40" r="1.05" fill="#16B4B4"/>
<circle cx="205.70" cy="174.28" r="1.05" fill="#16B4B4"/>
<circle cx="203.98" cy="171.09" r="1.05" fill="#16B4B4"/>
<circle cx="198.88" cy="171.74" r="1.05" fill="#16B4B4"/>
<circle cx="212.55" cy="161.85" r="1.05" fill="#16B4B4"/>
<circle cx="184.01" cy="175.69" r="1.05" fill="#16B4B4"/>
<circle cx="194.81" cy="161.58" r="1.05" fill="#16B4B4"/>
<circle cx="203.24" cy="164.38" r="1.05" fill="#16B4B4"/>
<circle cx="196.53" cy="180.27" r="1.05" fill="#16B4B4"/>
<circle cx="193.87" cy="171.44" r="1.05" fill="#16B4B4"/>
<circle cx="200.65" cy="166.54" r="1.05" fill="#16B4B4"/>
<circle cx="191.73" cy="161.46" r="1.05" fill="#16B4B4"/>
<circle cx="190.63" cy="159.64" r="1.05" fill="#16B4B4"/>
<circle cx="200.95" cy="160.55" r="1.05" fill="#16B4B4"/>
<circle cx="207.95" cy="181.02" r="1.05" fill="#16B4B4"/>
<circle cx="197.32" cy="170.64" r="1.05" fill="#16B4B4"/>
<circle cx="204.24" cy="185.61" r="1.05" fill="#16B4B4"/>
<circle cx="190.14" cy="159.10" r="1.05" fill="#16B4B4"/>
<circle cx="199.22" cy="166.34" r="1.05" fill="#16B4B4"/>
<circle cx="203.47" cy="163.26" r="1.05" fill="#16B4B4"/>
<circle cx="195.43" cy="158.14" r="1.05" fill="#16B4B4"/>
<circle cx="202.48" cy="153.95" r="1.05" fill="#16B4B4"/>
<circle cx="195.86" cy="170.18" r="1.05" fill="#16B4B4"/>
<circle cx="196.70" cy="161.46" r="1.05" fill="#16B4B4"/>
<circle cx="198.79" cy="176.22" r="1.05" fill="#16B4B4"/>
<circle cx="204.42" cy="154.86" r="1.05" fill="#16B4B4"/>
<circle cx="204.07" cy="165.54" r="1.05" fill="#16B4B4"/>
<circle cx="194.44" cy="165.86" r="1.05" fill="#16B4B4"/>
<circle cx="200.99" cy="172.52" r="1.05" fill="#16B4B4"/>
<circle cx="193.19" cy="162.71" r="1.05" fill="#16B4B4"/>
<circle cx="185.57" cy="179.23" r="1.05" fill="#16B4B4"/>
<circle cx="209.79" cy="163.19" r="1.05" fill="#16B4B4"/>
<circle cx="193.19" cy="153.68" r="1.05" fill="#16B4B4"/>
<circle cx="198.76" cy="166.66" r="1.05" fill="#16B4B4"/>
<circle cx="216.06" cy="167.02" r="1.05" fill="#16B4B4"/>
<circle cx="199.03" cy="164.37" r="1.05" fill="#16B4B4"/>
<circle cx="196.38" cy="156.97" r="1.05" fill="#16B4B4"/>
<circle cx="200.70" cy="164.79" r="1.05" fill="#16B4B4"/>
<circle cx="208.68" cy="156.17" r="1.05" fill="#16B4B4"/>
<circle cx="204.19" cy="160.53" r="1.05" fill="#16B4B4"/>
<circle cx="203.46" cy="158.03" r="1.05" fill="#16B4B4"/>
<circle cx="191.33" cy="158.55" r="1.05" fill="#16B4B4"/>
<circle cx="208.06" cy="171.01" r="1.05" fill="#16B4B4"/>
<circle cx="214.99" cy="164.02" r="1.05" fill="#16B4B4"/>
<circle cx="196.14" cy="155.96" r="1.05" fill="#16B4B4"/>
<circle cx="196.24" cy="152.98" r="1.05" fill="#16B4B4"/>
<circle cx="209.68" cy="172.33" r="1.05" fill="#16B4B4"/>
<circle cx="208.76" cy="167.07" r="1.05" fill="#16B4B4"/>
<circle cx="191.12" cy="165.58" r="1.05" fill="#16B4B4"/>
<circle cx="194.08" cy="154.80" r="1.05" fill="#16B4B4"/>
<circle cx="197.25" cy="166.16" r="1.05" fill="#16B4B4"/>
<circle cx="193.22" cy="177.66" r="1.05" fill="#16B4B4"/>
<circle cx="198.84" cy="170.05" r="1.05" fill="#16B4B4"/>
<circle cx="207.78" cy="157.42" r="1.05" fill="#16B4B4"/>
<circle cx="191.38" cy="176.60" r="1.05" fill="#16B4B4"/>
<circle cx="200.20" cy="173.86" r="1.05" fill="#16B4B4"/>
<circle cx="203.87" cy="146.07" r="1.05" fill="#16B4B4"/>
<circle cx="188.79" cy="172.71" r="1.05" fill="#16B4B4"/>
<circle cx="195.41" cy="169.25" r="1.05" fill="#16B4B4"/>
<circle cx="205.18" cy="153.26" r="1.05" fill="#16B4B4"/>
<circle cx="203.88" cy="162.56" r="1.05" fill="#16B4B4"/>
<circle cx="201.88" cy="173.41" r="1.05" fill="#16B4B4"/>
<circle cx="196.36" cy="170.97" r="1.05" fill="#16B4B4"/>
<circle cx="186.96" cy="171.29" r="1.05" fill="#16B4B4"/>
<circle cx="189.82" cy="165.10" r="1.05" fill="#16B4B4"/>
<circle cx="199.24" cy="165.83" r="1.05" fill="#16B4B4"/>
<circle cx="199.05" cy="162.92" r="1.05" fill="#16B4B4"/>
<circle cx="194.43" cy="153.49" r="1.05" fill="#16B4B4"/>
<circle cx="191.78" cy="179.65" r="1.05" fill="#16B4B4"/>
<circle cx="201.91" cy="165.38" r="1.05" fill="#16B4B4"/>
<circle cx="195.45" cy="165.36" r="1.05" fill="#16B4B4"/>
<circle cx="200.34" cy="158.99" r="1.05" fill="#16B4B4"/>
<circle cx="198.99" cy="166.96" r="1.05" fill="#16B4B4"/>
<circle cx="190.86" cy="157.70" r="1.05" fill="#16B4B4"/>
<circle cx="200.36" cy="174.51" r="1.05" fill="#16B4B4"/>
<circle cx="197.85" cy="165.99" r="1.05" fill="#16B4B4"/>
<circle cx="200.26" cy="171.28" r="1.05" fill="#16B4B4"/>
<circle cx="189.78" cy="176.27" r="1.05" fill="#16B4B4"/>
<circle cx="197.64" cy="155.81" r="1.05" fill="#16B4B4"/>
<circle cx="209.85" cy="158.88" r="1.05" fill="#16B4B4"/>
<circle cx="203.78" cy="172.01" r="1.05" fill="#16B4B4"/>
<circle cx="189.32" cy="172.96" r="1.05" fill="#16B4B4"/>
<circle cx="208.45" cy="153.75" r="1.05" fill="#16B4B4"/>
<circle cx="206.32" cy="161.35" r="1.05" fill="#16B4B4"/>
<circle cx="193.92" cy="159.84" r="1.05" fill="#16B4B4"/>
<circle cx="201.52" cy="183.60" r="1.05" fill="#16B4B4"/>
<circle cx="207.86" cy="163.22" r="1.05" fill="#16B4B4"/>
<circle cx="199.22" cy="157.15" r="1.05" fill="#16B4B4"/>
<circle cx="211.59" cy="155.31" r="1.05" fill="#16B4B4"/>
<circle cx="195.23" cy="167.85" r="1.05" fill="#16B4B4"/>
<circle cx="187.17" cy="168.93" r="1.05" fill="#16B4B4"/>
<circle cx="198.44" cy="154.46" r="1.05" fill="#16B4B4"/>
<circle cx="212.70" cy="167.71" r="1.05" fill="#16B4B4"/>
<circle cx="211.49" cy="171.12" r="1.05" fill="#16B4B4"/>
<circle cx="200.92" cy="171.99" r="1.05" fill="#16B4B4"/>
<circle cx="198.42" cy="159.99" r="1.05" fill="#16B4B4"/>
<circle cx="203.46" cy="173.52" r="1.05" fill="#16B4B4"/>
<circle cx="202.52" cy="168.08" r="1.05" fill="#16B4B4"/>
<circle cx="190.28" cy="163.56" r="1.05" fill="#16B4B4"/>
<circle cx="195.67" cy="152.07" r="1.05" fill="#16B4B4"/>
<circle cx="190.39" cy="161.94" r="1.05" fill="#16B4B4"/>
<circle cx="185.10" cy="176.60" r="1.05" fill="#16B4B4"/>
<circle cx="202.07" cy="161.20" r="1.05" fill="#16B4B4"/>
<circle cx="192.13" cy="162.13" r="1.05" fill="#16B4B4"/>
<circle cx="195.69" cy="163.49" r="1.05" fill="#16B4B4"/>
<circle cx="207.47" cy="162.73" r="1.05" fill="#16B4B4"/>
<circle cx="184.76" cy="174.26" r="1.05" fill="#16B4B4"/>
<circle cx="196.15" cy="161.70" r="1.05" fill="#16B4B4"/>
<circle cx="188.67" cy="162.56" r="1.05" fill="#16B4B4"/>
<circle cx="192.88" cy="165.59" r="1.05" fill="#16B4B4"/>
<circle cx="205.24" cy="158.81" r="1.05" fill="#16B4B4"/>
<circle cx="195.00" cy="170.15" r="1.05" fill="#16B4B4"/>
<circle cx="207.57" cy="176.17" r="1.05" fill="#16B4B4"/>
<circle cx="202.89" cy="165.64" r="1.05" fill="#16B4B4"/>
<circle cx="199.17" cy="178.38" r="1.05" fill="#16B4B4"/>
<circle cx="193.77" cy="172.38" r="1.05" fill="#16B4B4"/>
<circle cx="194.34" cy="161.90" r="1.05" fill="#16B4B4"/>
<circle cx="196.77" cy="160.23" r="1.05" fill="#16B4B4"/>
<circle cx="190.78" cy="164.35" r="1.05" fill="#16B4B4"/>
<circle cx="200.71" cy="175.27" r="1.05" fill="#16B4B4"/>
<circle cx="189.60" cy="168.18" r="1.05" fill="#16B4B4"/>
<circle cx="188.27" cy="170.52" r="1.05" fill="#16B4B4"/>
<circle cx="200.42" cy="169.93" r="1.05" fill="#16B4B4"/>
<circle cx="198.84" cy="179.50" r="1.05" fill="#16B4B4"/>
<circle cx="215.28" cy="164.61" r="1.05" fill="#16B4B4"/>
<circle cx="201.54" cy="169.76" r="1.05" fill="#16B4B4"/>
<circle cx="196.32" cy="157.90" r="1.05" fill="#16B4B4"/>
<circle cx="210.62" cy="174.54" r="1.05" fill="#16B4B4"/>
<circle cx="183.91" cy="172.32" r="1.05" fill="#16B4B4"/>
<circle cx="203.44" cy="171.30" r="1.05" fill="#16B4B4"/>
<circle cx="196.66" cy="163.24" r="1.05" fill="#16B4B4"/>
<circle cx="201.25" cy="177.79" r="1.05" fill="#16B4B4"/>
<circle cx="198.53" cy="167.99" r="1.05" fill="#16B4B4"/>
<circle cx="199.17" cy="166.34" r="1.05" fill="#16B4B4"/>
<circle cx="192.90" cy="162.68" r="1.05" fill="#16B4B4"/>
<circle cx="199.62" cy="170.37" r="1.05" fill="#16B4B4"/>
<circle cx="211.36" cy="141.68" r="1.05" fill="#16B4B4"/>
<circle cx="199.84" cy="166.61" r="1.05" fill="#16B4B4"/>
<circle cx="206.44" cy="161.79" r="1.05" fill="#16B4B4"/>
<circle cx="198.01" cy="156.83" r="1.05" fill="#16B4B4"/>
<circle cx="187.17" cy="167.03" r="1.05" fill="#16B4B4"/>
<circle cx="186.75" cy="169.99" r="1.05" fill="#16B4B4"/>
<circle cx="210.62" cy="165.96" r="1.05" fill="#16B4B4"/>
<circle cx="200.34" cy="160.08" r="1.05" fill="#16B4B4"/>
<circle cx="192.61" cy="168.12" r="1.05" fill="#16B4B4"/>
<circle cx="202.54" cy="174.09" r="1.05" fill="#16B4B4"/>
<circle cx="215.40" cy="166.64" r="1.05" fill="#16B4B4"/>
<circle cx="201.59" cy="151.48" r="1.05" fill="#16B4B4"/>
<circle cx="205.07" cy="155.07" r="1.05" fill="#16B4B4"/>
<circle cx="187.70" cy="171.68" r="1.05" fill="#16B4B4"/>
<circle cx="199.54" cy="158.25" r="1.05" fill="#16B4B4"/>
<circle cx="209.36" cy="156.94" r="1.05" fill="#16B4B4"/>
<circle cx="200.06" cy="148.53" r="1.05" fill="#16B4B4"/>
<circle cx="182.11" cy="175.51" r="1.05" fill="#16B4B4"/>
<circle cx="206.95" cy="155.30" r="1.05" fill="#16B4B4"/>
<circle cx="198.89" cy="149.57" r="1.05" fill="#16B4B4"/>
<circle cx="185.87" cy="172.85" r="1.05" fill="#16B4B4"/>
<circle cx="204.40" cy="168.33" r="1.05" fill="#16B4B4"/>
<circle cx="196.07" cy="165.06" r="1.05" fill="#16B4B4"/>
<circle cx="189.74" cy="174.92" r="1.05" fill="#16B4B4"/>
<circle cx="192.85" cy="160.20" r="1.05" fill="#16B4B4"/>
<circle cx="209.28" cy="160.26" r="1.05" fill="#16B4B4"/>
<circle cx="190.68" cy="176.05" r="1.05" fill="#16B4B4"/>
<circle cx="209.07" cy="166.58" r="1.05" fill="#16B4B4"/>
<circle cx="196.83" cy="157.89" r="1.05" fill="#16B4B4"/>
<circle cx="195.05" cy="166.48" r="1.05" fill="#16B4B4"/>
<circle cx="200.11" cy="173.03" r="1.05" fill="#16B4B4"/>
<circle cx="202.63" cy="168.77" r="1.05" fill="#16B4B4"/>
<circle cx="206.31" cy="158.44" r="1.05" fill="#16B4B4"/>
<circle cx="207.60" cy="170.39" r="1.05" fill="#16B4B4"/>
<circle cx="197.45" cy="162.07" r="1.05" fill="#16B4B4"/>
<circle cx="201.90" cy="162.54" r="1.05" fill="#16B4B4"/>
<circle cx="192.15" cy="165.77" r="1.05" fill="#16B4B4"/>
<circle cx="192.62" cy="170.32" r="1.05" fill="#16B4B4"/>
<circle cx="194.44" cy="178.78" r="1.05" fill="#16B4B4"/>
<circle cx="196.89" cy="166.25" r="1.05" fill="#16B4B4"/>
<circle cx="197.38" cy="167.46" r="1.05" fill="#16B4B4"/>
<circle cx="205.28" cy="177.36" r="1.05" fill="#16B4B4"/>
<circle cx="183.16" cy="177.05" r="1.05" fill="#16B4B4"/>
<circle cx="197.27" cy="161.91" r="1.05" fill="#16B4B4"/>
<circle cx="204.85" cy="159.47" r="1.05" fill="#16B4B4"/>
<circle cx="197.71" cy="175.75" r="1.05" fill="#16B4B4"/>
<circle cx="210.02" cy="159.26" r="1.05" fill="#16B4B4"/>
<circle cx="202.06" cy="153.62" r="1.05" fill="#16B4B4"/>
<circle cx="206.32" cy="173.13" r="1.05" fill="#16B4B4"/>
<circle cx="191.72" cy="166.47" r="1.05" fill="#16B4B4"/>
<circle cx="207.28" cy="168.34" r="1.05" fill="#16B4B4"/>
<circle cx="203.91" cy="171.65" r="1.05" fill="#16B4B4"/>
<circle cx="192.62" cy="156.17" r="1.05" fill="#16B4B4"/>
<circle cx="196.43" cy="176.66" r="1.05" fill="#16B4B4"/>
<circle cx="184.25" cy="172.36" r="1.05" fill="#16B4B4"/>
<circle cx="210.69" cy="160.50" r="1.05" fill="#16B4B4"/>
<circle cx="197.61" cy="169.21" r="1.05" fill="#16B4B4"/>
<circle cx="209.07" cy="154.96" r="1.05" fill="#16B4B4"/>
<circle cx="191.56" cy="158.80" r="1.05" fill="#16B4B4"/>
<circle cx="195.54" cy="178.36" r="1.05" fill="#16B4B4"/>
<circle cx="199.70" cy="171.13" r="1.05" fill="#16B4B4"/>
<circle cx="216.27" cy="162.26" r="1.05" fill="#16B4B4"/>
<circle cx="200.25" cy="165.58" r="1.05" fill="#16B4B4"/>
<circle cx="196.11" cy="174.19" r="1.05" fill="#16B4B4"/>
<circle cx="194.44" cy="161.87" r="1.05" fill="#16B4B4"/>
<circle cx="194.08" cy="163.90" r="1.05" fill="#16B4B4"/>
<circle cx="208.36" cy="171.79" r="1.05" fill="#16B4B4"/>
<circle cx="190.44" cy="172.14" r="1.05" fill="#16B4B4"/>
<circle cx="199.23" cy="172.81" r="1.05" fill="#16B4B4"/>
<circle cx="196.77" cy="147.62" r="1.05" fill="#16B4B4"/>
<circle cx="201.18" cy="166.85" r="1.05" fill="#16B4B4"/>
<circle cx="201.67" cy="153.08" r="1.05" fill="#16B4B4"/>
<circle cx="198.00" cy="158.61" r="1.05" fill="#16B4B4"/>
<circle cx="191.39" cy="167.98" r="1.05" fill="#16B4B4"/>
<circle cx="200.33" cy="156.77" r="1.05" fill="#16B4B4"/>
<circle cx="192.35" cy="174.90" r="1.05" fill="#16B4B4"/>
<circle cx="189.88" cy="168.59" r="1.05" fill="#16B4B4"/>
<circle cx="211.68" cy="175.31" r="1.05" fill="#16B4B4"/>
<circle cx="200.45" cy="166.57" r="1.05" fill="#16B4B4"/>
<circle cx="194.44" cy="157.83" r="1.05" fill="#16B4B4"/>
<circle cx="197.85" cy="161.27" r="1.05" fill="#16B4B4"/>
<circle cx="200.20" cy="177.71" r="1.05" fill="#16B4B4"/>
<circle cx="203.68" cy="168.56" r="1.05" fill="#16B4B4"/>
<circle cx="195.23" cy="151.12" r="1.05" fill="#16B4B4"/>
<circle cx="196.32" cy="169.69" r="1.05" fill="#16B4B4"/>
<circle cx="188.63" cy="176.08" r="1.05" fill="#16B4B4"/>
<circle cx="194.43" cy="168.15" r="1.05" fill="#16B4B4"/>
<circle cx="194.47" cy="153.50" r="1.05" fill="#16B4B4"/>
<circle cx="215.08" cy="154.35" r="1.05" fill="#16B4B4"/>
<circle cx="205.20" cy="159.80" r="1.05" fill="#16B4B4"/>
<circle cx="199.70" cy="157.55" r="1.05" fill="#16B4B4"/>
<circle cx="193.72" cy="173.08" r="1.05" fill="#16B4B4"/>
<circle cx="214.03" cy="157.18" r="1.05" fill="#16B4B4"/>
<circle cx="197.39" cy="173.33" r="1.05" fill="#16B4B4"/>
<circle cx="191.87" cy="171.19" r="1.05" fill="#16B4B4"/>
<circle cx="190.55" cy="170.24" r="1.05" fill="#16B4B4"/>
<circle cx="201.06" cy="175.71" r="1.05" fill="#16B4B4"/>
<circle cx="200.43" cy="154.06" r="1.05" fill="#16B4B4"/>
<circle cx="203.01" cy="154.89" r="1.05" fill="#16B4B4"/>
<circle cx="203.76" cy="178.40" r="1.05" fill="#16B4B4"/>
<circle cx="202.42" cy="159.82" r="1.05" fill="#16B4B4"/>
<circle cx="207.55" cy="166.31" r="1.05" fill="#16B4B4"/>
<circle cx="209.51" cy="162.06" r="1.05" fill="#16B4B4"/>
<circle cx="198.35" cy="161.71" r="1.05" fill="#16B4B4"/>
<circle cx="200.37" cy="166.67" r="1.05" fill="#16B4B4"/>
<circle cx="207.81" cy="171.28" r="1.05" fill="#16B4B4"/>
<circle cx="206.10" cy="176.51" r="1.05" fill="#16B4B4"/>
<circle cx="193.47" cy="159.36" r="1.05" fill="#16B4B4"/>
<circle cx="200.00" cy="179.86" r="1.05" fill="#16B4B4"/>
<circle cx="191.15" cy="169.83" r="1.05" fill="#16B4B4"/>
<circle cx="209.89" cy="162.14" r="1.05" fill="#16B4B4"/>
<circle cx="194.85" cy="150.91" r="1.05" fill="#16B4B4"/>
<circle cx="204.91" cy="160.09" r="1.05" fill="#16B4B4"/>
<circle cx="203.18" cy="152.96" r="1.05" fill="#16B4B4"/>
<circle cx="206.73" cy="151.83" r="1.05" fill="#16B4B4"/>
<circle cx="206.36" cy="148.50" r="1.05" fill="#16B4B4"/>
<circle cx="209.17" cy="161.43" r="1.05" fill="#16B4B4"/>
<circle cx="200.20" cy="155.89" r="1.05" fill="#16B4B4"/>
<circle cx="193.06" cy="167.22" r="1.05" fill="#16B4B4"/>
<circle cx="193.60" cy="168.64" r="1.05" fill="#16B4B4"/>
<circle cx="199.86" cy="173.88" r="1.05" fill="#16B4B4"/>
<circle cx="195.78" cy="168.95" r="1.05" fill="#16B4B4"/>
<circle cx="198.62" cy="167.72" r="1.05" fill="#16B4B4"/>
<circle cx="186.29" cy="167.85" r="1.05" fill="#16B4B4"/>
<circle cx="199.27" cy="163.48" r="1.05" fill="#16B4B4"/>
<circle cx="201.56" cy="168.43" r="1.05" fill="#16B4B4"/>
<circle cx="198.58" cy="171.26" r="1.05" fill="#16B4B4"/>
<circle cx="194.94" cy="152.96" r="1.05" fill="#16B4B4"/>
<circle cx="198.20" cy="170.48" r="1.05" fill="#16B4B4"/>
<circle cx="196.27" cy="170.23" r="1.05" fill="#16B4B4"/>
<circle cx="197.65" cy="157.03" r="1.05" fill="#16B4B4"/>
<circle cx="190.67" cy="165.70" r="1.05" fill="#16B4B4"/>
<circle cx="211.79" cy="151.84" r="1.05" fill="#16B4B4"/>
<circle cx="191.38" cy="174.29" r="1.05" fill="#16B4B4"/>
<circle cx="206.82" cy="162.04" r="1.05" fill="#16B4B4"/>
<circle cx="197.80" cy="167.63" r="1.05" fill="#16B4B4"/>
<circle cx="211.93" cy="159.56" r="1.05" fill="#16B4B4"/>
<circle cx="189.40" cy="172.09" r="1.05" fill="#16B4B4"/>
<circle cx="198.03" cy="197.83" r="1.05" fill="#16B4B4"/>
<circle cx="205.20" cy="192.18" r="1.05" fill="#16B4B4"/>
<circle cx="206.11" cy="189.03" r="1.05" fill="#16B4B4"/>
<circle cx="207.47" cy="187.32" r="1.05" fill="#16B4B4"/>
<circle cx="210.58" cy="191.30" r="1.05" fill="#16B4B4"/>
<circle cx="210.87" cy="185.41" r="1.05" fill="#16B4B4"/>
<circle cx="213.35" cy="195.78" r="1.05" fill="#16B4B4"/>
<circle cx="204.56" cy="185.53" r="1.05" fill="#16B4B4"/>
<circle cx="200.42" cy="194.10" r="1.05" fill="#16B4B4"/>
<circle cx="204.77" cy="181.02" r="1.05" fill="#16B4B4"/>
<circle cx="214.39" cy="194.98" r="1.05" fill="#16B4B4"/>
<circle cx="204.02" cy="182.65" r="1.05" fill="#16B4B4"/>
<circle cx="221.75" cy="189.16" r="1.05" fill="#16B4B4"/>
<circle cx="210.88" cy="195.57" r="1.05" fill="#16B4B4"/>
<circle cx="200.17" cy="188.09" r="1.05" fill="#16B4B4"/>
<circle cx="222.66" cy="196.58" r="1.05" fill="#16B4B4"/>
<circle cx="206.24" cy="170.63" r="1.05" fill="#16B4B4"/>
<circle cx="215.19" cy="160.02" r="1.05" fill="#16B4B4"/>
<circle cx="214.70" cy="178.92" r="1.05" fill="#16B4B4"/>
<circle cx="209.85" cy="185.16" r="1.05" fill="#16B4B4"/>
<circle cx="209.84" cy="175.72" r="1.05" fill="#16B4B4"/>
<circle cx="213.19" cy="171.52" r="1.05" fill="#16B4B4"/>
<circle cx="221.33" cy="155.85" r="1.05" fill="#16B4B4"/>
<circle cx="206.45" cy="180.53" r="1.05" fill="#16B4B4"/>
<circle cx="211.52" cy="137.84" r="1.05" fill="#16B4B4"/>
<circle cx="228.02" cy="174.15" r="1.05" fill="#16B4B4"/>
<circle cx="218.79" cy="178.16" r="1.05" fill="#16B4B4"/>
<circle cx="221.09" cy="167.87" r="1.05" fill="#16B4B4"/>
<circle cx="208.52" cy="155.29" r="1.05" fill="#16B4B4"/>
<circle cx="205.14" cy="162.01" r="1.05" fill="#16B4B4"/>
<circle cx="217.44" cy="159.55" r="1.05" fill="#16B4B4"/>
<circle cx="209.46" cy="156.81" r="1.05" fill="#16B4B4"/>
<circle cx="209.60" cy="177.07" r="1.05" fill="#16B4B4"/>
<circle cx="210.35" cy="153.72" r="1.05" fill="#16B4B4"/>
<circle cx="208.85" cy="177.68" r="1.05" fill="#16B4B4"/>
<circle cx="207.90" cy="165.80" r="1.05" fill="#16B4B4"/>
<circle cx="242.71" cy="156.79" r="1.05" fill="#16B4B4"/>
<circle cx="215.76" cy="165.31" r="1.05" fill="#16B4B4"/>
<circle cx="227.80" cy="156.82" r="1.05" fill="#16B4B4"/>
<circle cx="206.26" cy="170.24" r="1.05" fill="#16B4B4"/>
<circle cx="219.72" cy="170.96" r="1.05" fill="#16B4B4"/>
<circle cx="221.02" cy="171.98" r="1.05" fill="#16B4B4"/>
<circle cx="228.58" cy="177.55" r="1.05" fill="#16B4B4"/>
<circle cx="216.68" cy="173.96" r="1.05" fill="#16B4B4"/>
<circle cx="207.22" cy="171.42" r="1.05" fill="#16B4B4"/>
<circle cx="206.72" cy="163.28" r="1.05" fill="#16B4B4"/>
<circle cx="237.93" cy="169.47" r="1.05" fill="#16B4B4"/>
<circle cx="212.24" cy="150.44" r="1.05" fill="#16B4B4"/>
<circle cx="223.93" cy="165.79" r="1.05" fill="#16B4B4"/>
<circle cx="227.37" cy="159.22" r="1.05" fill="#16B4B4"/>
<circle cx="211.91" cy="173.78" r="1.05" fill="#16B4B4"/>
<circle cx="205.20" cy="152.52" r="1.05" fill="#16B4B4"/>
<circle cx="225.27" cy="158.58" r="1.05" fill="#16B4B4"/>
<circle cx="205.24" cy="153.69" r="1.05" fill="#16B4B4"/>
<circle cx="210.23" cy="157.87" r="1.05" fill="#16B4B4"/>
<circle cx="206.46" cy="180.96" r="1.05" fill="#16B4B4"/>
<circle cx="211.16" cy="146.76" r="1.05" fill="#16B4B4"/>
<circle cx="227.67" cy="165.81" r="1.05" fill="#16B4B4"/>
<circle cx="217.29" cy="177.68" r="1.05" fill="#16B4B4"/>
<circle cx="235.33" cy="183.45" r="1.05" fill="#16B4B4"/>
<circle cx="215.33" cy="158.86" r="1.05" fill="#16B4B4"/>
<circle cx="206.99" cy="177.83" r="1.05" fill="#16B4B4"/>
<circle cx="221.25" cy="180.81" r="1.05" fill="#16B4B4"/>
<circle cx="221.34" cy="165.85" r="1.05" fill="#16B4B4"/>
<circle cx="228.46" cy="176.02" r="1.05" fill="#16B4B4"/>
<circle cx="217.82" cy="193.18" r="1.05" fill="#16B4B4"/>
<circle cx="207.87" cy="174.46" r="1.05" fill="#16B4B4"/>
<circle cx="216.17" cy="171.30" r="1.05" fill="#16B4B4"/>
<circle cx="220.53" cy="154.37" r="1.05" fill="#16B4B4"/>
<circle cx="210.83" cy="190.25" r="1.05" fill="#16B4B4"/>
<circle cx="213.08" cy="189.05" r="1.05" fill="#16B4B4"/>
<circle cx="206.89" cy="188.79" r="1.05" fill="#16B4B4"/>
<circle cx="235.47" cy="152.79" r="1.05" fill="#16B4B4"/>
<circle cx="215.68" cy="163.02" r="1.05" fill="#16B4B4"/>
<circle cx="208.99" cy="197.14" r="1.05" fill="#16B4B4"/>
<circle cx="227.11" cy="147.69" r="1.05" fill="#16B4B4"/>
<circle cx="216.96" cy="182.40" r="1.05" fill="#16B4B4"/>
<circle cx="209.43" cy="181.95" r="1.05" fill="#16B4B4"/>
<circle cx="234.55" cy="167.86" r="1.05" fill="#16B4B4"/>
<circle cx="228.09" cy="181.99" r="1.05" fill="#16B4B4"/>
<circle cx="207.67" cy="162.62" r="1.05" fill="#16B4B4"/>
<circle cx="205.42" cy="165.64" r="1.05" fill="#16B4B4"/>
<circle cx="207.58" cy="194.14" r="1.05" fill="#16B4B4"/>
<circle cx="218.96" cy="164.78" r="1.05" fill="#16B4B4"/>
<circle cx="209.78" cy="158.06" r="1.05" fill="#16B4B4"/>
<circle cx="211.25" cy="150.44" r="1.05" fill="#16B4B4"/>
<circle cx="184.70" cy="145.60" r="1.05" fill="#16B4B4"/>
<circle cx="196.40" cy="145.00" r="1.05" fill="#16B4B4"/>
<circle cx="207.00" cy="145.60" r="1.05" fill="#16B4B4"/>
<circle cx="210.20" cy="145.00" r="1.05" fill="#16B4B4"/>
<circle cx="255.00" cy="137.50" r="1.05" fill="#16B4B4"/>
<circle cx="255.60" cy="145.90" r="1.05" fill="#16B4B4"/>
<circle cx="249.60" cy="148.60" r="1.05" fill="#16B4B4"/>
<circle cx="259.50" cy="148.90" r="1.05" fill="#16B4B4"/>
<circle cx="262.50" cy="153.40" r="1.05" fill="#16B4B4"/>
<circle cx="253.50" cy="158.50" r="1.05" fill="#16B4B4"/>
<circle cx="258.00" cy="159.40" r="1.05" fill="#16B4B4"/>
<circle cx="246.60" cy="161.50" r="1.05" fill="#16B4B4"/>
<circle cx="254.10" cy="163.00" r="1.05" fill="#16B4B4"/>
<circle cx="246.00" cy="169.00" r="1.05" fill="#16B4B4"/>
<circle cx="240.60" cy="170.00" r="1.05" fill="#16B4B4"/>
<circle cx="295.00" cy="178.70" r="1.05" fill="#16B4B4"/>
<circle cx="288.60" cy="187.70" r="1.05" fill="#16B4B4"/>
<circle cx="241.50" cy="189.50" r="1.05" fill="#16B4B4"/>
<circle cx="249.90" cy="205.70" r="1.05" fill="#16B4B4"/>
<circle cx="208.80" cy="132.00" r="1.05" fill="#16B4B4"/>
<circle cx="239.00" cy="127.30" r="1.05" fill="#16B4B4"/>
<circle cx="239.50" cy="133.90" r="1.05" fill="#16B4B4"/>
<circle cx="235.00" cy="139.10" r="1.05" fill="#16B4B4"/>
<circle cx="227.20" cy="137.30" r="1.05" fill="#16B4B4"/>
<circle cx="217.20" cy="216.00" r="1.05" fill="#16B4B4"/>
<circle cx="241.60" cy="189.80" r="1.05" fill="#16B4B4"/>
<circle cx="219.00" cy="200.00" r="1.05" fill="#16B4B4"/>
<circle cx="249.60" cy="205.70" r="1.05" fill="#16B4B4"/>
<circle cx="216.80" cy="216.60" r="1.05" fill="#16B4B4"/>
<circle cx="213.30" cy="225.40" r="1.05" fill="#16B4B4"/>
<circle cx="187.06" cy="159.08" r="1.05" fill="#EE6A58"/>
<circle cx="181.65" cy="168.39" r="1.05" fill="#EE6A58"/>
<circle cx="183.83" cy="163.65" r="1.05" fill="#EE6A58"/>
<circle cx="185.99" cy="162.63" r="1.05" fill="#EE6A58"/>
<circle cx="183.69" cy="164.95" r="1.05" fill="#EE6A58"/>
<circle cx="189.94" cy="160.10" r="1.05" fill="#EE6A58"/>
<circle cx="185.77" cy="159.37" r="1.05" fill="#EE6A58"/>
<circle cx="186.55" cy="156.54" r="1.05" fill="#EE6A58"/>
<circle cx="184.68" cy="156.04" r="1.05" fill="#EE6A58"/>
<circle cx="190.71" cy="152.63" r="1.05" fill="#EE6A58"/>
<circle cx="182.54" cy="161.77" r="1.05" fill="#EE6A58"/>
<circle cx="184.84" cy="160.59" r="1.05" fill="#EE6A58"/>
<circle cx="190.48" cy="152.58" r="1.05" fill="#EE6A58"/>
<circle cx="190.27" cy="155.02" r="1.05" fill="#EE6A58"/>
<circle cx="187.06" cy="158.07" r="1.05" fill="#EE6A58"/>
<circle cx="187.61" cy="159.55" r="1.05" fill="#EE6A58"/>
<circle cx="183.97" cy="162.59" r="1.05" fill="#EE6A58"/>
<circle cx="180.07" cy="170.12" r="1.05" fill="#EE6A58"/>
<circle cx="182.37" cy="168.57" r="1.05" fill="#EE6A58"/>
<circle cx="185.38" cy="168.62" r="1.05" fill="#EE6A58"/>
<circle cx="190.09" cy="148.51" r="1.05" fill="#EE6A58"/>
<circle cx="185.29" cy="162.33" r="1.05" fill="#EE6A58"/>
<circle cx="186.24" cy="154.63" r="1.05" fill="#EE6A58"/>
<circle cx="181.34" cy="169.91" r="1.05" fill="#EE6A58"/>
<circle cx="186.39" cy="160.53" r="1.05" fill="#EE6A58"/>
<circle cx="182.53" cy="168.34" r="1.05" fill="#EE6A58"/>
<circle cx="182.63" cy="169.91" r="1.05" fill="#EE6A58"/>
<circle cx="183.62" cy="165.10" r="1.05" fill="#EE6A58"/>
<circle cx="183.27" cy="172.29" r="1.05" fill="#EE6A58"/>
<circle cx="180.60" cy="165.81" r="1.05" fill="#EE6A58"/>
<circle cx="190.66" cy="150.67" r="1.05" fill="#EE6A58"/>
<circle cx="185.93" cy="164.77" r="1.05" fill="#EE6A58"/>
<circle cx="182.94" cy="167.31" r="1.05" fill="#EE6A58"/>
<circle cx="186.84" cy="164.39" r="1.05" fill="#EE6A58"/>
<circle cx="192.29" cy="151.86" r="1.05" fill="#EE6A58"/>
<circle cx="182.56" cy="168.15" r="1.05" fill="#EE6A58"/>
<circle cx="181.08" cy="169.27" r="1.05" fill="#EE6A58"/>
<circle cx="192.03" cy="150.77" r="1.05" fill="#EE6A58"/>
<circle cx="180.57" cy="166.84" r="1.05" fill="#EE6A58"/>
<circle cx="186.07" cy="163.09" r="1.05" fill="#EE6A58"/>
<circle cx="183.41" cy="164.96" r="1.05" fill="#EE6A58"/>
<circle cx="182.31" cy="170.59" r="1.05" fill="#EE6A58"/>
<circle cx="188.00" cy="156.15" r="1.05" fill="#EE6A58"/>
<circle cx="189.64" cy="152.13" r="1.05" fill="#EE6A58"/>
<circle cx="185.28" cy="165.08" r="1.05" fill="#EE6A58"/>
<circle cx="182.91" cy="166.05" r="1.05" fill="#EE6A58"/>
<circle cx="190.12" cy="150.97" r="1.05" fill="#EE6A58"/>
<circle cx="187.95" cy="161.19" r="1.05" fill="#EE6A58"/>
<circle cx="183.34" cy="168.66" r="1.05" fill="#EE6A58"/>
<circle cx="180.55" cy="172.94" r="1.05" fill="#EE6A58"/>
<rect x="308.20" y="168.40" width="10.50" height="10.50" fill="#F5F5F5"/>
<rect x="308.20" y="186.20" width="10.50" height="10.50" fill="#F5F5F5"/>
<circle cx="313.45" cy="173.65" r="1.3" fill="#EE6A58"/>
<circle cx="313.45" cy="191.45" r="1.3" fill="#16B4B4"/>
<text x="323.50" y="175.30" font-size="4.8" text-anchor="start" fill="#000" stroke="#000" stroke-width="0.14">Normal</text>
<text x="323.50" y="193.10" font-size="4.8" text-anchor="start" fill="#000" stroke="#000" stroke-width="0.14">Tumor</text>
</g>
<g id="panelE">
<rect x="14.40" y="248.40" width="296.80" height="53.90" fill="#FFFFFF" stroke="#7A7A7A" stroke-width="0.5"/>
<line x1="13.20" y1="299.75" x2="14.40" y2="299.75" stroke="#333" stroke-width="0.4"/>
<text x="11.80" y="301.45" font-size="4.8" text-anchor="end" fill="#000" stroke="#000" stroke-width="0.14">0</text>
<line x1="13.20" y1="288.31" x2="14.40" y2="288.31" stroke="#333" stroke-width="0.4"/>
<text x="11.80" y="290.01" font-size="4.8" text-anchor="end" fill="#000" stroke="#000" stroke-width="0.14">2</text>
<line x1="13.20" y1="276.87" x2="14.40" y2="276.87" stroke="#333" stroke-width="0.4"/>
<text x="11.80" y="278.57" font-size="4.8" text-anchor="end" fill="#000" stroke="#000" stroke-width="0.14">4</text>
<line x1="13.20" y1="265.43" x2="14.40" y2="265.43" stroke="#333" stroke-width="0.4"/>
<text x="11.80" y="267.13" font-size="4.8" text-anchor="end" fill="#000" stroke="#000" stroke-width="0.14">6</text>
<line x1="13.20" y1="253.99" x2="14.40" y2="253.99" stroke="#333" stroke-width="0.4"/>
<text x="11.80" y="255.69" font-size="4.8" text-anchor="end" fill="#000" stroke="#000" stroke-width="0.14">8</text>
<text x="7.40" y="275.70" font-size="5.15" text-anchor="middle" fill="#000" stroke="#000" stroke-width="0.14" transform="rotate(-90.00 7.40 275.70)">Expression</text>
<line x1="24.20" y1="252.60" x2="24.20" y2="263.10" stroke="#3A6A85" stroke-width="0.45"/>
<line x1="24.20" y1="269.70" x2="24.20" y2="276.70" stroke="#3A6A85" stroke-width="0.45"/>
<rect x="20.30" y="263.10" width="7.80" height="6.60" fill="#fff" stroke="#3A6A85" stroke-width="0.45"/>
<line x1="20.30" y1="266.20" x2="28.10" y2="266.20" stroke="#3A6A85" stroke-width="0.6"/>
<circle cx="24.20" cy="251.30" r="0.68" fill="#1c2226"/>
<line x1="33.20" y1="267.60" x2="33.20" y2="272.00" stroke="#E7A54B" stroke-width="0.45"/>
<line x1="33.20" y1="275.40" x2="33.20" y2="278.00" stroke="#E7A54B" stroke-width="0.45"/>
<rect x="29.30" y="272.00" width="7.80" height="3.40" fill="#fff" stroke="#E7A54B" stroke-width="0.45"/>
<line x1="29.30" y1="273.80" x2="37.10" y2="273.80" stroke="#E7A54B" stroke-width="0.6"/>
<circle cx="33.20" cy="266.20" r="0.68" fill="#E7A54B"/>
<line x1="28.70" y1="302.30" x2="28.70" y2="303.50" stroke="#333" stroke-width="0.4"/>
<text x="29.20" y="253.60" font-size="5.3" text-anchor="middle" fill="#E0323C" stroke="#E0323C" stroke-width="0.14">***</text>
<text font-size="4.85" text-anchor="end" fill="#000" stroke="#000" stroke-width="0.14" transform="translate(31.40 307.00) rotate(-32)">ALYREF</text>
<line x1="46.50" y1="263.60" x2="46.50" y2="276.20" stroke="#3A6A85" stroke-width="0.45"/>
<line x1="46.50" y1="285.10" x2="46.50" y2="295.10" stroke="#3A6A85" stroke-width="0.45"/>
<rect x="42.60" y="276.20" width="7.80" height="8.90" fill="#fff" stroke="#3A6A85" stroke-width="0.45"/>
<line x1="42.60" y1="280.70" x2="50.40" y2="280.70" stroke="#3A6A85" stroke-width="0.6"/>
<circle cx="46.50" cy="262.30" r="0.68" fill="#1c2226"/>
<line x1="55.50" y1="284.10" x2="55.50" y2="286.50" stroke="#E7A54B" stroke-width="0.45"/>
<line x1="55.50" y1="290.40" x2="55.50" y2="293.80" stroke="#E7A54B" stroke-width="0.45"/>
<rect x="51.60" y="286.50" width="7.80" height="3.90" fill="#fff" stroke="#E7A54B" stroke-width="0.45"/>
<line x1="51.60" y1="288.40" x2="59.40" y2="288.40" stroke="#E7A54B" stroke-width="0.6"/>
<line x1="51.00" y1="302.30" x2="51.00" y2="303.50" stroke="#333" stroke-width="0.4"/>
<text x="51.50" y="253.60" font-size="5.3" text-anchor="middle" fill="#E0323C" stroke="#E0323C" stroke-width="0.14">***</text>
<text font-size="4.85" text-anchor="end" fill="#000" stroke="#000" stroke-width="0.14" transform="translate(53.30 307.00) rotate(-32)">DNMT1</text>
<line x1="71.90" y1="270.20" x2="71.90" y2="281.50" stroke="#3A6A85" stroke-width="0.45"/>
<line x1="71.90" y1="288.60" x2="71.90" y2="294.60" stroke="#3A6A85" stroke-width="0.45"/>
<rect x="68.00" y="281.50" width="7.80" height="7.10" fill="#fff" stroke="#3A6A85" stroke-width="0.45"/>
<line x1="68.00" y1="285.10" x2="75.80" y2="285.10" stroke="#3A6A85" stroke-width="0.6"/>
<circle cx="71.90" cy="268.90" r="0.68" fill="#1c2226"/>
<line x1="80.90" y1="288.60" x2="80.90" y2="290.70" stroke="#E7A54B" stroke-width="0.45"/>
<line x1="80.90" y1="294.30" x2="80.90" y2="296.40" stroke="#E7A54B" stroke-width="0.45"/>
<rect x="77.00" y="290.70" width="7.80" height="3.60" fill="#fff" stroke="#E7A54B" stroke-width="0.45"/>
<line x1="77.00" y1="292.40" x2="84.80" y2="292.40" stroke="#E7A54B" stroke-width="0.6"/>
<line x1="76.40" y1="302.30" x2="76.40" y2="303.50" stroke="#333" stroke-width="0.4"/>
<text x="76.90" y="253.60" font-size="5.3" text-anchor="middle" fill="#E0323C" stroke="#E0323C" stroke-width="0.14">***</text>
<text font-size="4.85" text-anchor="end" fill="#000" stroke="#000" stroke-width="0.14" transform="translate(81.40 307.00) rotate(-32)">DNMT3A</text>
<line x1="94.10" y1="279.40" x2="94.10" y2="288.60" stroke="#3A6A85" stroke-width="0.45"/>
<line x1="94.10" y1="295.60" x2="94.10" y2="299.00" stroke="#3A6A85" stroke-width="0.45"/>
<rect x="90.20" y="288.60" width="7.80" height="7.00" fill="#fff" stroke="#3A6A85" stroke-width="0.45"/>
<line x1="90.20" y1="292.50" x2="98.00" y2="292.50" stroke="#3A6A85" stroke-width="0.6"/>
<circle cx="94.10" cy="270.20" r="0.68" fill="#1c2226"/>
<circle cx="94.10" cy="272.50" r="0.68" fill="#1c2226"/>
<circle cx="94.10" cy="275.00" r="0.68" fill="#1c2226"/>
<circle cx="94.10" cy="277.00" r="0.68" fill="#1c2226"/>
<circle cx="94.10" cy="278.30" r="0.68" fill="#1c2226"/>
<line x1="103.10" y1="294.60" x2="103.10" y2="295.40" stroke="#E7A54B" stroke-width="0.45"/>
<line x1="103.10" y1="297.00" x2="103.10" y2="297.80" stroke="#E7A54B" stroke-width="0.45"/>
<rect x="99.20" y="295.40" width="7.80" height="1.60" fill="#fff" stroke="#E7A54B" stroke-width="0.45"/>
<line x1="99.20" y1="296.20" x2="107.00" y2="296.20" stroke="#E7A54B" stroke-width="0.6"/>
<line x1="98.60" y1="302.30" x2="98.60" y2="303.50" stroke="#333" stroke-width="0.4"/>
<text x="99.10" y="253.60" font-size="5.3" text-anchor="middle" fill="#E0323C" stroke="#E0323C" stroke-width="0.14">***</text>
<text font-size="4.85" text-anchor="end" fill="#000" stroke="#000" stroke-width="0.14" transform="translate(102.40 307.00) rotate(-32)">DNMT3B</text>
<line x1="116.30" y1="266.20" x2="116.30" y2="273.60" stroke="#3A6A85" stroke-width="0.45"/>
<line x1="116.30" y1="278.80" x2="116.30" y2="286.00" stroke="#3A6A85" stroke-width="0.45"/>
<rect x="112.40" y="273.60" width="7.80" height="5.20" fill="#fff" stroke="#3A6A85" stroke-width="0.45"/>
<line x1="112.40" y1="276.20" x2="120.20" y2="276.20" stroke="#3A6A85" stroke-width="0.6"/>
<circle cx="116.30" cy="263.60" r="0.68" fill="#1c2226"/>
<circle cx="116.30" cy="287.50" r="0.68" fill="#1c2226"/>
<line x1="125.30" y1="275.40" x2="125.30" y2="279.40" stroke="#E7A54B" stroke-width="0.45"/>
<line x1="125.30" y1="287.00" x2="125.30" y2="288.40" stroke="#E7A54B" stroke-width="0.45"/>
<rect x="121.40" y="279.40" width="7.80" height="7.60" fill="#fff" stroke="#E7A54B" stroke-width="0.45"/>
<line x1="121.40" y1="283.00" x2="129.20" y2="283.00" stroke="#E7A54B" stroke-width="0.6"/>
<line x1="120.80" y1="302.30" x2="120.80" y2="303.50" stroke="#333" stroke-width="0.4"/>
<text x="121.30" y="253.60" font-size="5.3" text-anchor="middle" fill="#E0323C" stroke="#E0323C" stroke-width="0.14">***</text>
<text font-size="4.85" text-anchor="end" fill="#000" stroke="#000" stroke-width="0.14" transform="translate(122.70 307.00) rotate(-32)">NOP2</text>
<line x1="138.70" y1="263.60" x2="138.70" y2="269.70" stroke="#3A6A85" stroke-width="0.45"/>
<line x1="138.70" y1="275.00" x2="138.70" y2="279.40" stroke="#3A6A85" stroke-width="0.45"/>
<rect x="134.80" y="269.70" width="7.80" height="5.30" fill="#fff" stroke="#3A6A85" stroke-width="0.45"/>
<line x1="134.80" y1="272.30" x2="142.60" y2="272.30" stroke="#3A6A85" stroke-width="0.6"/>
<circle cx="138.70" cy="261.00" r="0.68" fill="#1c2226"/>
<circle cx="138.70" cy="280.50" r="0.68" fill="#1c2226"/>
<circle cx="138.70" cy="281.60" r="0.68" fill="#1c2226"/>
<circle cx="138.70" cy="282.80" r="0.68" fill="#1c2226"/>
<circle cx="138.70" cy="284.00" r="0.68" fill="#1c2226"/>
<circle cx="138.70" cy="285.20" r="0.68" fill="#1c2226"/>
<circle cx="138.70" cy="286.00" r="0.68" fill="#1c2226"/>
<line x1="147.70" y1="272.00" x2="147.70" y2="273.60" stroke="#E7A54B" stroke-width="0.45"/>
<line x1="147.70" y1="277.60" x2="147.70" y2="282.20" stroke="#E7A54B" stroke-width="0.45"/>
<rect x="143.80" y="273.60" width="7.80" height="4.00" fill="#fff" stroke="#E7A54B" stroke-width="0.45"/>
<line x1="143.80" y1="275.50" x2="151.60" y2="275.50" stroke="#E7A54B" stroke-width="0.6"/>
<line x1="143.20" y1="302.30" x2="143.20" y2="303.50" stroke="#333" stroke-width="0.4"/>
<text x="143.70" y="253.60" font-size="5.3" text-anchor="middle" fill="#E0323C" stroke="#E0323C" stroke-width="0.14">***</text>
<text font-size="4.85" text-anchor="end" fill="#000" stroke="#000" stroke-width="0.14" transform="translate(145.40 307.00) rotate(-32)">NSUN2</text>
<line x1="160.70" y1="282.00" x2="160.70" y2="287.20" stroke="#3A6A85" stroke-width="0.45"/>
<line x1="160.70" y1="292.00" x2="160.70" y2="295.60" stroke="#3A6A85" stroke-width="0.45"/>
<rect x="156.80" y="287.20" width="7.80" height="4.80" fill="#fff" stroke="#3A6A85" stroke-width="0.45"/>
<line x1="156.80" y1="289.90" x2="164.60" y2="289.90" stroke="#3A6A85" stroke-width="0.6"/>
<circle cx="160.70" cy="279.90" r="0.68" fill="#1c2226"/>
<circle cx="160.70" cy="280.80" r="0.68" fill="#1c2226"/>
<line x1="169.70" y1="288.00" x2="169.70" y2="289.90" stroke="#E7A54B" stroke-width="0.45"/>
<line x1="169.70" y1="293.30" x2="169.70" y2="295.00" stroke="#E7A54B" stroke-width="0.45"/>
<rect x="165.80" y="289.90" width="7.80" height="3.40" fill="#fff" stroke="#E7A54B" stroke-width="0.45"/>
<line x1="165.80" y1="291.60" x2="173.60" y2="291.60" stroke="#E7A54B" stroke-width="0.6"/>
<line x1="165.20" y1="302.30" x2="165.20" y2="303.50" stroke="#333" stroke-width="0.4"/>
<text x="165.70" y="253.60" font-size="5.3" text-anchor="middle" fill="#E0323C" stroke="#E0323C" stroke-width="0.14">***</text>
<text font-size="4.85" text-anchor="end" fill="#000" stroke="#000" stroke-width="0.14" transform="translate(167.70 307.00) rotate(-32)">NSUN3</text>
<line x1="182.70" y1="274.10" x2="182.70" y2="282.00" stroke="#3A6A85" stroke-width="0.45"/>
<line x1="182.70" y1="287.80" x2="182.70" y2="293.80" stroke="#3A6A85" stroke-width="0.45"/>
<rect x="178.80" y="282.00" width="7.80" height="5.80" fill="#fff" stroke="#3A6A85" stroke-width="0.45"/>
<line x1="178.80" y1="285.10" x2="186.60" y2="285.10" stroke="#3A6A85" stroke-width="0.6"/>
<circle cx="182.70" cy="271.00" r="0.68" fill="#1c2226"/>
<circle cx="182.70" cy="272.60" r="0.68" fill="#1c2226"/>
<line x1="191.70" y1="282.00" x2="191.70" y2="285.10" stroke="#E7A54B" stroke-width="0.45"/>
<line x1="191.70" y1="289.30" x2="191.70" y2="293.80" stroke="#E7A54B" stroke-width="0.45"/>
<rect x="187.80" y="285.10" width="7.80" height="4.20" fill="#fff" stroke="#E7A54B" stroke-width="0.45"/>
<line x1="187.80" y1="287.20" x2="195.60" y2="287.20" stroke="#E7A54B" stroke-width="0.6"/>
<line x1="187.20" y1="302.30" x2="187.20" y2="303.50" stroke="#333" stroke-width="0.4"/>
<text x="187.70" y="253.60" font-size="5.3" text-anchor="middle" fill="#E0323C" stroke="#E0323C" stroke-width="0.14">***</text>
<text font-size="4.85" text-anchor="end" fill="#000" stroke="#000" stroke-width="0.14" transform="translate(190.10 307.00) rotate(-32)">NSUN4</text>
<line x1="205.00" y1="264.90" x2="205.00" y2="272.00" stroke="#3A6A85" stroke-width="0.45"/>
<line x1="205.00" y1="278.00" x2="205.00" y2="285.90" stroke="#3A6A85" stroke-width="0.45"/>
<rect x="201.10" y="272.00" width="7.80" height="6.00" fill="#fff" stroke="#3A6A85" stroke-width="0.45"/>
<line x1="201.10" y1="274.90" x2="208.90" y2="274.90" stroke="#3A6A85" stroke-width="0.6"/>
<circle cx="205.00" cy="263.00" r="0.68" fill="#1c2226"/>
<circle cx="205.00" cy="287.00" r="0.68" fill="#1c2226"/>
<line x1="214.00" y1="275.40" x2="214.00" y2="280.70" stroke="#E7A54B" stroke-width="0.45"/>
<line x1="214.00" y1="285.10" x2="214.00" y2="287.20" stroke="#E7A54B" stroke-width="0.45"/>
<rect x="210.10" y="280.70" width="7.80" height="4.40" fill="#fff" stroke="#E7A54B" stroke-width="0.45"/>
<line x1="210.10" y1="283.00" x2="217.90" y2="283.00" stroke="#E7A54B" stroke-width="0.6"/>
<line x1="209.50" y1="302.30" x2="209.50" y2="303.50" stroke="#333" stroke-width="0.4"/>
<text x="210.00" y="253.60" font-size="5.3" text-anchor="middle" fill="#E0323C" stroke="#E0323C" stroke-width="0.14">***</text>
<text font-size="4.85" text-anchor="end" fill="#000" stroke="#000" stroke-width="0.14" transform="translate(212.70 307.00) rotate(-32)">NSUN5</text>
<line x1="227.30" y1="264.90" x2="227.30" y2="274.10" stroke="#3A6A85" stroke-width="0.45"/>
<line x1="227.30" y1="280.70" x2="227.30" y2="289.90" stroke="#3A6A85" stroke-width="0.45"/>
<rect x="223.40" y="274.10" width="7.80" height="6.60" fill="#fff" stroke="#3A6A85" stroke-width="0.45"/>
<line x1="223.40" y1="277.30" x2="231.20" y2="277.30" stroke="#3A6A85" stroke-width="0.6"/>
<circle cx="227.30" cy="263.40" r="0.68" fill="#1c2226"/>
<line x1="236.30" y1="266.20" x2="236.30" y2="271.00" stroke="#E7A54B" stroke-width="0.45"/>
<line x1="236.30" y1="275.40" x2="236.30" y2="282.00" stroke="#E7A54B" stroke-width="0.45"/>
<rect x="232.40" y="271.00" width="7.80" height="4.40" fill="#fff" stroke="#E7A54B" stroke-width="0.45"/>
<line x1="232.40" y1="273.20" x2="240.20" y2="273.20" stroke="#E7A54B" stroke-width="0.6"/>
<line x1="231.80" y1="302.30" x2="231.80" y2="303.50" stroke="#333" stroke-width="0.4"/>
<text x="232.30" y="253.60" font-size="5.3" text-anchor="middle" fill="#E0323C" stroke="#E0323C" stroke-width="0.14">***</text>
<text font-size="4.85" text-anchor="end" fill="#000" stroke="#000" stroke-width="0.14" transform="translate(234.60 307.00) rotate(-32)">NSUN6</text>
<line x1="249.80" y1="295.00" x2="249.80" y2="296.80" stroke="#3A6A85" stroke-width="0.45"/>
<line x1="249.80" y1="299.50" x2="249.80" y2="299.80" stroke="#3A6A85" stroke-width="0.45"/>
<rect x="245.90" y="296.80" width="7.80" height="2.70" fill="#fff" stroke="#3A6A85" stroke-width="0.45"/>
<line x1="245.90" y1="298.60" x2="253.70" y2="298.60" stroke="#3A6A85" stroke-width="0.6"/>
<circle cx="249.80" cy="276.70" r="0.68" fill="#1c2226"/>
<circle cx="249.80" cy="277.70" r="0.68" fill="#1c2226"/>
<circle cx="249.80" cy="278.70" r="0.68" fill="#1c2226"/>
<circle cx="249.80" cy="279.70" r="0.68" fill="#1c2226"/>
<circle cx="249.80" cy="280.70" r="0.68" fill="#1c2226"/>
<circle cx="249.80" cy="281.70" r="0.68" fill="#1c2226"/>
<circle cx="249.80" cy="282.70" r="0.68" fill="#1c2226"/>
<circle cx="249.80" cy="283.70" r="0.68" fill="#1c2226"/>
<circle cx="249.80" cy="284.70" r="0.68" fill="#1c2226"/>
<circle cx="249.80" cy="285.70" r="0.68" fill="#1c2226"/>
<circle cx="249.80" cy="286.70" r="0.68" fill="#1c2226"/>
<circle cx="249.80" cy="287.70" r="0.68" fill="#1c2226"/>
<circle cx="249.80" cy="288.70" r="0.68" fill="#1c2226"/>
<circle cx="249.80" cy="289.70" r="0.68" fill="#1c2226"/>
<circle cx="249.80" cy="290.70" r="0.68" fill="#1c2226"/>
<circle cx="249.80" cy="291.70" r="0.68" fill="#1c2226"/>
<circle cx="249.80" cy="292.70" r="0.68" fill="#1c2226"/>
<circle cx="249.80" cy="293.70" r="0.68" fill="#1c2226"/>
<circle cx="249.80" cy="294.70" r="0.68" fill="#1c2226"/>
<line x1="258.80" y1="297.40" x2="258.80" y2="298.00" stroke="#E7A54B" stroke-width="0.45"/>
<line x1="258.80" y1="299.00" x2="258.80" y2="299.50" stroke="#E7A54B" stroke-width="0.45"/>
<rect x="254.90" y="298.00" width="7.80" height="1.00" fill="#fff" stroke="#E7A54B" stroke-width="0.45"/>
<line x1="254.90" y1="298.50" x2="262.70" y2="298.50" stroke="#E7A54B" stroke-width="0.6"/>
<line x1="254.30" y1="302.30" x2="254.30" y2="303.50" stroke="#333" stroke-width="0.4"/>
<text x="254.80" y="253.60" font-size="5.3" text-anchor="middle" fill="#E0323C" stroke="#E0323C" stroke-width="0.14">***</text>
<text font-size="4.85" text-anchor="end" fill="#000" stroke="#000" stroke-width="0.14" transform="translate(257.30 307.00) rotate(-32)">NSUN7</text>
<line x1="271.80" y1="288.50" x2="271.80" y2="291.20" stroke="#3A6A85" stroke-width="0.45"/>
<line x1="271.80" y1="295.60" x2="271.80" y2="298.60" stroke="#3A6A85" stroke-width="0.45"/>
<rect x="267.90" y="291.20" width="7.80" height="4.40" fill="#fff" stroke="#3A6A85" stroke-width="0.45"/>
<line x1="267.90" y1="293.60" x2="275.70" y2="293.60" stroke="#3A6A85" stroke-width="0.6"/>
<circle cx="271.80" cy="279.40" r="0.68" fill="#1c2226"/>
<circle cx="271.80" cy="280.80" r="0.68" fill="#1c2226"/>
<circle cx="271.80" cy="282.20" r="0.68" fill="#1c2226"/>
<circle cx="271.80" cy="283.60" r="0.68" fill="#1c2226"/>
<circle cx="271.80" cy="285.00" r="0.68" fill="#1c2226"/>
<circle cx="271.80" cy="286.40" r="0.68" fill="#1c2226"/>
<circle cx="271.80" cy="287.60" r="0.68" fill="#1c2226"/>
<line x1="280.80" y1="289.80" x2="280.80" y2="292.00" stroke="#E7A54B" stroke-width="0.45"/>
<line x1="280.80" y1="295.00" x2="280.80" y2="297.60" stroke="#E7A54B" stroke-width="0.45"/>
<rect x="276.90" y="292.00" width="7.80" height="3.00" fill="#fff" stroke="#E7A54B" stroke-width="0.45"/>
<line x1="276.90" y1="293.50" x2="284.70" y2="293.50" stroke="#E7A54B" stroke-width="0.6"/>
<line x1="276.30" y1="302.30" x2="276.30" y2="303.50" stroke="#333" stroke-width="0.4"/>
<text x="276.80" y="253.60" font-size="5.3" text-anchor="middle" fill="#E0323C" stroke="#E0323C" stroke-width="0.14">***</text>
<text font-size="4.85" text-anchor="end" fill="#000" stroke="#000" stroke-width="0.14" transform="translate(280.60 307.00) rotate(-32)">TET2</text>
<line x1="290.80" y1="299.75" x2="306.00" y2="299.75" stroke="#4a4a4a" stroke-width="0.55"/>
<line x1="298.40" y1="302.30" x2="298.40" y2="303.50" stroke="#333" stroke-width="0.4"/>
<text font-size="4.85" text-anchor="end" fill="#000" stroke="#000" stroke-width="0.14" transform="translate(302.80 307.00) rotate(-32)">TRDMT1</text>
<text x="316.20" y="264.80" font-size="4.8" text-anchor="start" fill="#000" stroke="#000" stroke-width="0.14">Tissue type</text>
<rect x="315.7" y="270.50" width="4.8" height="4.2" fill="#fff" stroke="#3A6A85" stroke-width="0.55"/>
<line x1="315.70" y1="272.60" x2="320.50" y2="272.60" stroke="#3A6A85" stroke-width="0.6"/>
<line x1="318.10" y1="269.40" x2="318.10" y2="270.50" stroke="#3A6A85" stroke-width="0.5"/>
<line x1="318.10" y1="274.70" x2="318.10" y2="275.80" stroke="#3A6A85" stroke-width="0.5"/>
<rect x="315.7" y="280.20" width="4.8" height="4.2" fill="#fff" stroke="#E7A54B" stroke-width="0.55"/>
<line x1="315.70" y1="282.30" x2="320.50" y2="282.30" stroke="#E7A54B" stroke-width="0.6"/>
<line x1="318.10" y1="279.10" x2="318.10" y2="280.20" stroke="#E7A54B" stroke-width="0.5"/>
<line x1="318.10" y1="284.40" x2="318.10" y2="285.50" stroke="#E7A54B" stroke-width="0.5"/>
<text x="323.50" y="274.40" font-size="4.7" text-anchor="start" fill="#000" stroke="#000" stroke-width="0.14">Cancer</text>
<text x="323.50" y="284.00" font-size="4.7" text-anchor="start" fill="#000" stroke="#000" stroke-width="0.14">Normal</text>
</g>
<g id="panelF">
<line x1="16.20" y1="383.40" x2="16.20" y2="354.60" stroke="#000" stroke-width="0.7"/>
<line x1="16.20" y1="350.80" x2="16.20" y2="323.00" stroke="#000" stroke-width="0.7"/>
<line x1="14.70" y1="355.60" x2="18.50" y2="353.50" stroke="#000" stroke-width="0.65"/>
<line x1="14.70" y1="351.80" x2="18.50" y2="349.70" stroke="#000" stroke-width="0.65"/>
<line x1="13.00" y1="383.00" x2="16.20" y2="383.00" stroke="#000" stroke-width="0.6"/>
<text x="12.40" y="385.00" font-size="5.9" text-anchor="end" fill="#000" stroke="#000" stroke-width="0.14">0</text>
<line x1="13.00" y1="376.10" x2="16.20" y2="376.10" stroke="#000" stroke-width="0.6"/>
<text x="12.40" y="378.10" font-size="5.9" text-anchor="end" fill="#000" stroke="#000" stroke-width="0.14">1</text>
<line x1="13.00" y1="369.20" x2="16.20" y2="369.20" stroke="#000" stroke-width="0.6"/>
<text x="12.40" y="371.20" font-size="5.9" text-anchor="end" fill="#000" stroke="#000" stroke-width="0.14">2</text>
<line x1="13.00" y1="362.30" x2="16.20" y2="362.30" stroke="#000" stroke-width="0.6"/>
<text x="12.40" y="364.30" font-size="5.9" text-anchor="end" fill="#000" stroke="#000" stroke-width="0.14">3</text>
<line x1="13.00" y1="355.20" x2="16.20" y2="355.20" stroke="#000" stroke-width="0.6"/>
<text x="12.40" y="355.90" font-size="5.9" text-anchor="end" fill="#000" stroke="#000" stroke-width="0.14">4</text>
<line x1="13.00" y1="349.20" x2="16.20" y2="349.20" stroke="#000" stroke-width="0.6"/>
<text x="12.40" y="350.50" font-size="5.9" text-anchor="end" fill="#000" stroke="#000" stroke-width="0.14">10</text>
<line x1="13.00" y1="336.10" x2="16.20" y2="336.10" stroke="#000" stroke-width="0.6"/>
<text x="12.40" y="338.10" font-size="5.9" text-anchor="end" fill="#000" stroke="#000" stroke-width="0.14">15</text>
<line x1="13.00" y1="323.00" x2="16.20" y2="323.00" stroke="#000" stroke-width="0.6"/>
<text x="12.40" y="325.00" font-size="5.9" text-anchor="end" fill="#000" stroke="#000" stroke-width="0.14">20</text>
<text x="4.70" y="360.00" font-size="5.1" text-anchor="middle" fill="#000" stroke="#000" stroke-width="0.14" transform="rotate(-90.00 4.70 360.00)">Expression</text>
<line x1="15.85" y1="383.00" x2="317.30" y2="383.00" stroke="#000" stroke-width="0.8"/>
<rect x="19.15" y="376.10" width="5.80" height="6.90" fill="#21404F"/>
<line x1="22.05" y1="376.10" x2="22.05" y2="375.69" stroke="#21404F" stroke-width="0.5"/>
<line x1="20.80" y1="375.69" x2="23.30" y2="375.69" stroke="#21404F" stroke-width="0.5"/>
<rect x="27.70" y="370.24" width="5.80" height="12.76" fill="#F6931D"/>
<line x1="30.60" y1="370.24" x2="30.60" y2="367.61" stroke="#F6931D" stroke-width="0.55"/>
<line x1="29.10" y1="367.61" x2="32.10" y2="367.61" stroke="#F6931D" stroke-width="0.55"/>
<text x="25.40" y="365.40" font-size="6.2" text-anchor="middle" fill="#E0323C" stroke="#E0323C" stroke-width="0.14">*</text>
<line x1="26.40" y1="383.00" x2="26.40" y2="384.60" stroke="#000" stroke-width="0.6"/>
<text font-size="4.85" text-anchor="end" fill="#000" stroke="#000" stroke-width="0.14" transform="translate(30.70 388.60) rotate(-32)">ALYREF</text>
<rect x="42.53" y="376.10" width="5.80" height="6.90" fill="#21404F"/>
<line x1="45.43" y1="376.10" x2="45.43" y2="375.69" stroke="#21404F" stroke-width="0.5"/>
<line x1="44.18" y1="375.69" x2="46.68" y2="375.69" stroke="#21404F" stroke-width="0.5"/>
<rect x="51.08" y="374.24" width="5.80" height="8.76" fill="#F6931D"/>
<line x1="53.98" y1="374.24" x2="53.98" y2="373.55" stroke="#F6931D" stroke-width="0.55"/>
<line x1="52.48" y1="373.55" x2="55.48" y2="373.55" stroke="#F6931D" stroke-width="0.55"/>
<text x="48.78" y="365.40" font-size="6.2" text-anchor="middle" fill="#E0323C" stroke="#E0323C" stroke-width="0.14">*</text>
<line x1="49.78" y1="383.00" x2="49.78" y2="384.60" stroke="#000" stroke-width="0.6"/>
<text font-size="4.85" text-anchor="end" fill="#000" stroke="#000" stroke-width="0.14" transform="translate(54.08 388.60) rotate(-32)">DNMT1</text>
<rect x="65.91" y="376.10" width="5.80" height="6.90" fill="#21404F"/>
<line x1="68.81" y1="376.10" x2="68.81" y2="375.69" stroke="#21404F" stroke-width="0.5"/>
<line x1="67.56" y1="375.69" x2="70.06" y2="375.69" stroke="#21404F" stroke-width="0.5"/>
<rect x="74.46" y="355.50" width="5.80" height="27.50" fill="#F6931D"/>
<rect x="74.46" y="341.60" width="5.80" height="9.40" fill="#F6931D"/>
<line x1="77.36" y1="341.60" x2="77.36" y2="338.20" stroke="#F6931D" stroke-width="0.55"/>
<line x1="75.86" y1="338.20" x2="78.86" y2="338.20" stroke="#F6931D" stroke-width="0.55"/>
<text x="74.56" y="337.00" font-size="6.2" text-anchor="middle" fill="#E0323C" stroke="#E0323C" stroke-width="0.14">***</text>
<line x1="73.16" y1="383.00" x2="73.16" y2="384.60" stroke="#000" stroke-width="0.6"/>
<text font-size="4.85" text-anchor="end" fill="#000" stroke="#000" stroke-width="0.14" transform="translate(77.46 388.60) rotate(-32)">DNMT3A</text>
<rect x="89.29" y="376.10" width="5.80" height="6.90" fill="#21404F"/>
<line x1="92.19" y1="376.10" x2="92.19" y2="375.69" stroke="#21404F" stroke-width="0.5"/>
<line x1="90.94" y1="375.69" x2="93.44" y2="375.69" stroke="#21404F" stroke-width="0.5"/>
<rect x="97.84" y="366.44" width="5.80" height="16.56" fill="#F6931D"/>
<line x1="100.74" y1="366.44" x2="100.74" y2="365.61" stroke="#F6931D" stroke-width="0.55"/>
<line x1="99.24" y1="365.61" x2="102.24" y2="365.61" stroke="#F6931D" stroke-width="0.55"/>
<text x="96.94" y="365.90" font-size="6.2" text-anchor="middle" fill="#E0323C" stroke="#E0323C" stroke-width="0.14">***</text>
<line x1="96.54" y1="383.00" x2="96.54" y2="384.60" stroke="#000" stroke-width="0.6"/>
<text font-size="4.85" text-anchor="end" fill="#000" stroke="#000" stroke-width="0.14" transform="translate(100.84 388.60) rotate(-32)">DNMT3B</text>
<rect x="112.67" y="376.10" width="5.80" height="6.90" fill="#21404F"/>
<line x1="115.57" y1="376.10" x2="115.57" y2="375.69" stroke="#21404F" stroke-width="0.5"/>
<line x1="114.32" y1="375.69" x2="116.82" y2="375.69" stroke="#21404F" stroke-width="0.5"/>
<rect x="121.22" y="371.27" width="5.80" height="11.73" fill="#F6931D"/>
<line x1="124.12" y1="371.27" x2="124.12" y2="370.72" stroke="#F6931D" stroke-width="0.55"/>
<line x1="122.62" y1="370.72" x2="125.62" y2="370.72" stroke="#F6931D" stroke-width="0.55"/>
<text x="119.32" y="368.00" font-size="6.2" text-anchor="middle" fill="#E0323C" stroke="#E0323C" stroke-width="0.14">**</text>
<line x1="119.92" y1="383.00" x2="119.92" y2="384.60" stroke="#000" stroke-width="0.6"/>
<text font-size="4.85" text-anchor="end" fill="#000" stroke="#000" stroke-width="0.14" transform="translate(124.22 388.60) rotate(-32)">NOP2</text>
<rect x="136.05" y="376.10" width="5.80" height="6.90" fill="#21404F"/>
<line x1="138.95" y1="376.10" x2="138.95" y2="375.69" stroke="#21404F" stroke-width="0.5"/>
<line x1="137.70" y1="375.69" x2="140.20" y2="375.69" stroke="#21404F" stroke-width="0.5"/>
<rect x="144.60" y="380.58" width="5.80" height="2.42" fill="#F6931D"/>
<line x1="147.50" y1="380.58" x2="147.50" y2="380.31" stroke="#F6931D" stroke-width="0.55"/>
<line x1="146.00" y1="380.31" x2="149.00" y2="380.31" stroke="#F6931D" stroke-width="0.55"/>
<text x="143.70" y="374.60" font-size="6.2" text-anchor="middle" fill="#E0323C" stroke="#E0323C" stroke-width="0.14">***</text>
<line x1="143.30" y1="383.00" x2="143.30" y2="384.60" stroke="#000" stroke-width="0.6"/>
<text font-size="4.85" text-anchor="end" fill="#000" stroke="#000" stroke-width="0.14" transform="translate(147.60 388.60) rotate(-32)">NSUN2</text>
<rect x="159.43" y="376.10" width="5.80" height="6.90" fill="#21404F"/>
<line x1="162.33" y1="376.10" x2="162.33" y2="375.69" stroke="#21404F" stroke-width="0.5"/>
<line x1="161.08" y1="375.69" x2="163.58" y2="375.69" stroke="#21404F" stroke-width="0.5"/>
<rect x="167.98" y="372.65" width="5.80" height="10.35" fill="#F6931D"/>
<line x1="170.88" y1="372.65" x2="170.88" y2="372.10" stroke="#F6931D" stroke-width="0.55"/>
<line x1="169.38" y1="372.10" x2="172.38" y2="372.10" stroke="#F6931D" stroke-width="0.55"/>
<text x="165.68" y="372.40" font-size="6.2" text-anchor="middle" fill="#E0323C" stroke="#E0323C" stroke-width="0.14">*</text>
<line x1="166.68" y1="383.00" x2="166.68" y2="384.60" stroke="#000" stroke-width="0.6"/>
<text font-size="4.85" text-anchor="end" fill="#000" stroke="#000" stroke-width="0.14" transform="translate(170.98 388.60) rotate(-32)">NSUN3</text>
<rect x="182.81" y="376.10" width="5.80" height="6.90" fill="#21404F"/>
<line x1="185.71" y1="376.10" x2="185.71" y2="375.69" stroke="#21404F" stroke-width="0.5"/>
<line x1="184.46" y1="375.69" x2="186.96" y2="375.69" stroke="#21404F" stroke-width="0.5"/>
<rect x="191.36" y="372.65" width="5.80" height="10.35" fill="#F6931D"/>
<line x1="194.26" y1="372.65" x2="194.26" y2="371.96" stroke="#F6931D" stroke-width="0.55"/>
<line x1="192.76" y1="371.96" x2="195.76" y2="371.96" stroke="#F6931D" stroke-width="0.55"/>
<text x="189.46" y="372.40" font-size="6.2" text-anchor="middle" fill="#E0323C" stroke="#E0323C" stroke-width="0.14">**</text>
<line x1="190.06" y1="383.00" x2="190.06" y2="384.60" stroke="#000" stroke-width="0.6"/>
<text font-size="4.85" text-anchor="end" fill="#000" stroke="#000" stroke-width="0.14" transform="translate(194.36 388.60) rotate(-32)">NSUN4</text>
<rect x="206.19" y="376.10" width="5.80" height="6.90" fill="#21404F"/>
<line x1="209.09" y1="376.10" x2="209.09" y2="375.69" stroke="#21404F" stroke-width="0.5"/>
<line x1="207.84" y1="375.69" x2="210.34" y2="375.69" stroke="#21404F" stroke-width="0.5"/>
<rect x="214.74" y="371.27" width="5.80" height="11.73" fill="#F6931D"/>
<line x1="217.64" y1="371.27" x2="217.64" y2="370.72" stroke="#F6931D" stroke-width="0.55"/>
<line x1="216.14" y1="370.72" x2="219.14" y2="370.72" stroke="#F6931D" stroke-width="0.55"/>
<text x="213.84" y="371.10" font-size="6.2" text-anchor="middle" fill="#E0323C" stroke="#E0323C" stroke-width="0.14">***</text>
<line x1="213.44" y1="383.00" x2="213.44" y2="384.60" stroke="#000" stroke-width="0.6"/>
<text font-size="4.85" text-anchor="end" fill="#000" stroke="#000" stroke-width="0.14" transform="translate(217.74 388.60) rotate(-32)">NSUN5</text>
<rect x="229.57" y="376.10" width="5.80" height="6.90" fill="#21404F"/>
<line x1="232.47" y1="376.10" x2="232.47" y2="375.69" stroke="#21404F" stroke-width="0.5"/>
<line x1="231.22" y1="375.69" x2="233.72" y2="375.69" stroke="#21404F" stroke-width="0.5"/>
<rect x="238.12" y="364.71" width="5.80" height="18.29" fill="#F6931D"/>
<line x1="241.02" y1="364.71" x2="241.02" y2="362.99" stroke="#F6931D" stroke-width="0.55"/>
<line x1="239.52" y1="362.99" x2="242.52" y2="362.99" stroke="#F6931D" stroke-width="0.55"/>
<text x="237.22" y="363.80" font-size="6.2" text-anchor="middle" fill="#E0323C" stroke="#E0323C" stroke-width="0.14">***</text>
<line x1="236.82" y1="383.00" x2="236.82" y2="384.60" stroke="#000" stroke-width="0.6"/>
<text font-size="4.85" text-anchor="end" fill="#000" stroke="#000" stroke-width="0.14" transform="translate(241.12 388.60) rotate(-32)">NSUN6</text>
<rect x="252.95" y="376.10" width="5.80" height="6.90" fill="#21404F"/>
<line x1="255.85" y1="376.10" x2="255.85" y2="375.69" stroke="#21404F" stroke-width="0.5"/>
<line x1="254.60" y1="375.69" x2="257.10" y2="375.69" stroke="#21404F" stroke-width="0.5"/>
<rect x="261.50" y="369.20" width="5.80" height="13.80" fill="#F6931D"/>
<line x1="264.40" y1="369.20" x2="264.40" y2="368.37" stroke="#F6931D" stroke-width="0.55"/>
<line x1="262.90" y1="368.37" x2="265.90" y2="368.37" stroke="#F6931D" stroke-width="0.55"/>
<text x="260.60" y="368.50" font-size="6.2" text-anchor="middle" fill="#E0323C" stroke="#E0323C" stroke-width="0.14">***</text>
<line x1="260.20" y1="383.00" x2="260.20" y2="384.60" stroke="#000" stroke-width="0.6"/>
<text font-size="4.85" text-anchor="end" fill="#000" stroke="#000" stroke-width="0.14" transform="translate(264.50 388.60) rotate(-32)">NSUN7</text>
<rect x="276.33" y="376.10" width="5.80" height="6.90" fill="#21404F"/>
<line x1="279.23" y1="376.10" x2="279.23" y2="375.69" stroke="#21404F" stroke-width="0.5"/>
<line x1="277.98" y1="375.69" x2="280.48" y2="375.69" stroke="#21404F" stroke-width="0.5"/>
<rect x="284.88" y="371.96" width="5.80" height="11.04" fill="#F6931D"/>
<line x1="287.78" y1="371.96" x2="287.78" y2="370.72" stroke="#F6931D" stroke-width="0.55"/>
<line x1="286.28" y1="370.72" x2="289.28" y2="370.72" stroke="#F6931D" stroke-width="0.55"/>
<text x="282.58" y="371.70" font-size="6.2" text-anchor="middle" fill="#E0323C" stroke="#E0323C" stroke-width="0.14">*</text>
<line x1="283.58" y1="383.00" x2="283.58" y2="384.60" stroke="#000" stroke-width="0.6"/>
<text font-size="4.85" text-anchor="end" fill="#000" stroke="#000" stroke-width="0.14" transform="translate(287.88 388.60) rotate(-32)">TET2</text>
<rect x="299.71" y="376.10" width="5.80" height="6.90" fill="#21404F"/>
<line x1="302.61" y1="376.10" x2="302.61" y2="375.69" stroke="#21404F" stroke-width="0.5"/>
<line x1="301.36" y1="375.69" x2="303.86" y2="375.69" stroke="#21404F" stroke-width="0.5"/>
<rect x="308.26" y="378.86" width="5.80" height="4.14" fill="#F6931D"/>
<line x1="311.16" y1="378.86" x2="311.16" y2="378.38" stroke="#F6931D" stroke-width="0.55"/>
<line x1="309.66" y1="378.38" x2="312.66" y2="378.38" stroke="#F6931D" stroke-width="0.55"/>
<text x="306.36" y="375.10" font-size="6.2" text-anchor="middle" fill="#E0323C" stroke="#E0323C" stroke-width="0.14">**</text>
<line x1="306.96" y1="383.00" x2="306.96" y2="384.60" stroke="#000" stroke-width="0.6"/>
<text font-size="4.85" text-anchor="end" fill="#000" stroke="#000" stroke-width="0.14" transform="translate(311.26 388.60) rotate(-32)">TRDMT1</text>
<rect x="321.80" y="357.90" width="6.00" height="3.40" fill="#21404F"/>
<rect x="321.80" y="368.00" width="6.00" height="3.40" fill="#F6931D"/>
<text x="331.00" y="361.40" font-size="5.0" text-anchor="start" fill="#000" stroke="#000" stroke-width="0.14">L02</text>
<text x="331.00" y="371.50" font-size="5.0" text-anchor="start" fill="#000" stroke="#000" stroke-width="0.14">Huh7</text>
</g>
</svg>
</body>
</html>
